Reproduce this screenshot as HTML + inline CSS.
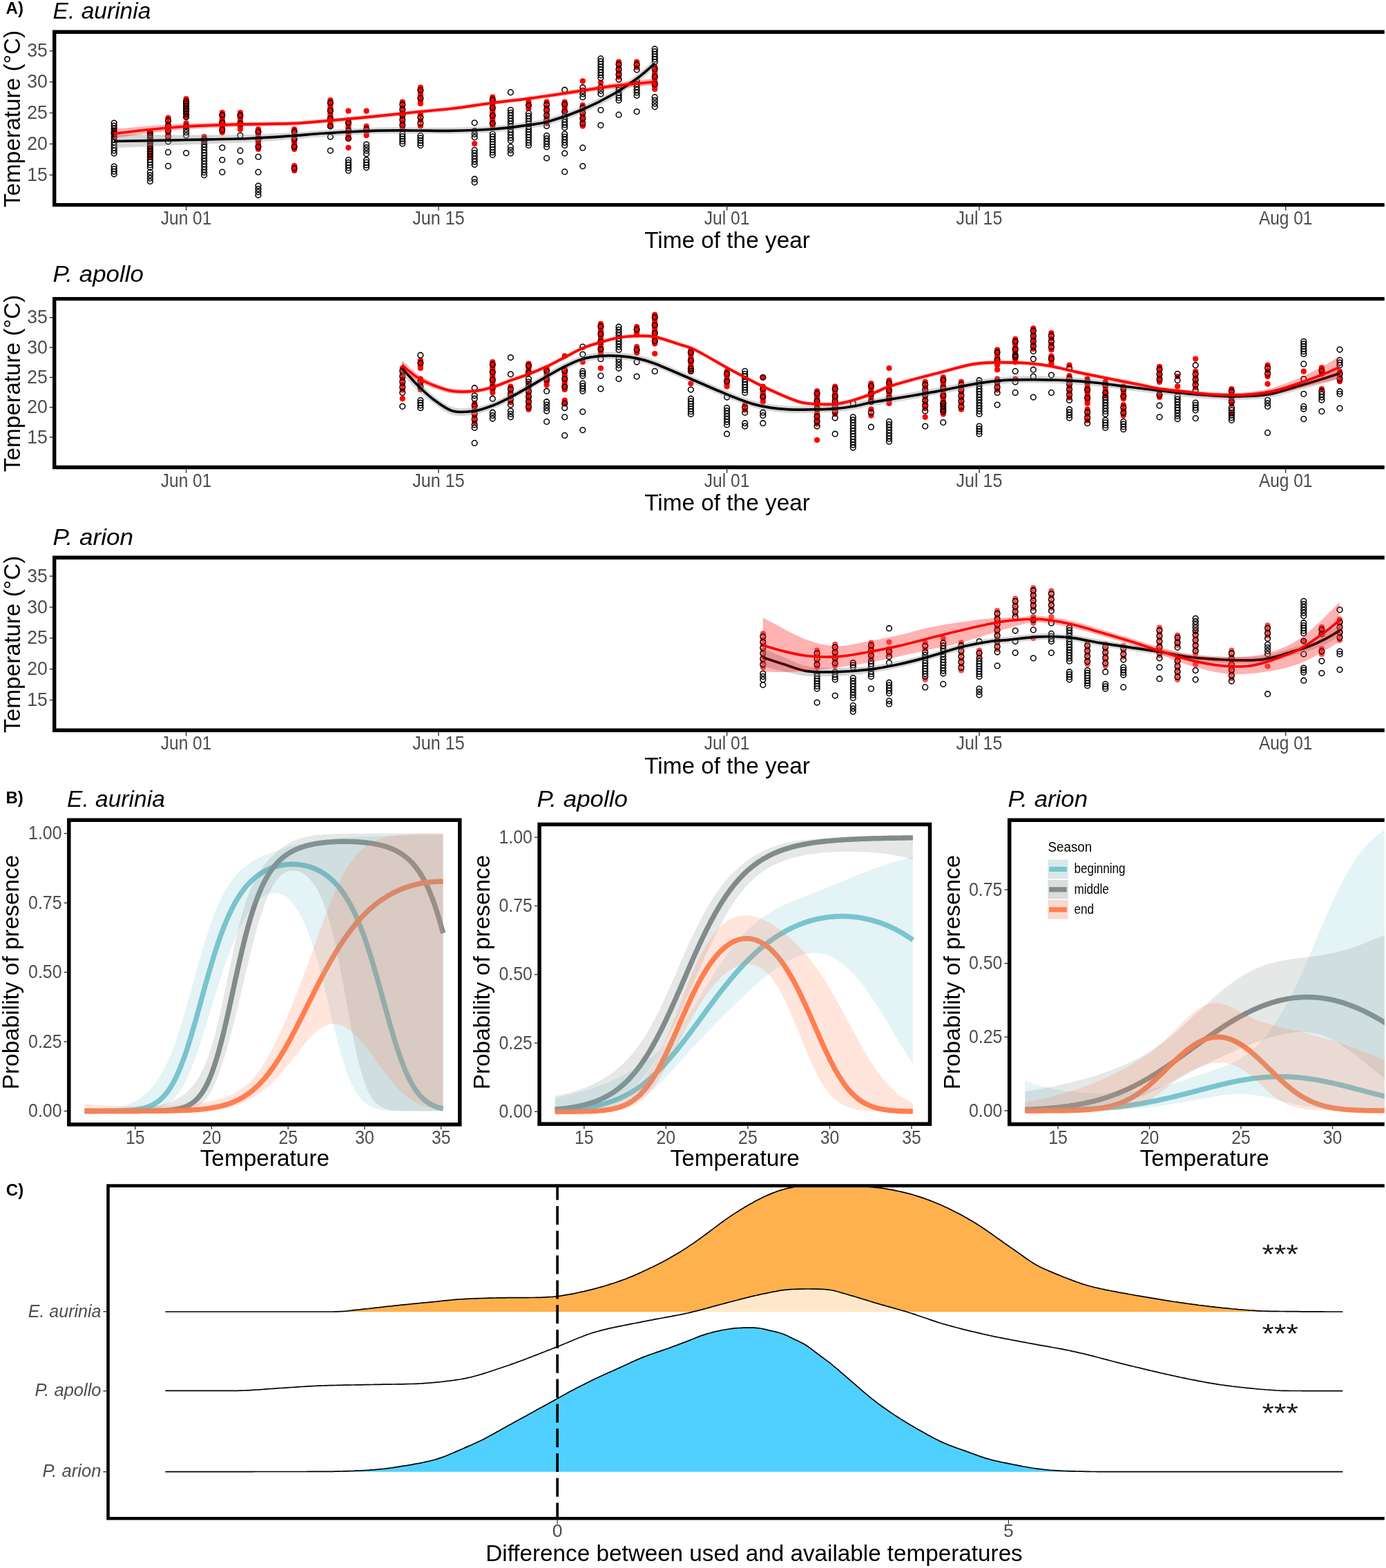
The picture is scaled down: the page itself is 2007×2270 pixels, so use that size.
<!DOCTYPE html>
<html><head><meta charset="utf-8"><title>Figure</title>
<style>html,body{margin:0;padding:0;background:#fff;width:2007px;height:2270px;overflow:hidden}svg{display:block}</style>
</head><body>
<svg width="2007" height="2270" viewBox="0 0 2007 2270" font-family='"Liberation Sans", Arial, sans-serif'><defs><clipPath id="clipA0"><rect x="81.4" y="49" width="2100" height="244.9"/></clipPath><clipPath id="clipA1"><rect x="81.4" y="435.3" width="2100" height="238.5"/></clipPath><clipPath id="clipA2"><rect x="81.4" y="810" width="2100" height="244.6"/></clipPath><clipPath id="clipB1"><rect x="102.6" y="1190" width="560.5" height="435.2"/></clipPath><clipPath id="clipB2"><rect x="783.9" y="1196.3" width="559.9" height="428.2"/></clipPath><clipPath id="clipB3"><rect x="1464.4" y="1189.9" width="630.1" height="434.8"/></clipPath><clipPath id="clipC"><rect x="159" y="1719" width="1900" height="477"/></clipPath></defs><rect width="2007" height="2270" fill="#fff"/><text x="8.6" y="20.1" font-size="24" font-weight="bold">A)</text>
<text x="8.4" y="1163.3" font-size="24" font-weight="bold">B)</text>
<text x="8.8" y="1730.8" font-size="24" font-weight="bold">C)</text>
<text x="76.6" y="27.3" font-size="33.4" font-style="italic" textLength="141.8" lengthAdjust="spacingAndGlyphs">E. aurinia</text>
<g clip-path="url(#clipA0)">
<g fill="#f00" fill-opacity="1"><circle cx="165.2" cy="188" r="4.1"/><circle cx="165.2" cy="192.5" r="4.1"/><circle cx="165.2" cy="197" r="4.1"/><circle cx="217.4" cy="192" r="4.1"/><circle cx="217.4" cy="195.9" r="4.1"/><circle cx="217.4" cy="199.8" r="4.1"/><circle cx="217.4" cy="203.7" r="4.1"/><circle cx="217.4" cy="207.6" r="4.1"/><circle cx="217.4" cy="211.4" r="4.1"/><circle cx="217.4" cy="215.3" r="4.1"/><circle cx="217.4" cy="219.2" r="4.1"/><circle cx="217.4" cy="223.1" r="4.1"/><circle cx="217.4" cy="227" r="4.1"/><circle cx="243.5" cy="170.6" r="4.1"/><circle cx="243.5" cy="178.2" r="4.1"/><circle cx="243.5" cy="185.9" r="4.1"/><circle cx="243.5" cy="193.5" r="4.1"/><circle cx="243.5" cy="201.2" r="4.1"/><circle cx="269.6" cy="143" r="4.1"/><circle cx="269.6" cy="146.8" r="4.1"/><circle cx="269.6" cy="150.6" r="4.1"/><circle cx="269.6" cy="154.4" r="4.1"/><circle cx="269.6" cy="158.1" r="4.1"/><circle cx="269.6" cy="161.9" r="4.1"/><circle cx="269.6" cy="165.7" r="4.1"/><circle cx="269.6" cy="169.5" r="4.1"/><circle cx="269.6" cy="178.4" r="4.1"/><circle cx="269.6" cy="182.8" r="4.1"/><circle cx="295.7" cy="198" r="4.1"/><circle cx="295.7" cy="201.5" r="4.1"/><circle cx="295.7" cy="205" r="4.1"/><circle cx="321.8" cy="163" r="4.1"/><circle cx="321.8" cy="166.6" r="4.1"/><circle cx="321.8" cy="170.2" r="4.1"/><circle cx="321.8" cy="173.8" r="4.1"/><circle cx="321.8" cy="177.3" r="4.1"/><circle cx="321.8" cy="180.9" r="4.1"/><circle cx="321.8" cy="184.5" r="4.1"/><circle cx="321.8" cy="188.1" r="4.1"/><circle cx="321.8" cy="191.7" r="4.1"/><circle cx="347.9" cy="163" r="4.1"/><circle cx="347.9" cy="167" r="4.1"/><circle cx="347.9" cy="171.1" r="4.1"/><circle cx="347.9" cy="175.1" r="4.1"/><circle cx="347.9" cy="179.1" r="4.1"/><circle cx="347.9" cy="183.2" r="4.1"/><circle cx="347.9" cy="187.2" r="4.1"/><circle cx="374" cy="187.2" r="4.1"/><circle cx="374" cy="190.8" r="4.1"/><circle cx="374" cy="194.4" r="4.1"/><circle cx="374" cy="198" r="4.1"/><circle cx="374" cy="201.6" r="4.1"/><circle cx="374" cy="205.2" r="4.1"/><circle cx="374" cy="208.8" r="4.1"/><circle cx="374" cy="212.4" r="4.1"/><circle cx="374" cy="216" r="4.1"/><circle cx="426.2" cy="187" r="4.1"/><circle cx="426.2" cy="190.6" r="4.1"/><circle cx="426.2" cy="194.2" r="4.1"/><circle cx="426.2" cy="197.9" r="4.1"/><circle cx="426.2" cy="201.5" r="4.1"/><circle cx="426.2" cy="205.1" r="4.1"/><circle cx="426.2" cy="208.8" r="4.1"/><circle cx="426.2" cy="212.4" r="4.1"/><circle cx="426.2" cy="216" r="4.1"/><circle cx="426.2" cy="240" r="4.1"/><circle cx="426.2" cy="247" r="4.1"/><circle cx="478.4" cy="145" r="4.1"/><circle cx="478.4" cy="148.8" r="4.1"/><circle cx="478.4" cy="152.6" r="4.1"/><circle cx="478.4" cy="156.3" r="4.1"/><circle cx="478.4" cy="160.1" r="4.1"/><circle cx="478.4" cy="163.9" r="4.1"/><circle cx="478.4" cy="167.7" r="4.1"/><circle cx="478.4" cy="171.5" r="4.1"/><circle cx="478.4" cy="175.2" r="4.1"/><circle cx="478.4" cy="179" r="4.1"/><circle cx="478.4" cy="182.8" r="4.1"/><circle cx="504.5" cy="160.7" r="4.1"/><circle cx="504.5" cy="174" r="4.1"/><circle cx="504.5" cy="177.8" r="4.1"/><circle cx="504.5" cy="181.6" r="4.1"/><circle cx="504.5" cy="185.4" r="4.1"/><circle cx="504.5" cy="189.1" r="4.1"/><circle cx="504.5" cy="192.9" r="4.1"/><circle cx="504.5" cy="196.7" r="4.1"/><circle cx="504.5" cy="200.5" r="4.1"/><circle cx="504.5" cy="213.8" r="4.1"/><circle cx="530.6" cy="160.7" r="4.1"/><circle cx="530.6" cy="182.8" r="4.1"/><circle cx="530.6" cy="187.2" r="4.1"/><circle cx="530.6" cy="191.6" r="4.1"/><circle cx="530.6" cy="196" r="4.1"/><circle cx="582.8" cy="147.6" r="4.1"/><circle cx="582.8" cy="155" r="4.1"/><circle cx="582.8" cy="162.5" r="4.1"/><circle cx="582.8" cy="169.9" r="4.1"/><circle cx="582.8" cy="177.4" r="4.1"/><circle cx="582.8" cy="184.8" r="4.1"/><circle cx="608.9" cy="126.7" r="4.1"/><circle cx="608.9" cy="130.6" r="4.1"/><circle cx="608.9" cy="134.5" r="4.1"/><circle cx="608.9" cy="138.3" r="4.1"/><circle cx="608.9" cy="142.2" r="4.1"/><circle cx="608.9" cy="146.1" r="4.1"/><circle cx="608.9" cy="150" r="4.1"/><circle cx="608.9" cy="166" r="4.1"/><circle cx="608.9" cy="174.2" r="4.1"/><circle cx="608.9" cy="182.5" r="4.1"/><circle cx="687.2" cy="208" r="4.1"/><circle cx="713.3" cy="140.7" r="4.1"/><circle cx="713.3" cy="144.5" r="4.1"/><circle cx="713.3" cy="148.3" r="4.1"/><circle cx="713.3" cy="152.1" r="4.1"/><circle cx="713.3" cy="155.9" r="4.1"/><circle cx="713.3" cy="159.7" r="4.1"/><circle cx="713.3" cy="163.5" r="4.1"/><circle cx="713.3" cy="167.3" r="4.1"/><circle cx="713.3" cy="171.1" r="4.1"/><circle cx="713.3" cy="174.9" r="4.1"/><circle cx="713.3" cy="178.7" r="4.1"/><circle cx="713.3" cy="182.5" r="4.1"/><circle cx="765.5" cy="147.6" r="4.1"/><circle cx="765.5" cy="152.3" r="4.1"/><circle cx="765.5" cy="157" r="4.1"/><circle cx="791.6" cy="147.6" r="4.1"/><circle cx="791.6" cy="155.4" r="4.1"/><circle cx="791.6" cy="163.1" r="4.1"/><circle cx="791.6" cy="170.9" r="4.1"/><circle cx="791.6" cy="178.6" r="4.1"/><circle cx="817.7" cy="147.6" r="4.1"/><circle cx="817.7" cy="151.1" r="4.1"/><circle cx="817.7" cy="154.6" r="4.1"/><circle cx="817.7" cy="158.1" r="4.1"/><circle cx="817.7" cy="161.6" r="4.1"/><circle cx="843.8" cy="117.4" r="4.1"/><circle cx="843.8" cy="152.3" r="4.1"/><circle cx="843.8" cy="159.9" r="4.1"/><circle cx="843.8" cy="167.4" r="4.1"/><circle cx="843.8" cy="174.9" r="4.1"/><circle cx="843.8" cy="182.5" r="4.1"/><circle cx="869.9" cy="119.7" r="4.1"/><circle cx="896" cy="89.5" r="4.1"/><circle cx="896" cy="96.8" r="4.1"/><circle cx="896" cy="104.1" r="4.1"/><circle cx="896" cy="111.4" r="4.1"/><circle cx="922.1" cy="89.5" r="4.1"/><circle cx="922.1" cy="97.2" r="4.1"/><circle cx="948.2" cy="96.5" r="4.1"/><circle cx="948.2" cy="100.1" r="4.1"/><circle cx="948.2" cy="103.7" r="4.1"/><circle cx="948.2" cy="107.3" r="4.1"/><circle cx="948.2" cy="110.9" r="4.1"/><circle cx="948.2" cy="114.6" r="4.1"/><circle cx="948.2" cy="118.2" r="4.1"/><circle cx="948.2" cy="121.8" r="4.1"/><circle cx="948.2" cy="125.4" r="4.1"/><circle cx="948.2" cy="129" r="4.1"/></g><g fill="none" stroke="#000" stroke-width="1.55"><circle cx="165.2" cy="178" r="3.85"/><circle cx="165.2" cy="182" r="3.85"/><circle cx="165.2" cy="186" r="3.85"/><circle cx="165.2" cy="190" r="3.85"/><circle cx="165.2" cy="194" r="3.85"/><circle cx="165.2" cy="198" r="3.85"/><circle cx="165.2" cy="202" r="3.85"/><circle cx="165.2" cy="206" r="3.85"/><circle cx="165.2" cy="210" r="3.85"/><circle cx="165.2" cy="214" r="3.85"/><circle cx="165.2" cy="218" r="3.85"/><circle cx="165.2" cy="222" r="3.85"/><circle cx="165.2" cy="241" r="3.85"/><circle cx="165.2" cy="244.7" r="3.85"/><circle cx="165.2" cy="248.3" r="3.85"/><circle cx="165.2" cy="252" r="3.85"/><circle cx="165.2" cy="192.5" r="3.85"/><circle cx="217.4" cy="195.9" r="3.85"/><circle cx="217.4" cy="207.6" r="3.85"/><circle cx="217.4" cy="219.2" r="3.85"/><circle cx="217.4" cy="192" r="3.85"/><circle cx="217.4" cy="195.9" r="3.85"/><circle cx="217.4" cy="199.8" r="3.85"/><circle cx="217.4" cy="203.7" r="3.85"/><circle cx="217.4" cy="207.6" r="3.85"/><circle cx="217.4" cy="211.5" r="3.85"/><circle cx="217.4" cy="215.4" r="3.85"/><circle cx="217.4" cy="219.2" r="3.85"/><circle cx="217.4" cy="223.1" r="3.85"/><circle cx="217.4" cy="227" r="3.85"/><circle cx="217.4" cy="230.9" r="3.85"/><circle cx="217.4" cy="234.8" r="3.85"/><circle cx="217.4" cy="238.7" r="3.85"/><circle cx="217.4" cy="242.6" r="3.85"/><circle cx="217.4" cy="249.2" r="3.85"/><circle cx="217.4" cy="253.6" r="3.85"/><circle cx="217.4" cy="258.1" r="3.85"/><circle cx="217.4" cy="262.5" r="3.85"/><circle cx="243.5" cy="174.4" r="3.85"/><circle cx="243.5" cy="182.1" r="3.85"/><circle cx="243.5" cy="189.7" r="3.85"/><circle cx="243.5" cy="197.4" r="3.85"/><circle cx="243.5" cy="205" r="3.85"/><circle cx="243.5" cy="220.4" r="3.85"/><circle cx="243.5" cy="240.4" r="3.85"/><circle cx="269.6" cy="146.8" r="3.85"/><circle cx="269.6" cy="158.1" r="3.85"/><circle cx="269.6" cy="169.5" r="3.85"/><circle cx="269.6" cy="150" r="3.85"/><circle cx="269.6" cy="153.8" r="3.85"/><circle cx="269.6" cy="157.5" r="3.85"/><circle cx="269.6" cy="161.2" r="3.85"/><circle cx="269.6" cy="165" r="3.85"/><circle cx="269.6" cy="182.8" r="3.85"/><circle cx="269.6" cy="187" r="3.85"/><circle cx="269.6" cy="191.5" r="3.85"/><circle cx="269.6" cy="196" r="3.85"/><circle cx="269.6" cy="221.6" r="3.85"/><circle cx="295.7" cy="201.5" r="3.85"/><circle cx="295.7" cy="205" r="3.85"/><circle cx="295.7" cy="209.1" r="3.85"/><circle cx="295.7" cy="213.1" r="3.85"/><circle cx="295.7" cy="217.2" r="3.85"/><circle cx="295.7" cy="221.2" r="3.85"/><circle cx="295.7" cy="225.2" r="3.85"/><circle cx="295.7" cy="229.3" r="3.85"/><circle cx="295.7" cy="233.3" r="3.85"/><circle cx="295.7" cy="237.4" r="3.85"/><circle cx="295.7" cy="241.4" r="3.85"/><circle cx="295.7" cy="245.5" r="3.85"/><circle cx="295.7" cy="249.5" r="3.85"/><circle cx="295.7" cy="253.6" r="3.85"/><circle cx="321.8" cy="166.6" r="3.85"/><circle cx="321.8" cy="177.3" r="3.85"/><circle cx="321.8" cy="188.1" r="3.85"/><circle cx="321.8" cy="213.8" r="3.85"/><circle cx="321.8" cy="231.5" r="3.85"/><circle cx="321.8" cy="249.2" r="3.85"/><circle cx="347.9" cy="167" r="3.85"/><circle cx="347.9" cy="179.1" r="3.85"/><circle cx="347.9" cy="196" r="3.85"/><circle cx="347.9" cy="218.2" r="3.85"/><circle cx="347.9" cy="233.7" r="3.85"/><circle cx="374" cy="190.8" r="3.85"/><circle cx="374" cy="201.6" r="3.85"/><circle cx="374" cy="212.4" r="3.85"/><circle cx="374" cy="227" r="3.85"/><circle cx="374" cy="249.2" r="3.85"/><circle cx="374" cy="269" r="3.85"/><circle cx="374" cy="273.5" r="3.85"/><circle cx="374" cy="277.9" r="3.85"/><circle cx="374" cy="282.4" r="3.85"/><circle cx="426.2" cy="190.6" r="3.85"/><circle cx="426.2" cy="201.5" r="3.85"/><circle cx="426.2" cy="212.4" r="3.85"/><circle cx="426.2" cy="243.5" r="3.85"/><circle cx="478.4" cy="148.8" r="3.85"/><circle cx="478.4" cy="160.1" r="3.85"/><circle cx="478.4" cy="171.5" r="3.85"/><circle cx="478.4" cy="182.8" r="3.85"/><circle cx="478.4" cy="198" r="3.85"/><circle cx="478.4" cy="218" r="3.85"/><circle cx="504.5" cy="177.8" r="3.85"/><circle cx="504.5" cy="189.1" r="3.85"/><circle cx="504.5" cy="200.5" r="3.85"/><circle cx="504.5" cy="231.5" r="3.85"/><circle cx="504.5" cy="235.4" r="3.85"/><circle cx="504.5" cy="239.2" r="3.85"/><circle cx="504.5" cy="243.1" r="3.85"/><circle cx="504.5" cy="247" r="3.85"/><circle cx="530.6" cy="187.2" r="3.85"/><circle cx="530.6" cy="209" r="3.85"/><circle cx="530.6" cy="213.6" r="3.85"/><circle cx="530.6" cy="218.1" r="3.85"/><circle cx="530.6" cy="222.7" r="3.85"/><circle cx="530.6" cy="231.5" r="3.85"/><circle cx="530.6" cy="235.2" r="3.85"/><circle cx="530.6" cy="238.9" r="3.85"/><circle cx="530.6" cy="242.6" r="3.85"/><circle cx="582.8" cy="151.3" r="3.85"/><circle cx="582.8" cy="158.8" r="3.85"/><circle cx="582.8" cy="166.2" r="3.85"/><circle cx="582.8" cy="173.6" r="3.85"/><circle cx="582.8" cy="181.1" r="3.85"/><circle cx="582.8" cy="194" r="3.85"/><circle cx="582.8" cy="197.5" r="3.85"/><circle cx="582.8" cy="201" r="3.85"/><circle cx="582.8" cy="204.5" r="3.85"/><circle cx="582.8" cy="208" r="3.85"/><circle cx="608.9" cy="130.6" r="3.85"/><circle cx="608.9" cy="142.2" r="3.85"/><circle cx="608.9" cy="170.1" r="3.85"/><circle cx="608.9" cy="178.4" r="3.85"/><circle cx="608.9" cy="196.4" r="3.85"/><circle cx="608.9" cy="199.9" r="3.85"/><circle cx="608.9" cy="203.4" r="3.85"/><circle cx="608.9" cy="206.9" r="3.85"/><circle cx="608.9" cy="210.4" r="3.85"/><circle cx="687.2" cy="177.8" r="3.85"/><circle cx="687.2" cy="189.5" r="3.85"/><circle cx="687.2" cy="194.2" r="3.85"/><circle cx="687.2" cy="198.8" r="3.85"/><circle cx="687.2" cy="217.4" r="3.85"/><circle cx="687.2" cy="221.6" r="3.85"/><circle cx="687.2" cy="225.8" r="3.85"/><circle cx="687.2" cy="229.9" r="3.85"/><circle cx="687.2" cy="234.1" r="3.85"/><circle cx="687.2" cy="238.3" r="3.85"/><circle cx="687.2" cy="259.2" r="3.85"/><circle cx="687.2" cy="263.9" r="3.85"/><circle cx="713.3" cy="144.5" r="3.85"/><circle cx="713.3" cy="155.9" r="3.85"/><circle cx="713.3" cy="167.3" r="3.85"/><circle cx="713.3" cy="178.7" r="3.85"/><circle cx="713.3" cy="194" r="3.85"/><circle cx="713.3" cy="197.8" r="3.85"/><circle cx="713.3" cy="201.6" r="3.85"/><circle cx="713.3" cy="205.4" r="3.85"/><circle cx="713.3" cy="209.2" r="3.85"/><circle cx="713.3" cy="212.9" r="3.85"/><circle cx="713.3" cy="216.7" r="3.85"/><circle cx="713.3" cy="220.5" r="3.85"/><circle cx="713.3" cy="224.3" r="3.85"/><circle cx="739.4" cy="133.7" r="3.85"/><circle cx="739.4" cy="159.3" r="3.85"/><circle cx="739.4" cy="163.3" r="3.85"/><circle cx="739.4" cy="167.3" r="3.85"/><circle cx="739.4" cy="171.3" r="3.85"/><circle cx="739.4" cy="175.3" r="3.85"/><circle cx="739.4" cy="179.3" r="3.85"/><circle cx="739.4" cy="183.4" r="3.85"/><circle cx="739.4" cy="187.4" r="3.85"/><circle cx="739.4" cy="191.4" r="3.85"/><circle cx="739.4" cy="195.4" r="3.85"/><circle cx="739.4" cy="199.4" r="3.85"/><circle cx="739.4" cy="203.4" r="3.85"/><circle cx="739.4" cy="212.7" r="3.85"/><circle cx="739.4" cy="217.3" r="3.85"/><circle cx="739.4" cy="222" r="3.85"/><circle cx="765.5" cy="152.3" r="3.85"/><circle cx="765.5" cy="163.9" r="3.85"/><circle cx="765.5" cy="167.8" r="3.85"/><circle cx="765.5" cy="171.7" r="3.85"/><circle cx="765.5" cy="175.5" r="3.85"/><circle cx="765.5" cy="179.4" r="3.85"/><circle cx="765.5" cy="183.3" r="3.85"/><circle cx="765.5" cy="187.2" r="3.85"/><circle cx="765.5" cy="191" r="3.85"/><circle cx="765.5" cy="194.9" r="3.85"/><circle cx="765.5" cy="198.8" r="3.85"/><circle cx="765.5" cy="202.7" r="3.85"/><circle cx="765.5" cy="206.5" r="3.85"/><circle cx="765.5" cy="210.4" r="3.85"/><circle cx="791.6" cy="151.5" r="3.85"/><circle cx="791.6" cy="159.2" r="3.85"/><circle cx="791.6" cy="167" r="3.85"/><circle cx="791.6" cy="174.7" r="3.85"/><circle cx="791.6" cy="182.5" r="3.85"/><circle cx="791.6" cy="196.4" r="3.85"/><circle cx="791.6" cy="200.5" r="3.85"/><circle cx="791.6" cy="204.6" r="3.85"/><circle cx="791.6" cy="208.6" r="3.85"/><circle cx="791.6" cy="212.7" r="3.85"/><circle cx="791.6" cy="229" r="3.85"/><circle cx="817.7" cy="130.2" r="3.85"/><circle cx="817.7" cy="151.1" r="3.85"/><circle cx="817.7" cy="161.6" r="3.85"/><circle cx="817.7" cy="168.5" r="3.85"/><circle cx="817.7" cy="172.6" r="3.85"/><circle cx="817.7" cy="176.7" r="3.85"/><circle cx="817.7" cy="180.7" r="3.85"/><circle cx="817.7" cy="184.8" r="3.85"/><circle cx="817.7" cy="194" r="3.85"/><circle cx="817.7" cy="198.1" r="3.85"/><circle cx="817.7" cy="202.2" r="3.85"/><circle cx="817.7" cy="206.3" r="3.85"/><circle cx="817.7" cy="210.4" r="3.85"/><circle cx="817.7" cy="222" r="3.85"/><circle cx="817.7" cy="248.7" r="3.85"/><circle cx="843.8" cy="126.7" r="3.85"/><circle cx="843.8" cy="131.4" r="3.85"/><circle cx="843.8" cy="136" r="3.85"/><circle cx="843.8" cy="140.7" r="3.85"/><circle cx="843.8" cy="156.1" r="3.85"/><circle cx="843.8" cy="163.6" r="3.85"/><circle cx="843.8" cy="171.2" r="3.85"/><circle cx="843.8" cy="178.7" r="3.85"/><circle cx="843.8" cy="213.9" r="3.85"/><circle cx="843.8" cy="240.6" r="3.85"/><circle cx="869.9" cy="84.9" r="3.85"/><circle cx="869.9" cy="88.9" r="3.85"/><circle cx="869.9" cy="92.9" r="3.85"/><circle cx="869.9" cy="96.9" r="3.85"/><circle cx="869.9" cy="100.8" r="3.85"/><circle cx="869.9" cy="104.8" r="3.85"/><circle cx="869.9" cy="108.8" r="3.85"/><circle cx="869.9" cy="112.8" r="3.85"/><circle cx="869.9" cy="126.7" r="3.85"/><circle cx="869.9" cy="131.3" r="3.85"/><circle cx="869.9" cy="136" r="3.85"/><circle cx="869.9" cy="159.3" r="3.85"/><circle cx="869.9" cy="181.3" r="3.85"/><circle cx="896" cy="93.1" r="3.85"/><circle cx="896" cy="100.4" r="3.85"/><circle cx="896" cy="107.7" r="3.85"/><circle cx="896" cy="115" r="3.85"/><circle cx="896" cy="126.7" r="3.85"/><circle cx="896" cy="130.4" r="3.85"/><circle cx="896" cy="134.1" r="3.85"/><circle cx="896" cy="137.9" r="3.85"/><circle cx="896" cy="141.6" r="3.85"/><circle cx="896" cy="145.3" r="3.85"/><circle cx="896" cy="166.2" r="3.85"/><circle cx="922.1" cy="93.4" r="3.85"/><circle cx="922.1" cy="101.1" r="3.85"/><circle cx="922.1" cy="117.4" r="3.85"/><circle cx="922.1" cy="121.6" r="3.85"/><circle cx="922.1" cy="125.8" r="3.85"/><circle cx="922.1" cy="129.9" r="3.85"/><circle cx="922.1" cy="134.1" r="3.85"/><circle cx="922.1" cy="138.3" r="3.85"/><circle cx="922.1" cy="161.6" r="3.85"/><circle cx="948.2" cy="70.9" r="3.85"/><circle cx="948.2" cy="74.6" r="3.85"/><circle cx="948.2" cy="78.3" r="3.85"/><circle cx="948.2" cy="82.1" r="3.85"/><circle cx="948.2" cy="85.8" r="3.85"/><circle cx="948.2" cy="89.5" r="3.85"/><circle cx="948.2" cy="100.1" r="3.85"/><circle cx="948.2" cy="110.9" r="3.85"/><circle cx="948.2" cy="121.8" r="3.85"/><circle cx="948.2" cy="140.7" r="3.85"/><circle cx="948.2" cy="145.3" r="3.85"/><circle cx="948.2" cy="150" r="3.85"/><circle cx="948.2" cy="154.6" r="3.85"/></g><path d="M165 194.5 C182.5 194.7 237.5 195.4 270 195.5 C302.5 195.6 334.2 195.5 360 194.9 C385.8 194.2 406.7 192.7 425 191.6 C443.3 190.5 450.8 189.3 470 188.2 C489.2 187.1 518.3 185.3 540 184.7 C561.7 184.1 581.5 184.4 600 184.4 C618.5 184.4 632.2 185 651 184.7 C669.8 184.4 694.3 183.7 713 182.4 C731.7 181 749.2 178.5 763 176.5 C776.8 174.6 782.5 174.3 795.7 170.6 C808.9 166.9 826.5 161 842 154.3 C857.5 147.6 875.1 138.4 888.7 130.6 C902.3 122.7 913.5 114.5 923.5 107 C933.5 99.6 944.2 89.3 948.4 85.8 L948.4 97.8 C944.2 101.3 933.5 111.3 923.5 118.6 C913.5 125.8 902.3 133.8 888.7 141.4 C875.1 149.1 857.5 157.8 842 164.3 C826.5 170.8 808.9 176.7 795.7 180.4 C782.5 184 776.8 184.2 763 186.1 C749.2 188 731.7 190.3 713 191.6 C694.3 192.9 669.8 193.6 651 193.9 C632.2 194.2 618.5 193.6 600 193.6 C581.5 193.6 561.7 193.2 540 193.9 C518.3 194.6 489.2 196.5 470 197.8 C450.8 199.1 443.3 200 425 201.4 C406.7 202.8 385.8 204.8 360 206.1 C334.2 207.5 302.5 208.1 270 209.5 C237.5 210.9 182.5 213.7 165 214.5 Z" fill="#999" fill-opacity="0.4"/><path d="M165 204.5 C182.5 204.2 237.5 203.2 270 202.5 C302.5 201.8 334.2 201.5 360 200.5 C385.8 199.5 406.7 197.8 425 196.5 C443.3 195.2 450.8 194.2 470 193 C489.2 191.8 518.3 190 540 189.3 C561.7 188.6 581.5 189 600 189 C618.5 189 632.2 189.6 651 189.3 C669.8 189 694.3 188.3 713 187 C731.7 185.7 749.2 183.2 763 181.3 C776.8 179.4 782.5 179.2 795.7 175.5 C808.9 171.8 826.5 165.9 842 159.3 C857.5 152.7 875.1 143.8 888.7 136 C902.3 128.2 913.5 120.2 923.5 112.8 C933.5 105.4 944.2 95.3 948.4 91.8" fill="none" stroke="#000" stroke-width="3.7" stroke-linejoin="round"/><path d="M165 186.9 C173.7 186.1 199.5 183.5 217 182.2 C234.5 180.9 252.5 179.8 270 179 C287.5 178.2 304.7 177.6 322 177.2 C339.3 176.8 356.7 176.7 374 176.4 C391.3 176.1 408.7 176.4 426 175.6 C443.3 174.8 459 173.1 478 171.5 C497 169.9 519.7 167.8 540 165.8 C560.3 163.8 580.7 161.5 600 159.5 C619.3 157.5 637.2 156.2 656 154 C674.8 151.8 693.7 148.5 713 146 C732.3 143.5 750.5 141.8 772 138.8 C793.5 135.8 822.5 130.9 842 127.8 C861.5 124.7 871.3 122.6 889 120.2 C906.7 117.8 938.5 114.7 948.4 113.6 L948.4 123.6 C938.5 124.4 906.7 126.7 889 128.6 C871.3 130.5 861.5 132.3 842 135 C822.5 137.7 793.5 142 772 144.8 C750.5 147.6 732.3 149.5 713 152 C693.7 154.5 674.8 157.8 656 160 C637.2 162.2 619.3 163.5 600 165.5 C580.7 167.5 560.3 169.8 540 171.8 C519.7 173.8 497 175.9 478 177.5 C459 179.1 443.3 180.7 426 181.6 C408.7 182.5 391.3 182.3 374 182.8 C356.7 183.3 339.3 183.7 322 184.4 C304.7 185.1 287.5 185.6 270 187 C252.5 188.4 234.5 190.6 217 192.8 C199.5 195 173.7 198.9 165 200.1 Z" fill="#f00" fill-opacity="0.3"/><path d="M165 193.5 C173.7 192.5 199.5 189.2 217 187.5 C234.5 185.8 252.5 184.1 270 183 C287.5 181.9 304.7 181.4 322 180.8 C339.3 180.2 356.7 180 374 179.6 C391.3 179.2 408.7 179.4 426 178.6 C443.3 177.8 459 176.1 478 174.5 C497 172.9 519.7 170.8 540 168.8 C560.3 166.8 580.7 164.5 600 162.5 C619.3 160.5 637.2 159.2 656 157 C674.8 154.8 693.7 151.5 713 149 C732.3 146.5 750.5 144.7 772 141.8 C793.5 138.9 822.5 134.3 842 131.4 C861.5 128.5 871.3 126.5 889 124.4 C906.7 122.3 938.5 119.6 948.4 118.6" fill="none" stroke="#f00" stroke-width="3.7" stroke-linejoin="round"/>
</g>
<path d="M2030 46.3 H78.7 V296.6 H2030" fill="none" stroke="#000" stroke-width="5.4"/>
<line x1="71.6" y1="253.3" x2="76" y2="253.3" stroke="#333" stroke-width="1.4" />
<text x="68.9" y="261.9" font-size="27" text-anchor="end" fill="#4D4D4D" textLength="29.7" lengthAdjust="spacingAndGlyphs">15</text>
<line x1="71.6" y1="208.4" x2="76" y2="208.4" stroke="#333" stroke-width="1.4" />
<text x="68.9" y="217" font-size="27" text-anchor="end" fill="#4D4D4D" textLength="29.7" lengthAdjust="spacingAndGlyphs">20</text>
<line x1="71.6" y1="163.5" x2="76" y2="163.5" stroke="#333" stroke-width="1.4" />
<text x="68.9" y="172.1" font-size="27" text-anchor="end" fill="#4D4D4D" textLength="29.7" lengthAdjust="spacingAndGlyphs">25</text>
<line x1="71.6" y1="118.6" x2="76" y2="118.6" stroke="#333" stroke-width="1.4" />
<text x="68.9" y="127.2" font-size="27" text-anchor="end" fill="#4D4D4D" textLength="29.7" lengthAdjust="spacingAndGlyphs">30</text>
<line x1="71.6" y1="73.7" x2="76" y2="73.7" stroke="#333" stroke-width="1.4" />
<text x="68.9" y="82.3" font-size="27" text-anchor="end" fill="#4D4D4D" textLength="29.7" lengthAdjust="spacingAndGlyphs">35</text>
<line x1="269.6" y1="298.2" x2="269.6" y2="304.8" stroke="#333" stroke-width="1.4" />
<text x="269.6" y="324.6" font-size="27" text-anchor="middle" fill="#4D4D4D" textLength="73.6" lengthAdjust="spacingAndGlyphs">Jun 01</text>
<line x1="635" y1="298.2" x2="635" y2="304.8" stroke="#333" stroke-width="1.4" />
<text x="635" y="324.6" font-size="27" text-anchor="middle" fill="#4D4D4D" textLength="75.7" lengthAdjust="spacingAndGlyphs">Jun 15</text>
<line x1="1052.6" y1="298.2" x2="1052.6" y2="304.8" stroke="#333" stroke-width="1.4" />
<text x="1052.6" y="324.6" font-size="27" text-anchor="middle" fill="#4D4D4D" textLength="65.7" lengthAdjust="spacingAndGlyphs">Jul 01</text>
<line x1="1418" y1="298.2" x2="1418" y2="304.8" stroke="#333" stroke-width="1.4" />
<text x="1418" y="324.6" font-size="27" text-anchor="middle" fill="#4D4D4D" textLength="66.8" lengthAdjust="spacingAndGlyphs">Jul 15</text>
<line x1="1861.7" y1="298.2" x2="1861.7" y2="304.8" stroke="#333" stroke-width="1.4" />
<text x="1861.7" y="324.6" font-size="27" text-anchor="middle" fill="#4D4D4D" textLength="77.6" lengthAdjust="spacingAndGlyphs">Aug 01</text>
<text x="1053" y="359" font-size="33.4" text-anchor="middle" textLength="239.7" lengthAdjust="spacingAndGlyphs">Time of the year</text>
<text x="29.3" y="172" font-size="33.4" text-anchor="middle" transform="rotate(-90 29.3 172)">Temperature (°C)</text>
<text x="76.6" y="407.6" font-size="33.4" font-style="italic" textLength="131.3" lengthAdjust="spacingAndGlyphs">P. apollo</text>
<g clip-path="url(#clipA1)">
<g fill="#f00" fill-opacity="1"><circle cx="582.8" cy="533" r="4.1"/><circle cx="582.8" cy="540.9" r="4.1"/><circle cx="582.8" cy="548.7" r="4.1"/><circle cx="582.8" cy="556.6" r="4.1"/><circle cx="582.8" cy="564.5" r="4.1"/><circle cx="582.8" cy="577.2" r="4.1"/><circle cx="608.9" cy="521.9" r="4.1"/><circle cx="608.9" cy="525.6" r="4.1"/><circle cx="608.9" cy="529.3" r="4.1"/><circle cx="608.9" cy="533" r="4.1"/><circle cx="608.9" cy="548.5" r="4.1"/><circle cx="608.9" cy="556.2" r="4.1"/><circle cx="608.9" cy="564" r="4.1"/><circle cx="687.2" cy="583.9" r="4.1"/><circle cx="687.2" cy="587.2" r="4.1"/><circle cx="687.2" cy="590.5" r="4.1"/><circle cx="687.2" cy="595" r="4.1"/><circle cx="687.2" cy="603" r="4.1"/><circle cx="687.2" cy="610.9" r="4.1"/><circle cx="713.3" cy="524" r="4.1"/><circle cx="713.3" cy="527.7" r="4.1"/><circle cx="713.3" cy="531.4" r="4.1"/><circle cx="713.3" cy="535.1" r="4.1"/><circle cx="713.3" cy="538.8" r="4.1"/><circle cx="713.3" cy="542.5" r="4.1"/><circle cx="713.3" cy="546.2" r="4.1"/><circle cx="713.3" cy="549.9" r="4.1"/><circle cx="713.3" cy="553.6" r="4.1"/><circle cx="713.3" cy="557.3" r="4.1"/><circle cx="713.3" cy="561" r="4.1"/><circle cx="713.3" cy="564.7" r="4.1"/><circle cx="713.3" cy="568.4" r="4.1"/><circle cx="739.4" cy="559.5" r="4.1"/><circle cx="739.4" cy="567.1" r="4.1"/><circle cx="739.4" cy="574.7" r="4.1"/><circle cx="739.4" cy="582.3" r="4.1"/><circle cx="765.5" cy="526.3" r="4.1"/><circle cx="765.5" cy="529.6" r="4.1"/><circle cx="765.5" cy="533" r="4.1"/><circle cx="765.5" cy="536.3" r="4.1"/><circle cx="765.5" cy="539.6" r="4.1"/><circle cx="765.5" cy="555.1" r="4.1"/><circle cx="765.5" cy="562.6" r="4.1"/><circle cx="765.5" cy="570.1" r="4.1"/><circle cx="765.5" cy="577.7" r="4.1"/><circle cx="765.5" cy="585.2" r="4.1"/><circle cx="765.5" cy="592.7" r="4.1"/><circle cx="791.6" cy="533" r="4.1"/><circle cx="791.6" cy="537" r="4.1"/><circle cx="791.6" cy="541.1" r="4.1"/><circle cx="791.6" cy="545.1" r="4.1"/><circle cx="791.6" cy="549.2" r="4.1"/><circle cx="791.6" cy="553.2" r="4.1"/><circle cx="791.6" cy="557.3" r="4.1"/><circle cx="817.7" cy="515.3" r="4.1"/><circle cx="817.7" cy="533" r="4.1"/><circle cx="817.7" cy="536.9" r="4.1"/><circle cx="817.7" cy="540.8" r="4.1"/><circle cx="817.7" cy="544.6" r="4.1"/><circle cx="817.7" cy="548.5" r="4.1"/><circle cx="817.7" cy="552.4" r="4.1"/><circle cx="817.7" cy="556.2" r="4.1"/><circle cx="817.7" cy="560.1" r="4.1"/><circle cx="817.7" cy="564" r="4.1"/><circle cx="817.7" cy="579.5" r="4.1"/><circle cx="817.7" cy="583.9" r="4.1"/><circle cx="843.8" cy="524" r="4.1"/><circle cx="869.9" cy="468.8" r="4.1"/><circle cx="869.9" cy="472.5" r="4.1"/><circle cx="869.9" cy="476.2" r="4.1"/><circle cx="869.9" cy="479.9" r="4.1"/><circle cx="869.9" cy="483.5" r="4.1"/><circle cx="869.9" cy="487.2" r="4.1"/><circle cx="869.9" cy="490.9" r="4.1"/><circle cx="869.9" cy="494.6" r="4.1"/><circle cx="869.9" cy="498.3" r="4.1"/><circle cx="869.9" cy="501.9" r="4.1"/><circle cx="869.9" cy="505.6" r="4.1"/><circle cx="869.9" cy="509.3" r="4.1"/><circle cx="869.9" cy="513" r="4.1"/><circle cx="869.9" cy="533" r="4.1"/><circle cx="922.1" cy="473.2" r="4.1"/><circle cx="922.1" cy="476.9" r="4.1"/><circle cx="922.1" cy="480.6" r="4.1"/><circle cx="922.1" cy="484.3" r="4.1"/><circle cx="922.1" cy="502" r="4.1"/><circle cx="922.1" cy="506.4" r="4.1"/><circle cx="922.1" cy="510.8" r="4.1"/><circle cx="948.2" cy="455.5" r="4.1"/><circle cx="948.2" cy="459.3" r="4.1"/><circle cx="948.2" cy="463.2" r="4.1"/><circle cx="948.2" cy="467" r="4.1"/><circle cx="948.2" cy="470.8" r="4.1"/><circle cx="948.2" cy="474.6" r="4.1"/><circle cx="948.2" cy="478.5" r="4.1"/><circle cx="948.2" cy="482.3" r="4.1"/><circle cx="948.2" cy="486.1" r="4.1"/><circle cx="948.2" cy="489.9" r="4.1"/><circle cx="948.2" cy="493.8" r="4.1"/><circle cx="948.2" cy="497.6" r="4.1"/><circle cx="948.2" cy="512" r="4.1"/><circle cx="1000.4" cy="506.4" r="4.1"/><circle cx="1000.4" cy="510.3" r="4.1"/><circle cx="1000.4" cy="514.1" r="4.1"/><circle cx="1000.4" cy="518" r="4.1"/><circle cx="1000.4" cy="521.9" r="4.1"/><circle cx="1000.4" cy="525.8" r="4.1"/><circle cx="1000.4" cy="529.6" r="4.1"/><circle cx="1000.4" cy="533.5" r="4.1"/><circle cx="1000.4" cy="537.4" r="4.1"/><circle cx="1000.4" cy="555.1" r="4.1"/><circle cx="1052.6" cy="537.4" r="4.1"/><circle cx="1052.6" cy="541.1" r="4.1"/><circle cx="1052.6" cy="544.8" r="4.1"/><circle cx="1052.6" cy="548.5" r="4.1"/><circle cx="1052.6" cy="552.1" r="4.1"/><circle cx="1052.6" cy="555.8" r="4.1"/><circle cx="1052.6" cy="559.5" r="4.1"/><circle cx="1078.7" cy="586.1" r="4.1"/><circle cx="1078.7" cy="593.5" r="4.1"/><circle cx="1104.8" cy="546.3" r="4.1"/><circle cx="1104.8" cy="559.5" r="4.1"/><circle cx="1104.8" cy="563.2" r="4.1"/><circle cx="1104.8" cy="566.9" r="4.1"/><circle cx="1104.8" cy="570.6" r="4.1"/><circle cx="1104.8" cy="574.3" r="4.1"/><circle cx="1104.8" cy="578" r="4.1"/><circle cx="1104.8" cy="581.7" r="4.1"/><circle cx="1183.1" cy="566.2" r="4.1"/><circle cx="1183.1" cy="569.8" r="4.1"/><circle cx="1183.1" cy="573.4" r="4.1"/><circle cx="1183.1" cy="577" r="4.1"/><circle cx="1183.1" cy="580.6" r="4.1"/><circle cx="1183.1" cy="584.2" r="4.1"/><circle cx="1183.1" cy="587.8" r="4.1"/><circle cx="1183.1" cy="591.4" r="4.1"/><circle cx="1183.1" cy="595" r="4.1"/><circle cx="1183.1" cy="599.4" r="4.1"/><circle cx="1183.1" cy="606.5" r="4.1"/><circle cx="1183.1" cy="613.6" r="4.1"/><circle cx="1183.1" cy="637" r="4.1"/><circle cx="1209.2" cy="559.5" r="4.1"/><circle cx="1209.2" cy="563" r="4.1"/><circle cx="1209.2" cy="566.6" r="4.1"/><circle cx="1209.2" cy="570.1" r="4.1"/><circle cx="1209.2" cy="573.7" r="4.1"/><circle cx="1209.2" cy="577.2" r="4.1"/><circle cx="1209.2" cy="577.2" r="4.1"/><circle cx="1209.2" cy="584.6" r="4.1"/><circle cx="1209.2" cy="592" r="4.1"/><circle cx="1209.2" cy="599.4" r="4.1"/><circle cx="1261.4" cy="555.1" r="4.1"/><circle cx="1261.4" cy="558.9" r="4.1"/><circle cx="1261.4" cy="562.7" r="4.1"/><circle cx="1261.4" cy="566.5" r="4.1"/><circle cx="1261.4" cy="570.3" r="4.1"/><circle cx="1261.4" cy="574.1" r="4.1"/><circle cx="1261.4" cy="577.9" r="4.1"/><circle cx="1261.4" cy="581.7" r="4.1"/><circle cx="1261.4" cy="592.7" r="4.1"/><circle cx="1261.4" cy="601.6" r="4.1"/><circle cx="1287.5" cy="533" r="4.1"/><circle cx="1287.5" cy="550.7" r="4.1"/><circle cx="1287.5" cy="554.4" r="4.1"/><circle cx="1287.5" cy="558.1" r="4.1"/><circle cx="1287.5" cy="561.8" r="4.1"/><circle cx="1287.5" cy="565.5" r="4.1"/><circle cx="1287.5" cy="569.1" r="4.1"/><circle cx="1287.5" cy="572.8" r="4.1"/><circle cx="1287.5" cy="576.5" r="4.1"/><circle cx="1287.5" cy="580.2" r="4.1"/><circle cx="1287.5" cy="583.9" r="4.1"/><circle cx="1339.7" cy="552.9" r="4.1"/><circle cx="1339.7" cy="560.6" r="4.1"/><circle cx="1339.7" cy="568.2" r="4.1"/><circle cx="1339.7" cy="575.9" r="4.1"/><circle cx="1339.7" cy="583.5" r="4.1"/><circle cx="1339.7" cy="591.2" r="4.1"/><circle cx="1339.7" cy="603.8" r="4.1"/><circle cx="1365.8" cy="546.3" r="4.1"/><circle cx="1365.8" cy="550.1" r="4.1"/><circle cx="1365.8" cy="553.9" r="4.1"/><circle cx="1365.8" cy="557.7" r="4.1"/><circle cx="1365.8" cy="561.5" r="4.1"/><circle cx="1365.8" cy="565.3" r="4.1"/><circle cx="1365.8" cy="569.1" r="4.1"/><circle cx="1365.8" cy="572.8" r="4.1"/><circle cx="1365.8" cy="576.6" r="4.1"/><circle cx="1365.8" cy="580.4" r="4.1"/><circle cx="1365.8" cy="584.2" r="4.1"/><circle cx="1365.8" cy="588" r="4.1"/><circle cx="1365.8" cy="591.8" r="4.1"/><circle cx="1365.8" cy="595.6" r="4.1"/><circle cx="1365.8" cy="599.4" r="4.1"/><circle cx="1391.9" cy="552.9" r="4.1"/><circle cx="1391.9" cy="560.9" r="4.1"/><circle cx="1391.9" cy="568.8" r="4.1"/><circle cx="1391.9" cy="576.8" r="4.1"/><circle cx="1391.9" cy="584.7" r="4.1"/><circle cx="1391.9" cy="592.7" r="4.1"/><circle cx="1444.1" cy="506.4" r="4.1"/><circle cx="1444.1" cy="510.1" r="4.1"/><circle cx="1444.1" cy="513.8" r="4.1"/><circle cx="1444.1" cy="517.5" r="4.1"/><circle cx="1444.1" cy="521.1" r="4.1"/><circle cx="1444.1" cy="524.8" r="4.1"/><circle cx="1444.1" cy="528.5" r="4.1"/><circle cx="1444.1" cy="535.2" r="4.1"/><circle cx="1444.1" cy="548.5" r="4.1"/><circle cx="1444.1" cy="556.5" r="4.1"/><circle cx="1444.1" cy="564.4" r="4.1"/><circle cx="1470.2" cy="490.9" r="4.1"/><circle cx="1470.2" cy="494.6" r="4.1"/><circle cx="1470.2" cy="498.3" r="4.1"/><circle cx="1470.2" cy="502" r="4.1"/><circle cx="1470.2" cy="505.7" r="4.1"/><circle cx="1470.2" cy="509.3" r="4.1"/><circle cx="1470.2" cy="513" r="4.1"/><circle cx="1470.2" cy="516.7" r="4.1"/><circle cx="1470.2" cy="520.4" r="4.1"/><circle cx="1470.2" cy="524.1" r="4.1"/><circle cx="1470.2" cy="548.5" r="4.1"/><circle cx="1496.3" cy="475.4" r="4.1"/><circle cx="1496.3" cy="482.8" r="4.1"/><circle cx="1496.3" cy="490.2" r="4.1"/><circle cx="1496.3" cy="497.5" r="4.1"/><circle cx="1496.3" cy="504.9" r="4.1"/><circle cx="1522.4" cy="482" r="4.1"/><circle cx="1522.4" cy="490.1" r="4.1"/><circle cx="1522.4" cy="498.3" r="4.1"/><circle cx="1522.4" cy="506.4" r="4.1"/><circle cx="1522.4" cy="515.3" r="4.1"/><circle cx="1522.4" cy="519" r="4.1"/><circle cx="1522.4" cy="522.6" r="4.1"/><circle cx="1522.4" cy="526.3" r="4.1"/><circle cx="1548.5" cy="528.5" r="4.1"/><circle cx="1548.5" cy="544" r="4.1"/><circle cx="1548.5" cy="551.9" r="4.1"/><circle cx="1548.5" cy="559.8" r="4.1"/><circle cx="1548.5" cy="567.7" r="4.1"/><circle cx="1548.5" cy="575.6" r="4.1"/><circle cx="1574.6" cy="548.5" r="4.1"/><circle cx="1574.6" cy="552.4" r="4.1"/><circle cx="1574.6" cy="556.4" r="4.1"/><circle cx="1574.6" cy="560.3" r="4.1"/><circle cx="1574.6" cy="564.2" r="4.1"/><circle cx="1574.6" cy="568.2" r="4.1"/><circle cx="1574.6" cy="572.1" r="4.1"/><circle cx="1574.6" cy="576" r="4.1"/><circle cx="1574.6" cy="580" r="4.1"/><circle cx="1574.6" cy="583.9" r="4.1"/><circle cx="1574.6" cy="592.7" r="4.1"/><circle cx="1574.6" cy="600.7" r="4.1"/><circle cx="1574.6" cy="608.7" r="4.1"/><circle cx="1600.7" cy="552.9" r="4.1"/><circle cx="1600.7" cy="556.9" r="4.1"/><circle cx="1600.7" cy="560.9" r="4.1"/><circle cx="1600.7" cy="564.8" r="4.1"/><circle cx="1600.7" cy="568.8" r="4.1"/><circle cx="1600.7" cy="572.8" r="4.1"/><circle cx="1626.8" cy="559.5" r="4.1"/><circle cx="1626.8" cy="563" r="4.1"/><circle cx="1626.8" cy="566.6" r="4.1"/><circle cx="1626.8" cy="570.1" r="4.1"/><circle cx="1626.8" cy="573.7" r="4.1"/><circle cx="1626.8" cy="577.2" r="4.1"/><circle cx="1626.8" cy="586.1" r="4.1"/><circle cx="1626.8" cy="593.9" r="4.1"/><circle cx="1626.8" cy="601.6" r="4.1"/><circle cx="1679" cy="530.8" r="4.1"/><circle cx="1679" cy="538.2" r="4.1"/><circle cx="1679" cy="545.5" r="4.1"/><circle cx="1679" cy="552.9" r="4.1"/><circle cx="1679" cy="568.4" r="4.1"/><circle cx="1679" cy="571.7" r="4.1"/><circle cx="1679" cy="575" r="4.1"/><circle cx="1705.1" cy="545" r="4.1"/><circle cx="1705.1" cy="559.4" r="4.1"/><circle cx="1731.2" cy="519.6" r="4.1"/><circle cx="1731.2" cy="537.7" r="4.1"/><circle cx="1731.2" cy="545.5" r="4.1"/><circle cx="1731.2" cy="553.2" r="4.1"/><circle cx="1731.2" cy="561" r="4.1"/><circle cx="1783.4" cy="563" r="4.1"/><circle cx="1783.4" cy="570.3" r="4.1"/><circle cx="1783.4" cy="577.5" r="4.1"/><circle cx="1783.4" cy="584.8" r="4.1"/><circle cx="1783.4" cy="599.2" r="4.1"/><circle cx="1835.6" cy="528.7" r="4.1"/><circle cx="1835.6" cy="536.9" r="4.1"/><circle cx="1835.6" cy="545" r="4.1"/><circle cx="1835.6" cy="555.8" r="4.1"/><circle cx="1887.8" cy="537.7" r="4.1"/><circle cx="1913.9" cy="532.3" r="4.1"/><circle cx="1913.9" cy="536.8" r="4.1"/><circle cx="1913.9" cy="541.3" r="4.1"/><circle cx="1913.9" cy="563" r="4.1"/><circle cx="1940" cy="537.7" r="4.1"/><circle cx="1940" cy="545" r="4.1"/><circle cx="1940" cy="552.2" r="4.1"/></g><g fill="none" stroke="#000" stroke-width="1.55"><circle cx="582.8" cy="536.9" r="3.85"/><circle cx="582.8" cy="544.8" r="3.85"/><circle cx="582.8" cy="552.7" r="3.85"/><circle cx="582.8" cy="560.5" r="3.85"/><circle cx="582.8" cy="568.4" r="3.85"/><circle cx="582.8" cy="588.3" r="3.85"/><circle cx="608.9" cy="514.2" r="3.85"/><circle cx="608.9" cy="525.6" r="3.85"/><circle cx="608.9" cy="552.4" r="3.85"/><circle cx="608.9" cy="560.1" r="3.85"/><circle cx="608.9" cy="579.5" r="3.85"/><circle cx="608.9" cy="583.2" r="3.85"/><circle cx="608.9" cy="586.8" r="3.85"/><circle cx="608.9" cy="590.5" r="3.85"/><circle cx="687.2" cy="561.7" r="3.85"/><circle cx="687.2" cy="572.8" r="3.85"/><circle cx="687.2" cy="577.2" r="3.85"/><circle cx="687.2" cy="587.2" r="3.85"/><circle cx="687.2" cy="599" r="3.85"/><circle cx="687.2" cy="606.9" r="3.85"/><circle cx="687.2" cy="614.9" r="3.85"/><circle cx="687.2" cy="619.3" r="3.85"/><circle cx="687.2" cy="641.4" r="3.85"/><circle cx="713.3" cy="527.7" r="3.85"/><circle cx="713.3" cy="538.8" r="3.85"/><circle cx="713.3" cy="549.9" r="3.85"/><circle cx="713.3" cy="561" r="3.85"/><circle cx="713.3" cy="577.2" r="3.85"/><circle cx="713.3" cy="597.2" r="3.85"/><circle cx="713.3" cy="601.6" r="3.85"/><circle cx="713.3" cy="606" r="3.85"/><circle cx="739.4" cy="517.5" r="3.85"/><circle cx="739.4" cy="541.8" r="3.85"/><circle cx="739.4" cy="563.3" r="3.85"/><circle cx="739.4" cy="570.9" r="3.85"/><circle cx="739.4" cy="578.5" r="3.85"/><circle cx="739.4" cy="586.1" r="3.85"/><circle cx="739.4" cy="595" r="3.85"/><circle cx="739.4" cy="599.4" r="3.85"/><circle cx="739.4" cy="603.8" r="3.85"/><circle cx="765.5" cy="529.6" r="3.85"/><circle cx="765.5" cy="539.6" r="3.85"/><circle cx="765.5" cy="548.5" r="3.85"/><circle cx="765.5" cy="552.9" r="3.85"/><circle cx="765.5" cy="558.9" r="3.85"/><circle cx="765.5" cy="566.4" r="3.85"/><circle cx="765.5" cy="573.9" r="3.85"/><circle cx="765.5" cy="581.4" r="3.85"/><circle cx="765.5" cy="588.9" r="3.85"/><circle cx="791.6" cy="537" r="3.85"/><circle cx="791.6" cy="549.2" r="3.85"/><circle cx="791.6" cy="566.2" r="3.85"/><circle cx="791.6" cy="581.7" r="3.85"/><circle cx="791.6" cy="586.1" r="3.85"/><circle cx="791.6" cy="590.6" r="3.85"/><circle cx="791.6" cy="595" r="3.85"/><circle cx="791.6" cy="610.4" r="3.85"/><circle cx="817.7" cy="536.9" r="3.85"/><circle cx="817.7" cy="548.5" r="3.85"/><circle cx="817.7" cy="560.1" r="3.85"/><circle cx="817.7" cy="583.9" r="3.85"/><circle cx="817.7" cy="590.5" r="3.85"/><circle cx="817.7" cy="603.8" r="3.85"/><circle cx="817.7" cy="630.4" r="3.85"/><circle cx="843.8" cy="502" r="3.85"/><circle cx="843.8" cy="513" r="3.85"/><circle cx="843.8" cy="537.4" r="3.85"/><circle cx="843.8" cy="540.7" r="3.85"/><circle cx="843.8" cy="544" r="3.85"/><circle cx="843.8" cy="555.1" r="3.85"/><circle cx="843.8" cy="558.8" r="3.85"/><circle cx="843.8" cy="562.5" r="3.85"/><circle cx="843.8" cy="566.2" r="3.85"/><circle cx="843.8" cy="596" r="3.85"/><circle cx="843.8" cy="622.6" r="3.85"/><circle cx="869.9" cy="472.5" r="3.85"/><circle cx="869.9" cy="483.5" r="3.85"/><circle cx="869.9" cy="494.6" r="3.85"/><circle cx="869.9" cy="505.6" r="3.85"/><circle cx="869.9" cy="519.7" r="3.85"/><circle cx="869.9" cy="544" r="3.85"/><circle cx="869.9" cy="562.9" r="3.85"/><circle cx="896" cy="473.2" r="3.85"/><circle cx="896" cy="477.3" r="3.85"/><circle cx="896" cy="481.5" r="3.85"/><circle cx="896" cy="485.6" r="3.85"/><circle cx="896" cy="489.8" r="3.85"/><circle cx="896" cy="493.9" r="3.85"/><circle cx="896" cy="498.1" r="3.85"/><circle cx="896" cy="502.2" r="3.85"/><circle cx="896" cy="506.4" r="3.85"/><circle cx="896" cy="519.7" r="3.85"/><circle cx="896" cy="524.1" r="3.85"/><circle cx="896" cy="528.6" r="3.85"/><circle cx="896" cy="533" r="3.85"/><circle cx="896" cy="548.5" r="3.85"/><circle cx="922.1" cy="476.9" r="3.85"/><circle cx="922.1" cy="506.4" r="3.85"/><circle cx="922.1" cy="524" r="3.85"/><circle cx="922.1" cy="545.1" r="3.85"/><circle cx="948.2" cy="459.3" r="3.85"/><circle cx="948.2" cy="470.8" r="3.85"/><circle cx="948.2" cy="482.3" r="3.85"/><circle cx="948.2" cy="493.8" r="3.85"/><circle cx="948.2" cy="537.4" r="3.85"/><circle cx="1000.4" cy="510.3" r="3.85"/><circle cx="1000.4" cy="521.9" r="3.85"/><circle cx="1000.4" cy="533.5" r="3.85"/><circle cx="1000.4" cy="537.4" r="3.85"/><circle cx="1000.4" cy="564" r="3.85"/><circle cx="1000.4" cy="577.2" r="3.85"/><circle cx="1000.4" cy="580.9" r="3.85"/><circle cx="1000.4" cy="584.6" r="3.85"/><circle cx="1000.4" cy="588.3" r="3.85"/><circle cx="1000.4" cy="592" r="3.85"/><circle cx="1000.4" cy="595.7" r="3.85"/><circle cx="1000.4" cy="599.4" r="3.85"/><circle cx="1052.6" cy="541.1" r="3.85"/><circle cx="1052.6" cy="552.1" r="3.85"/><circle cx="1052.6" cy="575" r="3.85"/><circle cx="1052.6" cy="590.5" r="3.85"/><circle cx="1052.6" cy="594.6" r="3.85"/><circle cx="1052.6" cy="598.6" r="3.85"/><circle cx="1052.6" cy="602.7" r="3.85"/><circle cx="1052.6" cy="606.8" r="3.85"/><circle cx="1052.6" cy="610.8" r="3.85"/><circle cx="1052.6" cy="614.9" r="3.85"/><circle cx="1052.6" cy="628.2" r="3.85"/><circle cx="1078.7" cy="537.4" r="3.85"/><circle cx="1078.7" cy="541.3" r="3.85"/><circle cx="1078.7" cy="545.1" r="3.85"/><circle cx="1078.7" cy="549" r="3.85"/><circle cx="1078.7" cy="552.9" r="3.85"/><circle cx="1078.7" cy="556.8" r="3.85"/><circle cx="1078.7" cy="560.6" r="3.85"/><circle cx="1078.7" cy="564.5" r="3.85"/><circle cx="1078.7" cy="568.4" r="3.85"/><circle cx="1078.7" cy="589.8" r="3.85"/><circle cx="1078.7" cy="597.2" r="3.85"/><circle cx="1078.7" cy="612.7" r="3.85"/><circle cx="1078.7" cy="617.1" r="3.85"/><circle cx="1104.8" cy="546.3" r="3.85"/><circle cx="1104.8" cy="563.2" r="3.85"/><circle cx="1104.8" cy="574.3" r="3.85"/><circle cx="1104.8" cy="597.2" r="3.85"/><circle cx="1104.8" cy="601.6" r="3.85"/><circle cx="1104.8" cy="612.7" r="3.85"/><circle cx="1183.1" cy="569.8" r="3.85"/><circle cx="1183.1" cy="580.6" r="3.85"/><circle cx="1183.1" cy="591.4" r="3.85"/><circle cx="1183.1" cy="602.9" r="3.85"/><circle cx="1183.1" cy="610" r="3.85"/><circle cx="1183.1" cy="617.1" r="3.85"/><circle cx="1209.2" cy="563" r="3.85"/><circle cx="1209.2" cy="573.7" r="3.85"/><circle cx="1209.2" cy="580.9" r="3.85"/><circle cx="1209.2" cy="588.3" r="3.85"/><circle cx="1209.2" cy="595.7" r="3.85"/><circle cx="1209.2" cy="605" r="3.85"/><circle cx="1209.2" cy="628.2" r="3.85"/><circle cx="1235.3" cy="583.9" r="3.85"/><circle cx="1235.3" cy="603.8" r="3.85"/><circle cx="1235.3" cy="607.8" r="3.85"/><circle cx="1235.3" cy="611.8" r="3.85"/><circle cx="1235.3" cy="615.9" r="3.85"/><circle cx="1235.3" cy="619.9" r="3.85"/><circle cx="1235.3" cy="623.9" r="3.85"/><circle cx="1235.3" cy="627.9" r="3.85"/><circle cx="1235.3" cy="631.9" r="3.85"/><circle cx="1235.3" cy="635.9" r="3.85"/><circle cx="1235.3" cy="640" r="3.85"/><circle cx="1235.3" cy="644" r="3.85"/><circle cx="1235.3" cy="648" r="3.85"/><circle cx="1261.4" cy="558.9" r="3.85"/><circle cx="1261.4" cy="570.3" r="3.85"/><circle cx="1261.4" cy="581.7" r="3.85"/><circle cx="1261.4" cy="597.2" r="3.85"/><circle cx="1261.4" cy="618.2" r="3.85"/><circle cx="1287.5" cy="554.4" r="3.85"/><circle cx="1287.5" cy="565.5" r="3.85"/><circle cx="1287.5" cy="576.5" r="3.85"/><circle cx="1287.5" cy="610.4" r="3.85"/><circle cx="1287.5" cy="614.5" r="3.85"/><circle cx="1287.5" cy="618.6" r="3.85"/><circle cx="1287.5" cy="622.7" r="3.85"/><circle cx="1287.5" cy="626.9" r="3.85"/><circle cx="1287.5" cy="631" r="3.85"/><circle cx="1287.5" cy="635.1" r="3.85"/><circle cx="1287.5" cy="639.2" r="3.85"/><circle cx="1339.7" cy="556.7" r="3.85"/><circle cx="1339.7" cy="564.4" r="3.85"/><circle cx="1339.7" cy="572" r="3.85"/><circle cx="1339.7" cy="579.7" r="3.85"/><circle cx="1339.7" cy="587.3" r="3.85"/><circle cx="1339.7" cy="595" r="3.85"/><circle cx="1339.7" cy="617.1" r="3.85"/><circle cx="1365.8" cy="550.1" r="3.85"/><circle cx="1365.8" cy="561.5" r="3.85"/><circle cx="1365.8" cy="572.8" r="3.85"/><circle cx="1365.8" cy="584.2" r="3.85"/><circle cx="1365.8" cy="595.6" r="3.85"/><circle cx="1365.8" cy="583.9" r="3.85"/><circle cx="1365.8" cy="588.3" r="3.85"/><circle cx="1365.8" cy="592.7" r="3.85"/><circle cx="1365.8" cy="611.6" r="3.85"/><circle cx="1391.9" cy="556.9" r="3.85"/><circle cx="1391.9" cy="564.8" r="3.85"/><circle cx="1391.9" cy="572.8" r="3.85"/><circle cx="1391.9" cy="580.8" r="3.85"/><circle cx="1391.9" cy="588.7" r="3.85"/><circle cx="1418" cy="550.7" r="3.85"/><circle cx="1418" cy="554.8" r="3.85"/><circle cx="1418" cy="558.8" r="3.85"/><circle cx="1418" cy="562.9" r="3.85"/><circle cx="1418" cy="566.9" r="3.85"/><circle cx="1418" cy="571" r="3.85"/><circle cx="1418" cy="575" r="3.85"/><circle cx="1418" cy="579.1" r="3.85"/><circle cx="1418" cy="583.2" r="3.85"/><circle cx="1418" cy="587.2" r="3.85"/><circle cx="1418" cy="591.3" r="3.85"/><circle cx="1418" cy="595.3" r="3.85"/><circle cx="1418" cy="599.4" r="3.85"/><circle cx="1418" cy="617.1" r="3.85"/><circle cx="1418" cy="620.8" r="3.85"/><circle cx="1418" cy="624.5" r="3.85"/><circle cx="1418" cy="628.2" r="3.85"/><circle cx="1444.1" cy="510.1" r="3.85"/><circle cx="1444.1" cy="521.1" r="3.85"/><circle cx="1444.1" cy="552.5" r="3.85"/><circle cx="1444.1" cy="560.4" r="3.85"/><circle cx="1444.1" cy="568.4" r="3.85"/><circle cx="1444.1" cy="586.1" r="3.85"/><circle cx="1470.2" cy="494.6" r="3.85"/><circle cx="1470.2" cy="505.7" r="3.85"/><circle cx="1470.2" cy="516.7" r="3.85"/><circle cx="1470.2" cy="514.2" r="3.85"/><circle cx="1470.2" cy="537.4" r="3.85"/><circle cx="1470.2" cy="552.9" r="3.85"/><circle cx="1470.2" cy="568.4" r="3.85"/><circle cx="1496.3" cy="479.1" r="3.85"/><circle cx="1496.3" cy="486.5" r="3.85"/><circle cx="1496.3" cy="493.8" r="3.85"/><circle cx="1496.3" cy="501.2" r="3.85"/><circle cx="1496.3" cy="508.6" r="3.85"/><circle cx="1496.3" cy="519.7" r="3.85"/><circle cx="1496.3" cy="535.2" r="3.85"/><circle cx="1496.3" cy="545.1" r="3.85"/><circle cx="1496.3" cy="575" r="3.85"/><circle cx="1522.4" cy="486.1" r="3.85"/><circle cx="1522.4" cy="494.2" r="3.85"/><circle cx="1522.4" cy="502.3" r="3.85"/><circle cx="1522.4" cy="519" r="3.85"/><circle cx="1522.4" cy="543" r="3.85"/><circle cx="1522.4" cy="568.4" r="3.85"/><circle cx="1548.5" cy="533" r="3.85"/><circle cx="1548.5" cy="547.9" r="3.85"/><circle cx="1548.5" cy="555.8" r="3.85"/><circle cx="1548.5" cy="563.7" r="3.85"/><circle cx="1548.5" cy="571.6" r="3.85"/><circle cx="1548.5" cy="579.5" r="3.85"/><circle cx="1548.5" cy="592.7" r="3.85"/><circle cx="1548.5" cy="596.8" r="3.85"/><circle cx="1548.5" cy="600.9" r="3.85"/><circle cx="1548.5" cy="605" r="3.85"/><circle cx="1574.6" cy="552.4" r="3.85"/><circle cx="1574.6" cy="564.2" r="3.85"/><circle cx="1574.6" cy="576" r="3.85"/><circle cx="1574.6" cy="596.7" r="3.85"/><circle cx="1574.6" cy="604.7" r="3.85"/><circle cx="1574.6" cy="612.7" r="3.85"/><circle cx="1600.7" cy="556.9" r="3.85"/><circle cx="1600.7" cy="568.8" r="3.85"/><circle cx="1600.7" cy="575" r="3.85"/><circle cx="1600.7" cy="579.1" r="3.85"/><circle cx="1600.7" cy="583.1" r="3.85"/><circle cx="1600.7" cy="587.2" r="3.85"/><circle cx="1600.7" cy="591.3" r="3.85"/><circle cx="1600.7" cy="595.3" r="3.85"/><circle cx="1600.7" cy="599.4" r="3.85"/><circle cx="1600.7" cy="608.2" r="3.85"/><circle cx="1600.7" cy="611.9" r="3.85"/><circle cx="1600.7" cy="615.6" r="3.85"/><circle cx="1600.7" cy="619.3" r="3.85"/><circle cx="1626.8" cy="563" r="3.85"/><circle cx="1626.8" cy="573.7" r="3.85"/><circle cx="1626.8" cy="590" r="3.85"/><circle cx="1626.8" cy="597.7" r="3.85"/><circle cx="1626.8" cy="610.4" r="3.85"/><circle cx="1626.8" cy="614.1" r="3.85"/><circle cx="1626.8" cy="617.8" r="3.85"/><circle cx="1626.8" cy="621.5" r="3.85"/><circle cx="1679" cy="534.5" r="3.85"/><circle cx="1679" cy="541.8" r="3.85"/><circle cx="1679" cy="549.2" r="3.85"/><circle cx="1679" cy="571.7" r="3.85"/><circle cx="1679" cy="587.2" r="3.85"/><circle cx="1679" cy="603.8" r="3.85"/><circle cx="1705.1" cy="541.3" r="3.85"/><circle cx="1705.1" cy="550.4" r="3.85"/><circle cx="1705.1" cy="573.9" r="3.85"/><circle cx="1705.1" cy="578" r="3.85"/><circle cx="1705.1" cy="582" r="3.85"/><circle cx="1705.1" cy="586.1" r="3.85"/><circle cx="1705.1" cy="590.2" r="3.85"/><circle cx="1705.1" cy="593.8" r="3.85"/><circle cx="1705.1" cy="598" r="3.85"/><circle cx="1705.1" cy="602.3" r="3.85"/><circle cx="1705.1" cy="606.5" r="3.85"/><circle cx="1731.2" cy="528.7" r="3.85"/><circle cx="1731.2" cy="541.6" r="3.85"/><circle cx="1731.2" cy="549.4" r="3.85"/><circle cx="1731.2" cy="557.1" r="3.85"/><circle cx="1731.2" cy="564.9" r="3.85"/><circle cx="1731.2" cy="583" r="3.85"/><circle cx="1731.2" cy="586.6" r="3.85"/><circle cx="1731.2" cy="590.2" r="3.85"/><circle cx="1731.2" cy="593.8" r="3.85"/><circle cx="1731.2" cy="605.6" r="3.85"/><circle cx="1783.4" cy="566.6" r="3.85"/><circle cx="1783.4" cy="573.9" r="3.85"/><circle cx="1783.4" cy="581.2" r="3.85"/><circle cx="1783.4" cy="590.2" r="3.85"/><circle cx="1783.4" cy="593.8" r="3.85"/><circle cx="1783.4" cy="597.4" r="3.85"/><circle cx="1783.4" cy="601.1" r="3.85"/><circle cx="1783.4" cy="604.7" r="3.85"/><circle cx="1783.4" cy="608.3" r="3.85"/><circle cx="1835.6" cy="532.8" r="3.85"/><circle cx="1835.6" cy="540.9" r="3.85"/><circle cx="1835.6" cy="579.3" r="3.85"/><circle cx="1835.6" cy="583.8" r="3.85"/><circle cx="1835.6" cy="588.4" r="3.85"/><circle cx="1835.6" cy="626.4" r="3.85"/><circle cx="1887.8" cy="494.3" r="3.85"/><circle cx="1887.8" cy="497.9" r="3.85"/><circle cx="1887.8" cy="501.5" r="3.85"/><circle cx="1887.8" cy="505.2" r="3.85"/><circle cx="1887.8" cy="508.8" r="3.85"/><circle cx="1887.8" cy="512.4" r="3.85"/><circle cx="1887.8" cy="526.9" r="3.85"/><circle cx="1887.8" cy="548.6" r="3.85"/><circle cx="1887.8" cy="570.3" r="3.85"/><circle cx="1887.8" cy="588.4" r="3.85"/><circle cx="1887.8" cy="592" r="3.85"/><circle cx="1887.8" cy="606.5" r="3.85"/><circle cx="1913.9" cy="536.8" r="3.85"/><circle cx="1913.9" cy="566.7" r="3.85"/><circle cx="1913.9" cy="570.9" r="3.85"/><circle cx="1913.9" cy="575.1" r="3.85"/><circle cx="1913.9" cy="579.3" r="3.85"/><circle cx="1913.9" cy="595.6" r="3.85"/><circle cx="1940" cy="506" r="3.85"/><circle cx="1940" cy="521.4" r="3.85"/><circle cx="1940" cy="525" r="3.85"/><circle cx="1940" cy="528.7" r="3.85"/><circle cx="1940" cy="541.3" r="3.85"/><circle cx="1940" cy="548.6" r="3.85"/><circle cx="1940" cy="566.7" r="3.85"/><circle cx="1940" cy="570.3" r="3.85"/><circle cx="1940" cy="591.1" r="3.85"/></g><path d="M582.1 524 C585.8 528.4 596.9 542.2 604.3 550.1 C611.7 557.9 617.9 564.7 626.4 571.3 C634.9 577.8 645.1 586.3 655.2 589.4 C665.3 592.5 677.1 591 686.8 589.8 C696.5 588.6 704.5 585.5 713.2 582.2 C722 578.9 730.6 574.4 739.3 570 C748 565.6 756.5 560.6 765.2 555.6 C773.9 550.6 782.6 545.1 791.3 540.1 C800 535.1 808.7 530 817.4 525.8 C826.1 521.6 834.5 517.3 843.3 514.7 C852.1 512.1 861.5 511 870.3 510.3 C879 509.6 887.2 509.7 895.8 510.3 C904.4 510.8 913.2 511.8 921.9 513.6 C930.6 515.4 934.8 516.3 947.8 521.3 C960.8 526.3 982.9 536.1 1000.2 543.5 C1017.5 550.9 1036 559.3 1051.8 565.6 C1067.6 571.9 1080.4 577.4 1095 581.1 C1109.6 584.8 1124.6 586.6 1139.2 587.7 C1153.8 588.8 1171.1 587.9 1182.8 587.7 C1194.5 587.5 1200.8 587.3 1209.6 586.6 C1218.4 585.9 1226.9 584.8 1235.5 583.3 C1244.1 581.8 1252.7 579.4 1261.4 577.8 C1270.1 576.1 1277.7 575 1287.5 573.4 C1297.3 571.8 1307.2 570.2 1320 568 C1332.8 565.8 1348.4 563.1 1364.3 560.1 C1380.2 557.1 1400.5 552.5 1415.2 550.1 C1430 547.7 1439.2 546.6 1452.8 545.7 C1466.4 544.8 1482.3 544.6 1497.1 544.6 C1511.9 544.6 1526.7 545 1541.4 545.7 C1556.2 546.4 1570.8 547.5 1585.6 549 C1600.3 550.5 1615.1 552.7 1629.9 554.5 C1644.7 556.3 1659.2 558.2 1674.2 560 C1689.2 561.8 1705.7 563.7 1720 565 C1734.3 566.3 1748.6 567.4 1760 568 C1771.4 568.6 1776 569.2 1788.6 568.9 C1801.2 568.6 1820.5 568.7 1835.6 566.2 C1850.7 563.7 1865.7 557.9 1879 553.8 C1892.3 549.8 1905.2 545.4 1915.3 541.8 C1925.4 538.3 1935.6 534 1939.7 532.4 L1939.7 548.4 C1935.6 549.6 1925.4 552.6 1915.3 555.4 C1905.2 558.1 1892.3 561.5 1879 565 C1865.7 568.5 1850.7 573.9 1835.6 576.2 C1820.5 578.5 1801.2 578.6 1788.6 578.9 C1776 579.2 1771.4 578.6 1760 578 C1748.6 577.4 1734.3 576.3 1720 575 C1705.7 573.7 1689.2 571.8 1674.2 570 C1659.2 568.2 1644.7 566.3 1629.9 564.5 C1615.1 562.7 1600.3 560.5 1585.6 559 C1570.8 557.5 1556.2 556.4 1541.4 555.7 C1526.7 555 1511.9 554.6 1497.1 554.6 C1482.3 554.6 1466.4 554.8 1452.8 555.7 C1439.2 556.6 1430 557.7 1415.2 560.1 C1400.5 562.5 1380.2 567.1 1364.3 570.1 C1348.4 573.1 1332.8 575.8 1320 578 C1307.2 580.2 1297.3 581.8 1287.5 583.4 C1277.7 585 1270.1 586.1 1261.4 587.8 C1252.7 589.4 1244.1 591.8 1235.5 593.3 C1226.9 594.8 1218.4 595.9 1209.6 596.6 C1200.8 597.3 1194.5 597.5 1182.8 597.7 C1171.1 597.9 1153.8 598.8 1139.2 597.7 C1124.6 596.6 1109.6 594.8 1095 591.1 C1080.4 587.4 1067.6 581.9 1051.8 575.6 C1036 569.3 1017.5 560.9 1000.2 553.5 C982.9 546.1 960.8 536.3 947.8 531.3 C934.8 526.3 930.6 525.4 921.9 523.6 C913.2 521.8 904.4 520.8 895.8 520.3 C887.2 519.8 879 519.6 870.3 520.3 C861.5 521 852.1 522.1 843.3 524.7 C834.5 527.3 826.1 531.6 817.4 535.8 C808.7 540 800 545.1 791.3 550.1 C782.6 555.1 773.9 560.6 765.2 565.6 C756.5 570.6 748 575.6 739.3 580 C730.6 584.4 722 588.8 713.2 592.2 C704.5 595.6 696.5 598.8 686.8 600.2 C677.1 601.6 665.3 603.4 655.2 600.6 C645.1 597.7 634.9 589.1 626.4 583.1 C617.9 577.1 611.7 571.4 604.3 564.5 C596.9 557.7 585.8 545.8 582.1 542 Z" fill="#999" fill-opacity="0.4"/><path d="M582.1 533 C585.8 537 596.9 549.9 604.3 557.3 C611.7 564.7 617.9 570.9 626.4 577.2 C634.9 583.5 645.1 592 655.2 595 C665.3 598 677.1 596.3 686.8 595 C696.5 593.7 704.5 590.5 713.2 587.2 C722 583.9 730.6 579.4 739.3 575 C748 570.6 756.5 565.6 765.2 560.6 C773.9 555.6 782.6 550.1 791.3 545.1 C800 540.1 808.7 535 817.4 530.8 C826.1 526.6 834.5 522.3 843.3 519.7 C852.1 517.1 861.5 516 870.3 515.3 C879 514.6 887.2 514.8 895.8 515.3 C904.4 515.8 913.2 516.8 921.9 518.6 C930.6 520.4 934.8 521.3 947.8 526.3 C960.8 531.3 982.9 541.1 1000.2 548.5 C1017.5 555.9 1036 564.3 1051.8 570.6 C1067.6 576.9 1080.4 582.4 1095 586.1 C1109.6 589.8 1124.6 591.6 1139.2 592.7 C1153.8 593.8 1171.1 592.9 1182.8 592.7 C1194.5 592.5 1200.8 592.3 1209.6 591.6 C1218.4 590.9 1226.9 589.8 1235.5 588.3 C1244.1 586.8 1252.7 584.4 1261.4 582.8 C1270.1 581.1 1277.7 580 1287.5 578.4 C1297.3 576.8 1307.2 575.2 1320 573 C1332.8 570.8 1348.4 568.1 1364.3 565.1 C1380.2 562.1 1400.5 557.5 1415.2 555.1 C1430 552.7 1439.2 551.6 1452.8 550.7 C1466.4 549.8 1482.3 549.6 1497.1 549.6 C1511.9 549.6 1526.7 550 1541.4 550.7 C1556.2 551.4 1570.8 552.5 1585.6 554 C1600.3 555.5 1615.1 557.7 1629.9 559.5 C1644.7 561.3 1659.2 563.2 1674.2 565 C1689.2 566.8 1705.7 568.7 1720 570 C1734.3 571.3 1748.6 572.4 1760 573 C1771.4 573.6 1776 574.2 1788.6 573.9 C1801.2 573.6 1820.5 573.6 1835.6 571.2 C1850.7 568.8 1865.7 563.2 1879 559.4 C1892.3 555.6 1905.2 551.8 1915.3 548.6 C1925.4 545.4 1935.6 541.8 1939.7 540.4" fill="none" stroke="#000" stroke-width="3.7" stroke-linejoin="round"/><path d="M582.1 521.5 C585.8 524.8 596.9 535.7 604.3 541.1 C611.7 546.4 617.9 549.8 626.4 553.4 C634.9 557 645.1 561 655.2 562.6 C665.3 564.2 677.1 563.9 686.8 563 C696.5 562.2 704.5 560.2 713.2 557.6 C722 555 730.6 550.8 739.3 547.7 C748 544.6 756.5 542.1 765.2 538.8 C773.9 535.5 782.6 531.8 791.3 527.8 C800 523.8 808.7 518.9 817.4 514.5 C826.1 510.1 834.5 504.9 843.3 501.2 C852.1 497.5 861.5 494.9 870.3 492.3 C879 489.7 887.2 487.2 895.8 485.7 C904.4 484.2 913.2 483.7 921.9 483.5 C930.6 483.3 937.4 482.6 947.8 484.6 C958.2 486.6 974.5 492.6 984.3 495.7 C994.1 498.8 995.1 497.9 1006.4 503.4 C1017.6 508.9 1039.7 522.2 1051.8 528.9 C1063.9 535.5 1070.2 538.7 1079 543.3 C1087.8 547.9 1094.9 551.7 1104.9 556.5 C1114.9 561.3 1129.8 568.1 1139.2 572 C1148.6 575.9 1154 578.1 1161.4 579.8 C1168.8 581.5 1175.5 581.6 1183.5 582 C1191.5 582.4 1200.9 582.9 1209.6 582 C1218.3 581.1 1226.9 578.9 1235.5 576.5 C1244.1 574.1 1252.7 570.9 1261.4 567.6 C1270.1 564.3 1277.7 559.9 1287.5 556.5 C1297.3 553.1 1307.2 550.5 1320 547 C1332.8 543.5 1348.4 539.5 1364.3 535.5 C1380.2 531.5 1396.8 525.5 1415.2 523.3 C1433.7 521.1 1457.7 521.6 1475 522.2 C1492.3 522.8 1504.5 524.3 1519.2 526.7 C1534 529.1 1548.7 533.5 1563.5 536.6 C1578.3 539.7 1593 542.5 1607.8 545.5 C1622.5 548.5 1640 551.9 1652 554.3 C1664 556.7 1669.3 558.4 1680 560 C1690.7 561.6 1704 562.7 1716 564 C1728 565.3 1739.7 567.2 1752 568 C1764.3 568.8 1780.3 569.1 1790 569 C1799.7 568.9 1802.3 568.6 1810 567.6 C1817.7 566.6 1827.5 565.2 1836 563.2 C1844.5 561.1 1852.3 558.5 1861 555.3 C1869.7 552.2 1879 548.3 1888 544.2 C1897 540 1906.4 535.3 1915 530.6 C1923.6 525.8 1935.6 517.9 1939.7 515.4 L1939.7 547.4 C1935.6 548.5 1923.6 551.7 1915 553.8 C1906.4 556 1897 558 1888 560.2 C1879 562.4 1869.7 565.1 1861 567.1 C1852.3 569 1844.5 570.8 1836 572 C1827.5 573.3 1817.7 573.9 1810 574.4 C1802.3 574.9 1799.7 575.1 1790 575 C1780.3 574.9 1764.3 574.8 1752 574 C1739.7 573.2 1728 571.3 1716 570 C1704 568.7 1690.7 567.6 1680 566 C1669.3 564.4 1664 562.7 1652 560.3 C1640 557.9 1622.5 554.5 1607.8 551.5 C1593 548.5 1578.3 545.7 1563.5 542.6 C1548.7 539.5 1534 535.1 1519.2 532.7 C1504.5 530.3 1492.3 528.8 1475 528.2 C1457.7 527.6 1433.7 527.1 1415.2 529.3 C1396.8 531.5 1380.2 537.5 1364.3 541.5 C1348.4 545.5 1332.8 549.5 1320 553 C1307.2 556.5 1297.3 559.1 1287.5 562.5 C1277.7 565.9 1270.1 570.3 1261.4 573.6 C1252.7 576.9 1244.1 580.1 1235.5 582.5 C1226.9 584.9 1218.3 587.1 1209.6 588 C1200.9 588.9 1191.5 588.4 1183.5 588 C1175.5 587.6 1168.8 587.5 1161.4 585.8 C1154 584.1 1148.6 581.9 1139.2 578 C1129.8 574.1 1114.9 567.3 1104.9 562.5 C1094.9 557.7 1087.8 553.9 1079 549.3 C1070.2 544.7 1063.9 541.5 1051.8 534.9 C1039.7 528.2 1017.6 514.9 1006.4 509.4 C995.1 503.9 994.1 504.8 984.3 501.7 C974.5 498.6 958.2 492.6 947.8 490.6 C937.4 488.6 930.6 489.3 921.9 489.5 C913.2 489.7 904.4 490.2 895.8 491.7 C887.2 493.2 879 495.7 870.3 498.3 C861.5 500.9 852.1 503.5 843.3 507.2 C834.5 510.9 826.1 516.1 817.4 520.5 C808.7 524.9 800 529.8 791.3 533.8 C782.6 537.8 773.9 541.5 765.2 544.8 C756.5 548.1 748 550.6 739.3 553.7 C730.6 556.8 722 561 713.2 563.6 C704.5 566.2 696.5 568.3 686.8 569.4 C677.1 570.4 665.3 571.1 655.2 569.8 C645.1 568.4 634.9 564.3 626.4 561.2 C617.9 558.2 611.7 555.8 604.3 551.5 C596.9 547.3 585.8 538.2 582.1 535.5 Z" fill="#f00" fill-opacity="0.3"/><path d="M582.1 528.5 C585.8 531.5 596.9 541.5 604.3 546.3 C611.7 551.1 617.9 554 626.4 557.3 C634.9 560.6 645.1 564.7 655.2 566.2 C665.3 567.7 677.1 567.1 686.8 566.2 C696.5 565.3 704.5 563.2 713.2 560.6 C722 558 730.6 553.8 739.3 550.7 C748 547.6 756.5 545.1 765.2 541.8 C773.9 538.5 782.6 534.8 791.3 530.8 C800 526.8 808.7 521.9 817.4 517.5 C826.1 513.1 834.5 507.9 843.3 504.2 C852.1 500.5 861.5 497.9 870.3 495.3 C879 492.7 887.2 490.2 895.8 488.7 C904.4 487.2 913.2 486.7 921.9 486.5 C930.6 486.3 937.4 485.6 947.8 487.6 C958.2 489.6 974.5 495.6 984.3 498.7 C994.1 501.8 995.1 500.9 1006.4 506.4 C1017.6 511.9 1039.7 525.2 1051.8 531.9 C1063.9 538.5 1070.2 541.7 1079 546.3 C1087.8 550.9 1094.9 554.7 1104.9 559.5 C1114.9 564.3 1129.8 571.1 1139.2 575 C1148.6 578.9 1154 581.1 1161.4 582.8 C1168.8 584.5 1175.5 584.6 1183.5 585 C1191.5 585.4 1200.9 585.9 1209.6 585 C1218.3 584.1 1226.9 581.9 1235.5 579.5 C1244.1 577.1 1252.7 573.9 1261.4 570.6 C1270.1 567.3 1277.7 562.9 1287.5 559.5 C1297.3 556.1 1307.2 553.5 1320 550 C1332.8 546.5 1348.4 542.5 1364.3 538.5 C1380.2 534.5 1396.8 528.5 1415.2 526.3 C1433.7 524.1 1457.7 524.6 1475 525.2 C1492.3 525.8 1504.5 527.3 1519.2 529.7 C1534 532.1 1548.7 536.5 1563.5 539.6 C1578.3 542.7 1593 545.5 1607.8 548.5 C1622.5 551.5 1640 554.9 1652 557.3 C1664 559.7 1669.3 561.4 1680 563 C1690.7 564.6 1704 565.7 1716 567 C1728 568.3 1739.7 570.2 1752 571 C1764.3 571.8 1780.3 572 1790 572 C1799.7 572 1802.3 571.7 1810 571 C1817.7 570.3 1827.5 569.2 1836 567.6 C1844.5 566 1852.3 563.8 1861 561.2 C1869.7 558.6 1879 555.4 1888 552.2 C1897 549 1906.4 545.7 1915 542.2 C1923.6 538.7 1935.6 533.2 1939.7 531.4" fill="none" stroke="#f00" stroke-width="3.7" stroke-linejoin="round"/>
</g>
<path d="M2030 432.6 H78.7 V676.5 H2030" fill="none" stroke="#000" stroke-width="5.4"/>
<line x1="71.6" y1="633" x2="76" y2="633" stroke="#333" stroke-width="1.4" />
<text x="68.9" y="641.6" font-size="27" text-anchor="end" fill="#4D4D4D" textLength="29.7" lengthAdjust="spacingAndGlyphs">15</text>
<line x1="71.6" y1="589.7" x2="76" y2="589.7" stroke="#333" stroke-width="1.4" />
<text x="68.9" y="598.3" font-size="27" text-anchor="end" fill="#4D4D4D" textLength="29.7" lengthAdjust="spacingAndGlyphs">20</text>
<line x1="71.6" y1="546.4" x2="76" y2="546.4" stroke="#333" stroke-width="1.4" />
<text x="68.9" y="555" font-size="27" text-anchor="end" fill="#4D4D4D" textLength="29.7" lengthAdjust="spacingAndGlyphs">25</text>
<line x1="71.6" y1="503" x2="76" y2="503" stroke="#333" stroke-width="1.4" />
<text x="68.9" y="511.6" font-size="27" text-anchor="end" fill="#4D4D4D" textLength="29.7" lengthAdjust="spacingAndGlyphs">30</text>
<line x1="71.6" y1="459.7" x2="76" y2="459.7" stroke="#333" stroke-width="1.4" />
<text x="68.9" y="468.3" font-size="27" text-anchor="end" fill="#4D4D4D" textLength="29.7" lengthAdjust="spacingAndGlyphs">35</text>
<line x1="269.6" y1="678.1" x2="269.6" y2="684.7" stroke="#333" stroke-width="1.4" />
<text x="269.6" y="704.5" font-size="27" text-anchor="middle" fill="#4D4D4D" textLength="73.6" lengthAdjust="spacingAndGlyphs">Jun 01</text>
<line x1="635" y1="678.1" x2="635" y2="684.7" stroke="#333" stroke-width="1.4" />
<text x="635" y="704.5" font-size="27" text-anchor="middle" fill="#4D4D4D" textLength="75.7" lengthAdjust="spacingAndGlyphs">Jun 15</text>
<line x1="1052.6" y1="678.1" x2="1052.6" y2="684.7" stroke="#333" stroke-width="1.4" />
<text x="1052.6" y="704.5" font-size="27" text-anchor="middle" fill="#4D4D4D" textLength="65.7" lengthAdjust="spacingAndGlyphs">Jul 01</text>
<line x1="1418" y1="678.1" x2="1418" y2="684.7" stroke="#333" stroke-width="1.4" />
<text x="1418" y="704.5" font-size="27" text-anchor="middle" fill="#4D4D4D" textLength="66.8" lengthAdjust="spacingAndGlyphs">Jul 15</text>
<line x1="1861.7" y1="678.1" x2="1861.7" y2="684.7" stroke="#333" stroke-width="1.4" />
<text x="1861.7" y="704.5" font-size="27" text-anchor="middle" fill="#4D4D4D" textLength="77.6" lengthAdjust="spacingAndGlyphs">Aug 01</text>
<text x="1053" y="738.9" font-size="33.4" text-anchor="middle" textLength="239.7" lengthAdjust="spacingAndGlyphs">Time of the year</text>
<text x="29.3" y="555" font-size="33.4" text-anchor="middle" transform="rotate(-90 29.3 555)">Temperature (°C)</text>
<text x="76.6" y="789" font-size="33.4" font-style="italic" textLength="116.5" lengthAdjust="spacingAndGlyphs">P. arion</text>
<g clip-path="url(#clipA2)">
<g fill="#f00" fill-opacity="0.7"><circle cx="1104.8" cy="917.4" r="4.1"/><circle cx="1104.8" cy="925.5" r="4.1"/><circle cx="1104.8" cy="933.6" r="4.1"/><circle cx="1104.8" cy="941.8" r="4.1"/><circle cx="1104.8" cy="949.9" r="4.1"/><circle cx="1104.8" cy="958" r="4.1"/><circle cx="1104.8" cy="966.1" r="4.1"/><circle cx="1183.1" cy="941.7" r="4.1"/><circle cx="1183.1" cy="949.8" r="4.1"/><circle cx="1183.1" cy="958" r="4.1"/><circle cx="1183.1" cy="966.1" r="4.1"/><circle cx="1209.2" cy="932.9" r="4.1"/><circle cx="1209.2" cy="940.6" r="4.1"/><circle cx="1209.2" cy="948.4" r="4.1"/><circle cx="1209.2" cy="956.1" r="4.1"/><circle cx="1209.2" cy="963.9" r="4.1"/><circle cx="1261.4" cy="930.7" r="4.1"/><circle cx="1261.4" cy="938.1" r="4.1"/><circle cx="1261.4" cy="945.4" r="4.1"/><circle cx="1261.4" cy="952.8" r="4.1"/><circle cx="1287.5" cy="929.6" r="4.1"/><circle cx="1287.5" cy="939.5" r="4.1"/><circle cx="1287.5" cy="946.9" r="4.1"/><circle cx="1339.7" cy="930.7" r="4.1"/><circle cx="1339.7" cy="939.6" r="4.1"/><circle cx="1339.7" cy="983.8" r="4.1"/><circle cx="1365.8" cy="924" r="4.1"/><circle cx="1391.9" cy="930.7" r="4.1"/><circle cx="1391.9" cy="938.7" r="4.1"/><circle cx="1391.9" cy="946.6" r="4.1"/><circle cx="1391.9" cy="954.6" r="4.1"/><circle cx="1391.9" cy="962.5" r="4.1"/><circle cx="1391.9" cy="970.5" r="4.1"/><circle cx="1418" cy="941.7" r="4.1"/><circle cx="1418" cy="949.1" r="4.1"/><circle cx="1444.1" cy="884.2" r="4.1"/><circle cx="1444.1" cy="892.2" r="4.1"/><circle cx="1444.1" cy="900.1" r="4.1"/><circle cx="1444.1" cy="908.1" r="4.1"/><circle cx="1444.1" cy="916.1" r="4.1"/><circle cx="1444.1" cy="924.1" r="4.1"/><circle cx="1444.1" cy="932" r="4.1"/><circle cx="1444.1" cy="940" r="4.1"/><circle cx="1470.2" cy="866.5" r="4.1"/><circle cx="1470.2" cy="874.1" r="4.1"/><circle cx="1470.2" cy="881.6" r="4.1"/><circle cx="1470.2" cy="889.2" r="4.1"/><circle cx="1496.3" cy="851" r="4.1"/><circle cx="1496.3" cy="858.4" r="4.1"/><circle cx="1496.3" cy="865.8" r="4.1"/><circle cx="1496.3" cy="873.1" r="4.1"/><circle cx="1496.3" cy="880.5" r="4.1"/><circle cx="1496.3" cy="893" r="4.1"/><circle cx="1496.3" cy="897.5" r="4.1"/><circle cx="1496.3" cy="901.9" r="4.1"/><circle cx="1496.3" cy="924" r="4.1"/><circle cx="1522.4" cy="855.4" r="4.1"/><circle cx="1522.4" cy="863.6" r="4.1"/><circle cx="1522.4" cy="871.9" r="4.1"/><circle cx="1522.4" cy="880.1" r="4.1"/><circle cx="1522.4" cy="893" r="4.1"/><circle cx="1574.6" cy="930.7" r="4.1"/><circle cx="1574.6" cy="938.5" r="4.1"/><circle cx="1574.6" cy="946.2" r="4.1"/><circle cx="1574.6" cy="954" r="4.1"/><circle cx="1574.6" cy="961.7" r="4.1"/><circle cx="1600.7" cy="932.9" r="4.1"/><circle cx="1600.7" cy="940.6" r="4.1"/><circle cx="1600.7" cy="948.4" r="4.1"/><circle cx="1600.7" cy="956.1" r="4.1"/><circle cx="1600.7" cy="963.9" r="4.1"/><circle cx="1626.8" cy="935.1" r="4.1"/><circle cx="1626.8" cy="943.1" r="4.1"/><circle cx="1626.8" cy="951" r="4.1"/><circle cx="1679" cy="908.5" r="4.1"/><circle cx="1679" cy="916.6" r="4.1"/><circle cx="1679" cy="924.6" r="4.1"/><circle cx="1679" cy="932.7" r="4.1"/><circle cx="1679" cy="940.7" r="4.1"/><circle cx="1679" cy="948.8" r="4.1"/><circle cx="1705.1" cy="919.6" r="4.1"/><circle cx="1705.1" cy="926.7" r="4.1"/><circle cx="1705.1" cy="933.8" r="4.1"/><circle cx="1705.1" cy="952.8" r="4.1"/><circle cx="1705.1" cy="960.5" r="4.1"/><circle cx="1705.1" cy="968.3" r="4.1"/><circle cx="1705.1" cy="976" r="4.1"/><circle cx="1705.1" cy="983.8" r="4.1"/><circle cx="1731.2" cy="915.2" r="4.1"/><circle cx="1731.2" cy="923" r="4.1"/><circle cx="1731.2" cy="930.7" r="4.1"/><circle cx="1731.2" cy="938.5" r="4.1"/><circle cx="1731.2" cy="946.2" r="4.1"/><circle cx="1731.2" cy="961.7" r="4.1"/><circle cx="1783.4" cy="941.7" r="4.1"/><circle cx="1783.4" cy="949.8" r="4.1"/><circle cx="1783.4" cy="957.8" r="4.1"/><circle cx="1783.4" cy="965.9" r="4.1"/><circle cx="1783.4" cy="973.9" r="4.1"/><circle cx="1783.4" cy="982" r="4.1"/><circle cx="1835.6" cy="905.4" r="4.1"/><circle cx="1835.6" cy="913" r="4.1"/><circle cx="1835.6" cy="920.5" r="4.1"/><circle cx="1835.6" cy="964.5" r="4.1"/><circle cx="1887.8" cy="928" r="4.1"/><circle cx="1913.9" cy="907.9" r="4.1"/><circle cx="1913.9" cy="914.6" r="4.1"/><circle cx="1913.9" cy="939.3" r="4.1"/><circle cx="1913.9" cy="946.9" r="4.1"/><circle cx="1940" cy="896.6" r="4.1"/><circle cx="1940" cy="904.1" r="4.1"/><circle cx="1940" cy="911.7" r="4.1"/><circle cx="1940" cy="919.2" r="4.1"/><circle cx="1940" cy="926.8" r="4.1"/></g><g fill="none" stroke="#000" stroke-width="1.55"><circle cx="1104.8" cy="921.5" r="3.85"/><circle cx="1104.8" cy="929.6" r="3.85"/><circle cx="1104.8" cy="937.7" r="3.85"/><circle cx="1104.8" cy="945.8" r="3.85"/><circle cx="1104.8" cy="953.9" r="3.85"/><circle cx="1104.8" cy="962" r="3.85"/><circle cx="1104.8" cy="975" r="3.85"/><circle cx="1104.8" cy="979.4" r="3.85"/><circle cx="1104.8" cy="983.8" r="3.85"/><circle cx="1104.8" cy="991.6" r="3.85"/><circle cx="1183.1" cy="945.8" r="3.85"/><circle cx="1183.1" cy="953.9" r="3.85"/><circle cx="1183.1" cy="962" r="3.85"/><circle cx="1183.1" cy="975" r="3.85"/><circle cx="1183.1" cy="978.7" r="3.85"/><circle cx="1183.1" cy="982.4" r="3.85"/><circle cx="1183.1" cy="986" r="3.85"/><circle cx="1183.1" cy="989.7" r="3.85"/><circle cx="1183.1" cy="993.4" r="3.85"/><circle cx="1183.1" cy="997.1" r="3.85"/><circle cx="1183.1" cy="1017" r="3.85"/><circle cx="1209.2" cy="936.8" r="3.85"/><circle cx="1209.2" cy="944.5" r="3.85"/><circle cx="1209.2" cy="952.3" r="3.85"/><circle cx="1209.2" cy="960" r="3.85"/><circle cx="1209.2" cy="972.7" r="3.85"/><circle cx="1209.2" cy="976.4" r="3.85"/><circle cx="1209.2" cy="980.1" r="3.85"/><circle cx="1209.2" cy="983.8" r="3.85"/><circle cx="1209.2" cy="1007" r="3.85"/><circle cx="1235.3" cy="959.5" r="3.85"/><circle cx="1235.3" cy="962.8" r="3.85"/><circle cx="1235.3" cy="966.1" r="3.85"/><circle cx="1235.3" cy="981.6" r="3.85"/><circle cx="1235.3" cy="985.7" r="3.85"/><circle cx="1235.3" cy="989.8" r="3.85"/><circle cx="1235.3" cy="993.9" r="3.85"/><circle cx="1235.3" cy="998.1" r="3.85"/><circle cx="1235.3" cy="1002.2" r="3.85"/><circle cx="1235.3" cy="1006.3" r="3.85"/><circle cx="1235.3" cy="1010.4" r="3.85"/><circle cx="1235.3" cy="1021.4" r="3.85"/><circle cx="1235.3" cy="1025.8" r="3.85"/><circle cx="1235.3" cy="1030.3" r="3.85"/><circle cx="1261.4" cy="934.4" r="3.85"/><circle cx="1261.4" cy="941.8" r="3.85"/><circle cx="1261.4" cy="949.1" r="3.85"/><circle cx="1261.4" cy="957.2" r="3.85"/><circle cx="1261.4" cy="960.9" r="3.85"/><circle cx="1261.4" cy="964.6" r="3.85"/><circle cx="1261.4" cy="968.3" r="3.85"/><circle cx="1261.4" cy="972" r="3.85"/><circle cx="1261.4" cy="975.7" r="3.85"/><circle cx="1261.4" cy="979.4" r="3.85"/><circle cx="1261.4" cy="997.1" r="3.85"/><circle cx="1287.5" cy="909.7" r="3.85"/><circle cx="1287.5" cy="943.2" r="3.85"/><circle cx="1287.5" cy="950.6" r="3.85"/><circle cx="1287.5" cy="959.5" r="3.85"/><circle cx="1287.5" cy="988.2" r="3.85"/><circle cx="1287.5" cy="992.1" r="3.85"/><circle cx="1287.5" cy="996" r="3.85"/><circle cx="1287.5" cy="999.8" r="3.85"/><circle cx="1287.5" cy="1003.7" r="3.85"/><circle cx="1287.5" cy="1014.8" r="3.85"/><circle cx="1287.5" cy="1019.2" r="3.85"/><circle cx="1339.7" cy="935.1" r="3.85"/><circle cx="1339.7" cy="944" r="3.85"/><circle cx="1339.7" cy="948.4" r="3.85"/><circle cx="1339.7" cy="952.3" r="3.85"/><circle cx="1339.7" cy="956.1" r="3.85"/><circle cx="1339.7" cy="960" r="3.85"/><circle cx="1339.7" cy="963.9" r="3.85"/><circle cx="1339.7" cy="967.8" r="3.85"/><circle cx="1339.7" cy="971.6" r="3.85"/><circle cx="1339.7" cy="975.5" r="3.85"/><circle cx="1339.7" cy="979.4" r="3.85"/><circle cx="1339.7" cy="994.9" r="3.85"/><circle cx="1365.8" cy="930.7" r="3.85"/><circle cx="1365.8" cy="934.7" r="3.85"/><circle cx="1365.8" cy="938.8" r="3.85"/><circle cx="1365.8" cy="942.8" r="3.85"/><circle cx="1365.8" cy="946.8" r="3.85"/><circle cx="1365.8" cy="950.8" r="3.85"/><circle cx="1365.8" cy="954.9" r="3.85"/><circle cx="1365.8" cy="958.9" r="3.85"/><circle cx="1365.8" cy="962.9" r="3.85"/><circle cx="1365.8" cy="966.9" r="3.85"/><circle cx="1365.8" cy="971" r="3.85"/><circle cx="1365.8" cy="975" r="3.85"/><circle cx="1365.8" cy="990.4" r="3.85"/><circle cx="1391.9" cy="934.7" r="3.85"/><circle cx="1391.9" cy="942.6" r="3.85"/><circle cx="1391.9" cy="950.6" r="3.85"/><circle cx="1391.9" cy="958.6" r="3.85"/><circle cx="1391.9" cy="966.5" r="3.85"/><circle cx="1418" cy="928.5" r="3.85"/><circle cx="1418" cy="945.4" r="3.85"/><circle cx="1418" cy="952.8" r="3.85"/><circle cx="1418" cy="957.2" r="3.85"/><circle cx="1418" cy="960.9" r="3.85"/><circle cx="1418" cy="964.6" r="3.85"/><circle cx="1418" cy="968.3" r="3.85"/><circle cx="1418" cy="972" r="3.85"/><circle cx="1418" cy="975.7" r="3.85"/><circle cx="1418" cy="979.4" r="3.85"/><circle cx="1418" cy="997.1" r="3.85"/><circle cx="1418" cy="1001.5" r="3.85"/><circle cx="1418" cy="1006" r="3.85"/><circle cx="1444.1" cy="888.2" r="3.85"/><circle cx="1444.1" cy="896.2" r="3.85"/><circle cx="1444.1" cy="904.1" r="3.85"/><circle cx="1444.1" cy="912.1" r="3.85"/><circle cx="1444.1" cy="920.1" r="3.85"/><circle cx="1444.1" cy="928.1" r="3.85"/><circle cx="1444.1" cy="936" r="3.85"/><circle cx="1444.1" cy="944" r="3.85"/><circle cx="1444.1" cy="963.9" r="3.85"/><circle cx="1470.2" cy="870.3" r="3.85"/><circle cx="1470.2" cy="877.9" r="3.85"/><circle cx="1470.2" cy="885.4" r="3.85"/><circle cx="1470.2" cy="893" r="3.85"/><circle cx="1470.2" cy="913" r="3.85"/><circle cx="1470.2" cy="928.5" r="3.85"/><circle cx="1470.2" cy="945" r="3.85"/><circle cx="1496.3" cy="854.7" r="3.85"/><circle cx="1496.3" cy="862.1" r="3.85"/><circle cx="1496.3" cy="869.4" r="3.85"/><circle cx="1496.3" cy="876.8" r="3.85"/><circle cx="1496.3" cy="884.2" r="3.85"/><circle cx="1496.3" cy="897.5" r="3.85"/><circle cx="1496.3" cy="911.9" r="3.85"/><circle cx="1496.3" cy="952.8" r="3.85"/><circle cx="1522.4" cy="859.5" r="3.85"/><circle cx="1522.4" cy="867.7" r="3.85"/><circle cx="1522.4" cy="876" r="3.85"/><circle cx="1522.4" cy="884.2" r="3.85"/><circle cx="1522.4" cy="901.9" r="3.85"/><circle cx="1522.4" cy="917.4" r="3.85"/><circle cx="1522.4" cy="921.1" r="3.85"/><circle cx="1522.4" cy="924.8" r="3.85"/><circle cx="1522.4" cy="928.5" r="3.85"/><circle cx="1522.4" cy="945" r="3.85"/><circle cx="1548.5" cy="908.5" r="3.85"/><circle cx="1548.5" cy="912.6" r="3.85"/><circle cx="1548.5" cy="916.6" r="3.85"/><circle cx="1548.5" cy="920.7" r="3.85"/><circle cx="1548.5" cy="924.7" r="3.85"/><circle cx="1548.5" cy="928.8" r="3.85"/><circle cx="1548.5" cy="932.9" r="3.85"/><circle cx="1548.5" cy="936.9" r="3.85"/><circle cx="1548.5" cy="941" r="3.85"/><circle cx="1548.5" cy="945" r="3.85"/><circle cx="1548.5" cy="949.1" r="3.85"/><circle cx="1548.5" cy="953.1" r="3.85"/><circle cx="1548.5" cy="957.2" r="3.85"/><circle cx="1548.5" cy="972.7" r="3.85"/><circle cx="1548.5" cy="976.4" r="3.85"/><circle cx="1548.5" cy="980.1" r="3.85"/><circle cx="1548.5" cy="983.8" r="3.85"/><circle cx="1574.6" cy="934.6" r="3.85"/><circle cx="1574.6" cy="942.3" r="3.85"/><circle cx="1574.6" cy="950.1" r="3.85"/><circle cx="1574.6" cy="957.8" r="3.85"/><circle cx="1574.6" cy="970.5" r="3.85"/><circle cx="1574.6" cy="974.2" r="3.85"/><circle cx="1574.6" cy="977.9" r="3.85"/><circle cx="1574.6" cy="981.6" r="3.85"/><circle cx="1574.6" cy="985.3" r="3.85"/><circle cx="1574.6" cy="989" r="3.85"/><circle cx="1574.6" cy="992.7" r="3.85"/><circle cx="1600.7" cy="936.8" r="3.85"/><circle cx="1600.7" cy="944.5" r="3.85"/><circle cx="1600.7" cy="952.3" r="3.85"/><circle cx="1600.7" cy="960" r="3.85"/><circle cx="1600.7" cy="972.7" r="3.85"/><circle cx="1600.7" cy="990.4" r="3.85"/><circle cx="1600.7" cy="993.8" r="3.85"/><circle cx="1600.7" cy="997.1" r="3.85"/><circle cx="1626.8" cy="939.1" r="3.85"/><circle cx="1626.8" cy="947" r="3.85"/><circle cx="1626.8" cy="955" r="3.85"/><circle cx="1626.8" cy="966.1" r="3.85"/><circle cx="1626.8" cy="969.8" r="3.85"/><circle cx="1626.8" cy="973.5" r="3.85"/><circle cx="1626.8" cy="977.2" r="3.85"/><circle cx="1626.8" cy="994.9" r="3.85"/><circle cx="1679" cy="912.5" r="3.85"/><circle cx="1679" cy="920.6" r="3.85"/><circle cx="1679" cy="928.6" r="3.85"/><circle cx="1679" cy="936.7" r="3.85"/><circle cx="1679" cy="944.7" r="3.85"/><circle cx="1679" cy="952.8" r="3.85"/><circle cx="1679" cy="966.1" r="3.85"/><circle cx="1679" cy="982.7" r="3.85"/><circle cx="1705.1" cy="923.1" r="3.85"/><circle cx="1705.1" cy="930.2" r="3.85"/><circle cx="1705.1" cy="937.3" r="3.85"/><circle cx="1705.1" cy="956.7" r="3.85"/><circle cx="1705.1" cy="964.4" r="3.85"/><circle cx="1705.1" cy="972.2" r="3.85"/><circle cx="1705.1" cy="979.9" r="3.85"/><circle cx="1731.2" cy="895.3" r="3.85"/><circle cx="1731.2" cy="899.7" r="3.85"/><circle cx="1731.2" cy="904.1" r="3.85"/><circle cx="1731.2" cy="908.6" r="3.85"/><circle cx="1731.2" cy="913" r="3.85"/><circle cx="1731.2" cy="919.1" r="3.85"/><circle cx="1731.2" cy="926.8" r="3.85"/><circle cx="1731.2" cy="934.6" r="3.85"/><circle cx="1731.2" cy="942.3" r="3.85"/><circle cx="1731.2" cy="970.5" r="3.85"/><circle cx="1731.2" cy="983.8" r="3.85"/><circle cx="1783.4" cy="945.7" r="3.85"/><circle cx="1783.4" cy="953.8" r="3.85"/><circle cx="1783.4" cy="961.8" r="3.85"/><circle cx="1783.4" cy="969.9" r="3.85"/><circle cx="1783.4" cy="977.9" r="3.85"/><circle cx="1783.4" cy="986" r="3.85"/><circle cx="1835.6" cy="909.2" r="3.85"/><circle cx="1835.6" cy="916.7" r="3.85"/><circle cx="1835.6" cy="924.3" r="3.85"/><circle cx="1835.6" cy="933" r="3.85"/><circle cx="1835.6" cy="937.6" r="3.85"/><circle cx="1835.6" cy="942.3" r="3.85"/><circle cx="1835.6" cy="946.9" r="3.85"/><circle cx="1835.6" cy="1004.7" r="3.85"/><circle cx="1887.8" cy="870.3" r="3.85"/><circle cx="1887.8" cy="874.6" r="3.85"/><circle cx="1887.8" cy="878.8" r="3.85"/><circle cx="1887.8" cy="883.1" r="3.85"/><circle cx="1887.8" cy="887.3" r="3.85"/><circle cx="1887.8" cy="891.6" r="3.85"/><circle cx="1887.8" cy="901.7" r="3.85"/><circle cx="1887.8" cy="905.5" r="3.85"/><circle cx="1887.8" cy="909.2" r="3.85"/><circle cx="1887.8" cy="913" r="3.85"/><circle cx="1887.8" cy="916.7" r="3.85"/><circle cx="1887.8" cy="928" r="3.85"/><circle cx="1887.8" cy="946.9" r="3.85"/><circle cx="1887.8" cy="967" r="3.85"/><circle cx="1887.8" cy="970.1" r="3.85"/><circle cx="1887.8" cy="973.3" r="3.85"/><circle cx="1887.8" cy="985.2" r="3.85"/><circle cx="1913.9" cy="911.3" r="3.85"/><circle cx="1913.9" cy="918" r="3.85"/><circle cx="1913.9" cy="943.1" r="3.85"/><circle cx="1913.9" cy="957" r="3.85"/><circle cx="1913.9" cy="974.5" r="3.85"/><circle cx="1940" cy="882.8" r="3.85"/><circle cx="1940" cy="900.4" r="3.85"/><circle cx="1940" cy="907.9" r="3.85"/><circle cx="1940" cy="915.5" r="3.85"/><circle cx="1940" cy="923" r="3.85"/><circle cx="1940" cy="943.1" r="3.85"/><circle cx="1940" cy="946.9" r="3.85"/><circle cx="1940" cy="969.5" r="3.85"/></g><path d="M1104.8 938.7 C1109.9 940.8 1124.7 947.2 1135.3 951.5 C1145.9 955.8 1155.6 961.9 1168.5 964.5 C1181.4 967 1198 966.8 1212.8 966.8 C1227.6 966.8 1242.3 966.1 1257.1 964.4 C1271.9 962.8 1286.7 959.9 1301.4 956.8 C1316.2 953.7 1330.8 949.9 1345.6 945.9 C1360.3 941.8 1375.1 936.3 1389.9 932.7 C1404.7 929 1422.5 925.7 1434.2 923.9 C1445.9 922.1 1448.3 922.8 1460 921.7 C1471.7 920.6 1489.5 917.8 1504.3 917.2 C1519 916.6 1533.8 916.8 1548.5 918.3 C1563.2 919.8 1578 923.7 1592.8 926.1 C1607.6 928.5 1622.3 930.5 1637.1 932.7 C1651.9 934.9 1666.7 937 1681.4 939.4 C1696.2 941.8 1710.8 945.3 1725.6 947.1 C1740.3 948.9 1754.6 949.8 1769.9 950.4 C1785.2 951 1805.6 951.4 1817.7 950.8 C1829.8 950.2 1834.4 948.6 1842.8 946.6 C1851.2 944.6 1859.5 941.4 1867.9 938.7 C1876.3 936 1884.7 934 1893.1 930.5 C1901.5 927 1910.5 922.2 1918.2 917.7 C1925.9 913.3 1936 906.3 1939.5 904 L1939.5 922 C1936 923.9 1925.9 929.7 1918.2 933.3 C1910.5 936.8 1901.5 940.3 1893.1 943.1 C1884.7 945.9 1876.3 947.7 1867.9 950.1 C1859.5 952.4 1851.2 955.4 1842.8 957.2 C1834.4 958.9 1829.8 960.2 1817.7 960.6 C1805.6 961 1785.2 960.3 1769.9 959.6 C1754.6 958.9 1740.3 958.1 1725.6 956.3 C1710.8 954.5 1696.2 951 1681.4 948.6 C1666.7 946.2 1651.9 944.1 1637.1 941.9 C1622.3 939.7 1607.6 937.7 1592.8 935.3 C1578 932.9 1563.2 929 1548.5 927.5 C1533.8 926 1519 925.8 1504.3 926.4 C1489.5 927 1471.7 929.8 1460 930.9 C1448.3 932 1445.9 931.3 1434.2 933.1 C1422.5 934.9 1404.7 938.2 1389.9 941.9 C1375.1 945.6 1360.3 951.2 1345.6 955.3 C1330.8 959.5 1316.2 963.4 1301.4 966.6 C1286.7 969.7 1271.9 972.4 1257.1 974.4 C1242.3 976.4 1227.6 977.9 1212.8 978.6 C1198 979.4 1181.4 979.9 1168.5 978.7 C1155.6 977.6 1145.9 974.2 1135.3 971.9 C1124.7 969.6 1109.9 965.9 1104.8 964.7 Z" fill="#999" fill-opacity="0.4"/><path d="M1104.8 951.7 C1109.9 953.4 1124.7 958.4 1135.3 961.7 C1145.9 965 1155.6 969.8 1168.5 971.6 C1181.4 973.4 1198 973.1 1212.8 972.7 C1227.6 972.3 1242.3 971.2 1257.1 969.4 C1271.9 967.6 1286.7 964.8 1301.4 961.7 C1316.2 958.6 1330.8 954.7 1345.6 950.6 C1360.3 946.5 1375.1 941 1389.9 937.3 C1404.7 933.6 1422.5 930.3 1434.2 928.5 C1445.9 926.7 1448.3 927.4 1460 926.3 C1471.7 925.2 1489.5 922.4 1504.3 921.8 C1519 921.2 1533.8 921.4 1548.5 922.9 C1563.2 924.4 1578 928.3 1592.8 930.7 C1607.6 933.1 1622.3 935.1 1637.1 937.3 C1651.9 939.5 1666.7 941.6 1681.4 944 C1696.2 946.4 1710.8 949.9 1725.6 951.7 C1740.3 953.5 1754.6 954.3 1769.9 955 C1785.2 955.7 1805.6 956.2 1817.7 955.7 C1829.8 955.2 1834.4 953.8 1842.8 951.9 C1851.2 950 1859.5 946.9 1867.9 944.4 C1876.3 941.9 1884.7 939.9 1893.1 936.8 C1901.5 933.6 1910.5 929.5 1918.2 925.5 C1925.9 921.5 1936 915.1 1939.5 913" fill="none" stroke="#000" stroke-width="3.7" stroke-linejoin="round"/><path d="M1104.8 894.2 C1115.4 899.6 1150.5 919.5 1168.5 926.3 C1186.5 933.1 1198 934.7 1212.8 935.1 C1227.6 935.5 1242.3 931.1 1257.1 928.5 C1271.9 925.9 1286.7 922.9 1301.4 919.6 C1316.2 916.3 1330.8 911.6 1345.6 908.5 C1360.3 905.4 1375.1 903 1389.9 900.8 C1404.7 898.6 1419.2 896.6 1434.2 895.3 C1449.2 894 1468.4 893.6 1480 893 C1491.6 892.4 1492.7 890.7 1504 891.5 C1515.3 892.3 1533.2 894.8 1548 898 C1562.8 901.2 1578.2 906.2 1593 910.5 C1607.8 914.8 1622.3 919.5 1637 924 C1651.7 928.5 1666.3 933.5 1681 937.5 C1695.7 941.5 1708.5 945.7 1725 948 C1741.5 950.3 1761.5 951.9 1780 951.5 C1798.5 951.1 1818 950.8 1836 945.6 C1854 940.4 1870.8 932.8 1888 920.5 C1905.2 908.2 1930.9 880.2 1939.5 872.1 L1939.5 929.3 C1930.9 934.1 1905.2 951.1 1888 958.2 C1870.8 965.3 1854 969.1 1836 972 C1818 974.9 1798.5 977.1 1780 975.8 C1761.5 974.5 1741.5 968.6 1725 964 C1708.5 959.4 1695.7 953.2 1681 948 C1666.3 942.8 1651.7 937.7 1637 933 C1622.3 928.3 1607.8 924.2 1593 920 C1578.2 915.8 1562.8 911.2 1548 908 C1533.2 904.8 1515.3 901.6 1504 901 C1492.7 900.4 1491.6 901.4 1480 904.1 C1468.4 906.8 1449.2 913 1434.2 917.4 C1419.2 921.8 1404.7 926.8 1389.9 930.7 C1375.1 934.6 1360.3 937.3 1345.6 940.6 C1330.8 943.9 1316.2 947.5 1301.4 950.6 C1286.7 953.8 1271.9 956.9 1257.1 959.5 C1242.3 962.1 1225.7 964.3 1212.8 966.1 C1199.9 967.9 1190.7 969.4 1179.6 970.5 C1168.5 971.6 1158.9 972.3 1146.4 972.7 C1133.9 973.1 1111.7 972.7 1104.8 972.7 Z" fill="#f00" fill-opacity="0.3"/><path d="M1104.8 934 C1109.9 935.5 1124.7 940.3 1135.3 942.9 C1145.9 945.5 1155.6 948.2 1168.5 949.5 C1181.4 950.8 1198 951.5 1212.8 950.6 C1227.6 949.7 1242.3 946.6 1257.1 944 C1271.9 941.4 1286.7 938.4 1301.4 935.1 C1316.2 931.8 1330.8 927.7 1345.6 924 C1360.3 920.3 1375.1 916.5 1389.9 913 C1404.7 909.5 1422.5 905.4 1434.2 903 C1445.9 900.6 1448.3 899.7 1460 898.6 C1471.7 897.5 1489.5 895.7 1504.3 896.4 C1519 897.1 1533.8 899.9 1548.5 903 C1563.2 906.1 1578 911 1592.8 915.2 C1607.6 919.5 1622.3 923.9 1637.1 928.5 C1651.9 933.1 1666.7 938.3 1681.4 942.9 C1696.2 947.5 1710.8 952.6 1725.6 956.1 C1740.3 959.6 1756.7 962.5 1769.9 963.9 C1783.2 965.3 1795 965.2 1805.1 964.5 C1815.2 963.8 1821.9 961.7 1830.3 959.4 C1838.7 957.1 1847 953.8 1855.4 950.7 C1863.8 947.6 1872.1 945 1880.5 940.6 C1888.9 936.2 1898.3 929.3 1905.6 924.3 C1912.9 919.3 1918.6 915.1 1924.5 910.5 C1930.4 905.9 1938.1 898.9 1940.8 896.6" fill="none" stroke="#f00" stroke-width="3.7" stroke-linejoin="round"/>
</g>
<path d="M2030 807.3 H78.7 V1057.3 H2030" fill="none" stroke="#000" stroke-width="5.4"/>
<line x1="71.6" y1="1013.5" x2="76" y2="1013.5" stroke="#333" stroke-width="1.4" />
<text x="68.9" y="1022.1" font-size="27" text-anchor="end" fill="#4D4D4D" textLength="29.7" lengthAdjust="spacingAndGlyphs">15</text>
<line x1="71.6" y1="968.7" x2="76" y2="968.7" stroke="#333" stroke-width="1.4" />
<text x="68.9" y="977.3" font-size="27" text-anchor="end" fill="#4D4D4D" textLength="29.7" lengthAdjust="spacingAndGlyphs">20</text>
<line x1="71.6" y1="923.8" x2="76" y2="923.8" stroke="#333" stroke-width="1.4" />
<text x="68.9" y="932.4" font-size="27" text-anchor="end" fill="#4D4D4D" textLength="29.7" lengthAdjust="spacingAndGlyphs">25</text>
<line x1="71.6" y1="879" x2="76" y2="879" stroke="#333" stroke-width="1.4" />
<text x="68.9" y="887.6" font-size="27" text-anchor="end" fill="#4D4D4D" textLength="29.7" lengthAdjust="spacingAndGlyphs">30</text>
<line x1="71.6" y1="834.1" x2="76" y2="834.1" stroke="#333" stroke-width="1.4" />
<text x="68.9" y="842.7" font-size="27" text-anchor="end" fill="#4D4D4D" textLength="29.7" lengthAdjust="spacingAndGlyphs">35</text>
<line x1="269.6" y1="1058.9" x2="269.6" y2="1065.5" stroke="#333" stroke-width="1.4" />
<text x="269.6" y="1085.3" font-size="27" text-anchor="middle" fill="#4D4D4D" textLength="73.6" lengthAdjust="spacingAndGlyphs">Jun 01</text>
<line x1="635" y1="1058.9" x2="635" y2="1065.5" stroke="#333" stroke-width="1.4" />
<text x="635" y="1085.3" font-size="27" text-anchor="middle" fill="#4D4D4D" textLength="75.7" lengthAdjust="spacingAndGlyphs">Jun 15</text>
<line x1="1052.6" y1="1058.9" x2="1052.6" y2="1065.5" stroke="#333" stroke-width="1.4" />
<text x="1052.6" y="1085.3" font-size="27" text-anchor="middle" fill="#4D4D4D" textLength="65.7" lengthAdjust="spacingAndGlyphs">Jul 01</text>
<line x1="1418" y1="1058.9" x2="1418" y2="1065.5" stroke="#333" stroke-width="1.4" />
<text x="1418" y="1085.3" font-size="27" text-anchor="middle" fill="#4D4D4D" textLength="66.8" lengthAdjust="spacingAndGlyphs">Jul 15</text>
<line x1="1861.7" y1="1058.9" x2="1861.7" y2="1065.5" stroke="#333" stroke-width="1.4" />
<text x="1861.7" y="1085.3" font-size="27" text-anchor="middle" fill="#4D4D4D" textLength="77.6" lengthAdjust="spacingAndGlyphs">Aug 01</text>
<text x="1053" y="1119.7" font-size="33.4" text-anchor="middle" textLength="239.7" lengthAdjust="spacingAndGlyphs">Time of the year</text>
<text x="29.3" y="932.8" font-size="33.4" text-anchor="middle" transform="rotate(-90 29.3 932.8)">Temperature (°C)</text>
<g clip-path="url(#clipB1)"><path d="M122.6 1608.5 L124.8 1608.5 L126.9 1608.5 L129.1 1608.5 L131.3 1608.5 L133.5 1608.5 L135.6 1608.5 L137.8 1608.5 L140 1608.5 L142.1 1608.5 L144.3 1608.5 L146.5 1608.4 L148.7 1608.4 L150.8 1608.4 L153 1608.4 L155.2 1608.4 L157.3 1608.4 L159.5 1608.3 L161.7 1608.3 L163.9 1608.3 L166 1608.3 L168.2 1608.2 L170.4 1608.2 L172.5 1608.1 L174.7 1608 L176.9 1608 L179.1 1607.9 L181.2 1607.8 L183.4 1607.6 L185.6 1607.5 L187.7 1607.4 L189.9 1607.2 L192.1 1607 L194.3 1606.7 L196.4 1606.5 L198.6 1606.2 L200.8 1605.8 L202.9 1605.4 L205.1 1605 L207.3 1604.5 L209.5 1603.9 L211.6 1603.3 L213.8 1602.6 L216 1601.8 L218.1 1600.9 L220.3 1599.8 L222.5 1598.7 L224.7 1597.4 L226.8 1596 L229 1594.5 L231.2 1592.8 L233.3 1590.9 L235.5 1588.8 L237.7 1586.5 L239.9 1584 L242 1581.2 L244.2 1578.3 L246.4 1575 L248.5 1571.5 L250.7 1567.7 L252.9 1563.6 L255.1 1559.3 L257.2 1554.6 L259.4 1549.6 L261.6 1544.4 L263.7 1538.8 L265.9 1532.9 L268.1 1526.8 L270.3 1520.4 L272.4 1513.7 L274.6 1506.8 L276.8 1499.7 L278.9 1492.3 L281.1 1484.8 L283.3 1477.2 L285.5 1469.5 L287.6 1461.6 L289.8 1453.7 L292 1445.8 L294.1 1437.9 L296.3 1430.1 L298.5 1422.3 L300.7 1414.6 L302.8 1407 L305 1399.5 L307.2 1392.3 L309.3 1385.1 L311.5 1378.2 L313.7 1371.5 L315.9 1365 L318 1358.7 L320.2 1352.6 L322.4 1346.8 L324.5 1341.1 L326.7 1335.8 L328.9 1330.6 L331.1 1325.7 L333.2 1321 L335.4 1316.5 L337.6 1312.3 L339.7 1308.2 L341.9 1304.4 L344.1 1300.8 L346.3 1297.3 L348.4 1294 L350.6 1290.9 L352.8 1288 L354.9 1285.2 L357.1 1282.6 L359.3 1280.2 L361.5 1277.9 L363.6 1275.7 L365.8 1273.6 L368 1271.7 L370.1 1269.9 L372.3 1268.2 L374.5 1266.6 L376.7 1265.1 L378.8 1263.7 L381 1262.4 L383.2 1261.2 L385.3 1260 L387.5 1259 L389.7 1258 L391.9 1257.1 L394 1256.3 L396.2 1255.5 L398.4 1254.8 L400.5 1254.2 L402.7 1253.7 L404.9 1253.2 L407.1 1252.7 L409.2 1252.3 L411.4 1252 L413.6 1251.7 L415.7 1251.5 L417.9 1251.4 L420.1 1251.3 L422.3 1251.2 L424.4 1251.2 L426.6 1251.3 L428.8 1251.4 L430.9 1251.6 L433.1 1251.8 L435.3 1252.1 L437.5 1252.4 L439.6 1252.8 L441.8 1253.2 L444 1253.7 L446.1 1254.3 L448.3 1254.9 L450.5 1255.6 L452.7 1256.4 L454.8 1257.2 L457 1258.2 L459.2 1259.1 L461.3 1260.2 L463.5 1261.3 L465.7 1262.6 L467.9 1263.9 L470 1265.3 L472.2 1266.8 L474.4 1268.4 L476.5 1270.2 L478.7 1272 L480.9 1273.9 L483.1 1276 L485.2 1278.2 L487.4 1280.6 L489.6 1283.1 L491.8 1285.7 L493.9 1288.5 L496.1 1291.4 L498.3 1294.6 L500.4 1297.9 L502.6 1301.3 L504.8 1305 L507 1308.9 L509.1 1313 L511.3 1317.3 L513.5 1321.8 L515.6 1326.5 L517.8 1331.5 L520 1336.6 L522.2 1342 L524.3 1347.7 L526.5 1353.6 L528.7 1359.7 L530.8 1366 L533 1372.6 L535.2 1379.3 L537.4 1386.3 L539.5 1393.4 L541.7 1400.8 L543.9 1408.2 L546 1415.8 L548.2 1423.6 L550.4 1431.4 L552.6 1439.2 L554.7 1447.1 L556.9 1455 L559.1 1462.9 L561.2 1470.7 L563.4 1478.5 L565.6 1486.1 L567.8 1493.5 L569.9 1500.8 L572.1 1507.9 L574.3 1514.8 L576.4 1521.4 L578.6 1527.8 L580.8 1533.9 L583 1539.7 L585.1 1545.2 L587.3 1550.5 L589.5 1555.4 L591.6 1560 L593.8 1564.3 L596 1568.4 L598.2 1572.1 L600.3 1575.6 L602.5 1578.8 L604.7 1581.7 L606.8 1584.4 L609 1586.9 L611.2 1589.2 L613.4 1591.2 L615.5 1593.1 L617.7 1594.8 L619.9 1596.3 L622 1597.7 L624.2 1598.9 L626.4 1600 L628.6 1601 L630.7 1601.9 L632.9 1602.7 L635.1 1603.4 L637.2 1604 L639.4 1604.6 L641.6 1605.1" fill="none" stroke="#7AC5CD" stroke-width="7.4" stroke-linejoin="round"/><path d="M122.6 1608.5 L124.8 1608.5 L126.9 1608.5 L129.1 1608.5 L131.3 1608.5 L133.5 1608.5 L135.6 1608.5 L137.8 1608.5 L140 1608.5 L142.1 1608.5 L144.3 1608.5 L146.5 1608.5 L148.7 1608.5 L150.8 1608.5 L153 1608.5 L155.2 1608.5 L157.3 1608.5 L159.5 1608.5 L161.7 1608.5 L163.9 1608.5 L166 1608.5 L168.2 1608.5 L170.4 1608.5 L172.5 1608.5 L174.7 1608.5 L176.9 1608.5 L179.1 1608.5 L181.2 1608.5 L183.4 1608.5 L185.6 1608.5 L187.7 1608.5 L189.9 1608.5 L192.1 1608.5 L194.3 1608.5 L196.4 1608.5 L198.6 1608.5 L200.8 1608.5 L202.9 1608.5 L205.1 1608.4 L207.3 1608.4 L209.5 1608.4 L211.6 1608.4 L213.8 1608.4 L216 1608.4 L218.1 1608.3 L220.3 1608.3 L222.5 1608.3 L224.7 1608.2 L226.8 1608.2 L229 1608.1 L231.2 1608.1 L233.3 1608 L235.5 1607.9 L237.7 1607.8 L239.9 1607.7 L242 1607.5 L244.2 1607.4 L246.4 1607.2 L248.5 1607 L250.7 1606.7 L252.9 1606.4 L255.1 1606 L257.2 1605.6 L259.4 1605.2 L261.6 1604.7 L263.7 1604 L265.9 1603.3 L268.1 1602.6 L270.3 1601.6 L272.4 1600.6 L274.6 1599.4 L276.8 1598.1 L278.9 1596.6 L281.1 1594.9 L283.3 1593 L285.5 1590.9 L287.6 1588.5 L289.8 1585.8 L292 1582.9 L294.1 1579.6 L296.3 1576 L298.5 1572 L300.7 1567.6 L302.8 1562.8 L305 1557.6 L307.2 1552 L309.3 1545.9 L311.5 1539.4 L313.7 1532.4 L315.9 1525.1 L318 1517.3 L320.2 1509 L322.4 1500.5 L324.5 1491.5 L326.7 1482.3 L328.9 1472.8 L331.1 1463.1 L333.2 1453.3 L335.4 1443.3 L337.6 1433.3 L339.7 1423.3 L341.9 1413.4 L344.1 1403.5 L346.3 1393.8 L348.4 1384.4 L350.6 1375.1 L352.8 1366.1 L354.9 1357.5 L357.1 1349.1 L359.3 1341.1 L361.5 1333.4 L363.6 1326.1 L365.8 1319.1 L368 1312.5 L370.1 1306.3 L372.3 1300.4 L374.5 1294.9 L376.7 1289.6 L378.8 1284.7 L381 1280.1 L383.2 1275.8 L385.3 1271.8 L387.5 1268 L389.7 1264.5 L391.9 1261.2 L394 1258.1 L396.2 1255.3 L398.4 1252.6 L400.5 1250.1 L402.7 1247.8 L404.9 1245.7 L407.1 1243.6 L409.2 1241.8 L411.4 1240 L413.6 1238.4 L415.7 1236.9 L417.9 1235.5 L420.1 1234.1 L422.3 1232.9 L424.4 1231.8 L426.6 1230.7 L428.8 1229.7 L430.9 1228.8 L433.1 1227.9 L435.3 1227.1 L437.5 1226.4 L439.6 1225.7 L441.8 1225 L444 1224.4 L446.1 1223.8 L448.3 1223.3 L450.5 1222.8 L452.7 1222.3 L454.8 1221.9 L457 1221.5 L459.2 1221.2 L461.3 1220.8 L463.5 1220.5 L465.7 1220.2 L467.9 1220 L470 1219.7 L472.2 1219.5 L474.4 1219.3 L476.5 1219.1 L478.7 1219 L480.9 1218.8 L483.1 1218.7 L485.2 1218.6 L487.4 1218.5 L489.6 1218.4 L491.8 1218.3 L493.9 1218.3 L496.1 1218.3 L498.3 1218.3 L500.4 1218.3 L502.6 1218.3 L504.8 1218.3 L507 1218.4 L509.1 1218.4 L511.3 1218.5 L513.5 1218.6 L515.6 1218.7 L517.8 1218.8 L520 1219 L522.2 1219.2 L524.3 1219.3 L526.5 1219.5 L528.7 1219.8 L530.8 1220 L533 1220.3 L535.2 1220.6 L537.4 1220.9 L539.5 1221.2 L541.7 1221.6 L543.9 1222 L546 1222.4 L548.2 1222.9 L550.4 1223.4 L552.6 1223.9 L554.7 1224.5 L556.9 1225.1 L559.1 1225.8 L561.2 1226.5 L563.4 1227.3 L565.6 1228.1 L567.8 1229 L569.9 1229.9 L572.1 1230.9 L574.3 1232 L576.4 1233.2 L578.6 1234.4 L580.8 1235.8 L583 1237.2 L585.1 1238.8 L587.3 1240.4 L589.5 1242.2 L591.6 1244.1 L593.8 1246.1 L596 1248.3 L598.2 1250.7 L600.3 1253.2 L602.5 1255.9 L604.7 1258.8 L606.8 1261.9 L609 1265.3 L611.2 1268.9 L613.4 1272.7 L615.5 1276.8 L617.7 1281.2 L619.9 1285.8 L622 1290.8 L624.2 1296.1 L626.4 1301.7 L628.6 1307.7 L630.7 1314 L632.9 1320.7 L635.1 1327.7 L637.2 1335.1 L639.4 1342.9 L641.6 1351" fill="none" stroke="#838B8B" stroke-width="7.4" stroke-linejoin="round"/><path d="M122.6 1608.5 L124.8 1608.5 L126.9 1608.5 L129.1 1608.5 L131.3 1608.5 L133.5 1608.5 L135.6 1608.5 L137.8 1608.5 L140 1608.5 L142.1 1608.5 L144.3 1608.5 L146.5 1608.5 L148.7 1608.5 L150.8 1608.5 L153 1608.5 L155.2 1608.5 L157.3 1608.5 L159.5 1608.5 L161.7 1608.5 L163.9 1608.5 L166 1608.5 L168.2 1608.5 L170.4 1608.5 L172.5 1608.5 L174.7 1608.5 L176.9 1608.5 L179.1 1608.5 L181.2 1608.5 L183.4 1608.5 L185.6 1608.5 L187.7 1608.5 L189.9 1608.5 L192.1 1608.5 L194.3 1608.5 L196.4 1608.5 L198.6 1608.5 L200.8 1608.4 L202.9 1608.4 L205.1 1608.4 L207.3 1608.4 L209.5 1608.4 L211.6 1608.4 L213.8 1608.4 L216 1608.4 L218.1 1608.4 L220.3 1608.4 L222.5 1608.4 L224.7 1608.3 L226.8 1608.3 L229 1608.3 L231.2 1608.3 L233.3 1608.3 L235.5 1608.2 L237.7 1608.2 L239.9 1608.2 L242 1608.2 L244.2 1608.1 L246.4 1608.1 L248.5 1608 L250.7 1608 L252.9 1607.9 L255.1 1607.9 L257.2 1607.8 L259.4 1607.8 L261.6 1607.7 L263.7 1607.6 L265.9 1607.6 L268.1 1607.5 L270.3 1607.4 L272.4 1607.3 L274.6 1607.2 L276.8 1607 L278.9 1606.9 L281.1 1606.8 L283.3 1606.6 L285.5 1606.4 L287.6 1606.3 L289.8 1606.1 L292 1605.9 L294.1 1605.6 L296.3 1605.4 L298.5 1605.1 L300.7 1604.9 L302.8 1604.6 L305 1604.2 L307.2 1603.9 L309.3 1603.5 L311.5 1603.1 L313.7 1602.7 L315.9 1602.2 L318 1601.7 L320.2 1601.2 L322.4 1600.7 L324.5 1600.1 L326.7 1599.4 L328.9 1598.7 L331.1 1598 L333.2 1597.3 L335.4 1596.4 L337.6 1595.6 L339.7 1594.6 L341.9 1593.7 L344.1 1592.6 L346.3 1591.5 L348.4 1590.4 L350.6 1589.1 L352.8 1587.8 L354.9 1586.5 L357.1 1585 L359.3 1583.5 L361.5 1581.9 L363.6 1580.2 L365.8 1578.5 L368 1576.6 L370.1 1574.7 L372.3 1572.7 L374.5 1570.5 L376.7 1568.3 L378.8 1566 L381 1563.6 L383.2 1561.1 L385.3 1558.6 L387.5 1555.9 L389.7 1553.1 L391.9 1550.2 L394 1547.2 L396.2 1544.2 L398.4 1541 L400.5 1537.8 L402.7 1534.4 L404.9 1531 L407.1 1527.4 L409.2 1523.8 L411.4 1520.2 L413.6 1516.4 L415.7 1512.6 L417.9 1508.6 L420.1 1504.7 L422.3 1500.6 L424.4 1496.5 L426.6 1492.4 L428.8 1488.2 L430.9 1484 L433.1 1479.7 L435.3 1475.4 L437.5 1471.1 L439.6 1466.8 L441.8 1462.4 L444 1458.1 L446.1 1453.7 L448.3 1449.4 L450.5 1445 L452.7 1440.7 L454.8 1436.4 L457 1432.1 L459.2 1427.8 L461.3 1423.6 L463.5 1419.4 L465.7 1415.2 L467.9 1411.1 L470 1407.1 L472.2 1403.1 L474.4 1399.1 L476.5 1395.2 L478.7 1391.4 L480.9 1387.6 L483.1 1383.9 L485.2 1380.3 L487.4 1376.7 L489.6 1373.2 L491.8 1369.8 L493.9 1366.5 L496.1 1363.2 L498.3 1360 L500.4 1356.8 L502.6 1353.8 L504.8 1350.8 L507 1347.9 L509.1 1345.1 L511.3 1342.3 L513.5 1339.6 L515.6 1337 L517.8 1334.4 L520 1332 L522.2 1329.6 L524.3 1327.2 L526.5 1325 L528.7 1322.8 L530.8 1320.6 L533 1318.6 L535.2 1316.6 L537.4 1314.6 L539.5 1312.8 L541.7 1311 L543.9 1309.2 L546 1307.5 L548.2 1305.9 L550.4 1304.3 L552.6 1302.8 L554.7 1301.3 L556.9 1299.9 L559.1 1298.5 L561.2 1297.2 L563.4 1295.9 L565.6 1294.7 L567.8 1293.5 L569.9 1292.4 L572.1 1291.3 L574.3 1290.3 L576.4 1289.3 L578.6 1288.3 L580.8 1287.4 L583 1286.5 L585.1 1285.7 L587.3 1284.9 L589.5 1284.2 L591.6 1283.5 L593.8 1282.8 L596 1282.1 L598.2 1281.5 L600.3 1281 L602.5 1280.4 L604.7 1279.9 L606.8 1279.4 L609 1279 L611.2 1278.6 L613.4 1278.2 L615.5 1277.9 L617.7 1277.6 L619.9 1277.3 L622 1277.1 L624.2 1276.8 L626.4 1276.7 L628.6 1276.5 L630.7 1276.4 L632.9 1276.3 L635.1 1276.2 L637.2 1276.2 L639.4 1276.2 L641.6 1276.2" fill="none" stroke="#FF7F50" stroke-width="7.4" stroke-linejoin="round"/><path d="M122.6 1607.8 L124.8 1607.7 L126.9 1607.6 L129.1 1607.5 L131.3 1607.4 L133.5 1607.3 L135.6 1607.2 L137.8 1607.1 L140 1607 L142.1 1606.8 L144.3 1606.7 L146.5 1606.5 L148.7 1606.3 L150.8 1606.1 L153 1605.9 L155.2 1605.6 L157.3 1605.3 L159.5 1605.1 L161.7 1604.7 L163.9 1604.4 L166 1604 L168.2 1603.6 L170.4 1603.2 L172.5 1602.7 L174.7 1602.2 L176.9 1601.6 L179.1 1601 L181.2 1600.3 L183.4 1599.6 L185.6 1598.8 L187.7 1598 L189.9 1597.1 L192.1 1596.1 L194.3 1595.1 L196.4 1593.9 L198.6 1592.7 L200.8 1591.4 L202.9 1590 L205.1 1588.4 L207.3 1586.8 L209.5 1585 L211.6 1583.1 L213.8 1581.1 L216 1578.9 L218.1 1576.6 L220.3 1574.1 L222.5 1571.4 L224.7 1568.6 L226.8 1565.5 L229 1562.3 L231.2 1558.9 L233.3 1555.2 L235.5 1551.3 L237.7 1547.2 L239.9 1542.9 L242 1538.3 L244.2 1533.5 L246.4 1528.4 L248.5 1523.1 L250.7 1517.5 L252.9 1511.7 L255.1 1505.7 L257.2 1499.4 L259.4 1492.8 L261.6 1486 L263.7 1479.1 L265.9 1471.9 L268.1 1464.6 L270.3 1457.1 L272.4 1449.4 L274.6 1441.7 L276.8 1433.9 L278.9 1426 L281.1 1418.2 L283.3 1410.3 L285.5 1402.5 L287.6 1394.7 L289.8 1387 L292 1379.5 L294.1 1372.1 L296.3 1364.9 L298.5 1357.9 L300.7 1351.1 L302.8 1344.5 L305 1338.1 L307.2 1332 L309.3 1326.2 L311.5 1320.6 L313.7 1315.2 L315.9 1310.2 L318 1305.3 L320.2 1300.7 L322.4 1296.4 L324.5 1292.3 L326.7 1288.4 L328.9 1284.8 L331.1 1281.3 L333.2 1278.1 L335.4 1275 L337.6 1272.1 L339.7 1269.4 L341.9 1266.9 L344.1 1264.5 L346.3 1262.3 L348.4 1260.1 L350.6 1258.2 L352.8 1256.3 L354.9 1254.5 L357.1 1252.8 L359.3 1251.3 L361.5 1249.8 L363.6 1248.4 L365.8 1247 L368 1245.8 L370.1 1244.6 L372.3 1243.4 L374.5 1242.3 L376.7 1241.2 L378.8 1240.2 L381 1239.2 L383.2 1238.3 L385.3 1237.4 L387.5 1236.5 L389.7 1235.6 L391.9 1234.7 L394 1233.9 L396.2 1233.1 L398.4 1232.3 L400.5 1231.6 L402.7 1230.8 L404.9 1230.1 L407.1 1229.4 L409.2 1228.7 L411.4 1228 L413.6 1227.3 L415.7 1226.7 L417.9 1226.1 L420.1 1225.4 L422.3 1224.8 L424.4 1224.3 L426.6 1223.7 L428.8 1223.2 L430.9 1222.6 L433.1 1222.1 L435.3 1221.6 L437.5 1221.2 L439.6 1220.7 L441.8 1220.2 L444 1219.8 L446.1 1219.4 L448.3 1219 L450.5 1218.6 L452.7 1218.2 L454.8 1217.9 L457 1217.5 L459.2 1217.2 L461.3 1216.9 L463.5 1216.6 L465.7 1216.3 L467.9 1216 L470 1215.7 L472.2 1215.4 L474.4 1215.2 L476.5 1214.9 L478.7 1214.7 L480.9 1214.5 L483.1 1214.2 L485.2 1214 L487.4 1213.8 L489.6 1213.6 L491.8 1213.4 L493.9 1213.3 L496.1 1213.1 L498.3 1212.9 L500.4 1212.8 L502.6 1212.6 L504.8 1212.4 L507 1212.3 L509.1 1212.2 L511.3 1212 L513.5 1211.9 L515.6 1211.8 L517.8 1211.7 L520 1211.5 L522.2 1211.4 L524.3 1211.3 L526.5 1211.2 L528.7 1211.1 L530.8 1211 L533 1210.9 L535.2 1210.8 L537.4 1210.8 L539.5 1210.7 L541.7 1210.6 L543.9 1210.5 L546 1210.4 L548.2 1210.4 L550.4 1210.3 L552.6 1210.2 L554.7 1210.2 L556.9 1210.1 L559.1 1210.1 L561.2 1210 L563.4 1209.9 L565.6 1209.9 L567.8 1209.8 L569.9 1209.8 L572.1 1209.7 L574.3 1209.7 L576.4 1209.7 L578.6 1209.6 L580.8 1209.6 L583 1209.5 L585.1 1209.5 L587.3 1209.5 L589.5 1209.4 L591.6 1209.4 L593.8 1209.4 L596 1209.3 L598.2 1209.3 L600.3 1209.3 L602.5 1209.3 L604.7 1209.2 L606.8 1209.2 L609 1209.2 L611.2 1209.2 L613.4 1209.1 L615.5 1209.1 L617.7 1209.1 L619.9 1209.1 L622 1209.1 L624.2 1209.1 L626.4 1209.1 L628.6 1209 L630.7 1209 L632.9 1209 L635.1 1209 L637.2 1209 L639.4 1209 L641.6 1209 L641.6 1608.5 L639.4 1608.5 L637.2 1608.5 L635.1 1608.5 L632.9 1608.5 L630.7 1608.5 L628.6 1608.5 L626.4 1608.5 L624.2 1608.5 L622 1608.5 L619.9 1608.5 L617.7 1608.5 L615.5 1608.5 L613.4 1608.5 L611.2 1608.5 L609 1608.5 L606.8 1608.5 L604.7 1608.5 L602.5 1608.5 L600.3 1608.5 L598.2 1608.5 L596 1608.5 L593.8 1608.5 L591.6 1608.4 L589.5 1608.4 L587.3 1608.4 L585.1 1608.4 L583 1608.4 L580.8 1608.3 L578.6 1608.3 L576.4 1608.3 L574.3 1608.2 L572.1 1608.1 L569.9 1608.1 L567.8 1608 L565.6 1607.9 L563.4 1607.7 L561.2 1607.6 L559.1 1607.4 L556.9 1607.2 L554.7 1606.9 L552.6 1606.6 L550.4 1606.2 L548.2 1605.8 L546 1605.2 L543.9 1604.6 L541.7 1603.9 L539.5 1603.1 L537.4 1602.2 L535.2 1601.1 L533 1599.9 L530.8 1598.4 L528.7 1596.8 L526.5 1594.9 L524.3 1592.8 L522.2 1590.5 L520 1587.8 L517.8 1584.8 L515.6 1581.5 L513.5 1577.8 L511.3 1573.7 L509.1 1569.2 L507 1564.4 L504.8 1559 L502.6 1553.3 L500.4 1547.2 L498.3 1540.6 L496.1 1533.6 L493.9 1526.3 L491.8 1518.5 L489.6 1510.5 L487.4 1502.2 L485.2 1493.6 L483.1 1484.8 L480.9 1475.9 L478.7 1466.9 L476.5 1457.8 L474.4 1448.8 L472.2 1439.8 L470 1430.9 L467.9 1422.2 L465.7 1413.7 L463.5 1405.3 L461.3 1397.3 L459.2 1389.5 L457 1382 L454.8 1374.9 L452.7 1368 L450.5 1361.5 L448.3 1355.3 L446.1 1349.5 L444 1344 L441.8 1338.8 L439.6 1334 L437.5 1329.4 L435.3 1325.2 L433.1 1321.3 L430.9 1317.7 L428.8 1314.3 L426.6 1311.3 L424.4 1308.4 L422.3 1305.9 L420.1 1303.6 L417.9 1301.5 L415.7 1299.7 L413.6 1298 L411.4 1296.6 L409.2 1295.4 L407.1 1294.5 L404.9 1293.7 L402.7 1293.1 L400.5 1292.7 L398.4 1292.5 L396.2 1292.5 L394 1292.7 L391.9 1293.1 L389.7 1293.7 L387.5 1294.4 L385.3 1295.4 L383.2 1296.5 L381 1297.9 L378.8 1299.4 L376.7 1301.1 L374.5 1303 L372.3 1305.1 L370.1 1307.4 L368 1309.9 L365.8 1312.5 L363.6 1315.4 L361.5 1318.5 L359.3 1321.8 L357.1 1325.2 L354.9 1328.9 L352.8 1332.8 L350.6 1336.8 L348.4 1341.1 L346.3 1345.6 L344.1 1350.2 L341.9 1355.1 L339.7 1360.2 L337.6 1365.4 L335.4 1370.9 L333.2 1376.5 L331.1 1382.3 L328.9 1388.3 L326.7 1394.4 L324.5 1400.7 L322.4 1407.2 L320.2 1413.8 L318 1420.5 L315.9 1427.3 L313.7 1434.2 L311.5 1441.2 L309.3 1448.3 L307.2 1455.4 L305 1462.5 L302.8 1469.6 L300.7 1476.7 L298.5 1483.8 L296.3 1490.8 L294.1 1497.7 L292 1504.5 L289.8 1511.2 L287.6 1517.7 L285.5 1524.1 L283.3 1530.2 L281.1 1536.1 L278.9 1541.8 L276.8 1547.3 L274.6 1552.5 L272.4 1557.4 L270.3 1562.1 L268.1 1566.5 L265.9 1570.6 L263.7 1574.4 L261.6 1577.9 L259.4 1581.2 L257.2 1584.2 L255.1 1586.9 L252.9 1589.4 L250.7 1591.7 L248.5 1593.7 L246.4 1595.6 L244.2 1597.2 L242 1598.7 L239.9 1600 L237.7 1601.1 L235.5 1602.2 L233.3 1603 L231.2 1603.8 L229 1604.5 L226.8 1605.1 L224.7 1605.6 L222.5 1606 L220.3 1606.4 L218.1 1606.8 L216 1607 L213.8 1607.3 L211.6 1607.5 L209.5 1607.6 L207.3 1607.8 L205.1 1607.9 L202.9 1608 L200.8 1608.1 L198.6 1608.2 L196.4 1608.2 L194.3 1608.3 L192.1 1608.3 L189.9 1608.4 L187.7 1608.4 L185.6 1608.4 L183.4 1608.4 L181.2 1608.4 L179.1 1608.4 L176.9 1608.5 L174.7 1608.5 L172.5 1608.5 L170.4 1608.5 L168.2 1608.5 L166 1608.5 L163.9 1608.5 L161.7 1608.5 L159.5 1608.5 L157.3 1608.5 L155.2 1608.5 L153 1608.5 L150.8 1608.5 L148.7 1608.5 L146.5 1608.5 L144.3 1608.5 L142.1 1608.5 L140 1608.5 L137.8 1608.5 L135.6 1608.5 L133.5 1608.5 L131.3 1608.5 L129.1 1608.5 L126.9 1608.5 L124.8 1608.5 L122.6 1608.5 Z" fill="#7AC5CD" fill-opacity="0.2"/><path d="M122.6 1607.8 L124.8 1607.7 L126.9 1607.7 L129.1 1607.7 L131.3 1607.6 L133.5 1607.6 L135.6 1607.6 L137.8 1607.5 L140 1607.5 L142.1 1607.5 L144.3 1607.4 L146.5 1607.4 L148.7 1607.3 L150.8 1607.3 L153 1607.2 L155.2 1607.2 L157.3 1607.1 L159.5 1607 L161.7 1607 L163.9 1606.9 L166 1606.8 L168.2 1606.8 L170.4 1606.7 L172.5 1606.6 L174.7 1606.5 L176.9 1606.4 L179.1 1606.3 L181.2 1606.2 L183.4 1606 L185.6 1605.9 L187.7 1605.8 L189.9 1605.6 L192.1 1605.5 L194.3 1605.3 L196.4 1605.2 L198.6 1605 L200.8 1604.8 L202.9 1604.6 L205.1 1604.4 L207.3 1604.1 L209.5 1603.9 L211.6 1603.6 L213.8 1603.3 L216 1603 L218.1 1602.7 L220.3 1602.3 L222.5 1601.9 L224.7 1601.5 L226.8 1601.1 L229 1600.7 L231.2 1600.2 L233.3 1599.6 L235.5 1599.1 L237.7 1598.5 L239.9 1597.8 L242 1597.1 L244.2 1596.3 L246.4 1595.5 L248.5 1594.7 L250.7 1593.7 L252.9 1592.7 L255.1 1591.6 L257.2 1590.5 L259.4 1589.2 L261.6 1587.8 L263.7 1586.4 L265.9 1584.8 L268.1 1583.1 L270.3 1581.2 L272.4 1579.2 L274.6 1577 L276.8 1574.7 L278.9 1572.2 L281.1 1569.4 L283.3 1566.5 L285.5 1563.3 L287.6 1559.8 L289.8 1556 L292 1551.9 L294.1 1547.5 L296.3 1542.7 L298.5 1537.5 L300.7 1531.9 L302.8 1525.9 L305 1519.4 L307.2 1512.4 L309.3 1504.9 L311.5 1497 L313.7 1488.5 L315.9 1479.6 L318 1470.3 L320.2 1460.6 L322.4 1450.6 L324.5 1440.3 L326.7 1429.8 L328.9 1419.2 L331.1 1408.6 L333.2 1398.1 L335.4 1387.7 L337.6 1377.5 L339.7 1367.6 L341.9 1358 L344.1 1348.8 L346.3 1340 L348.4 1331.6 L350.6 1323.7 L352.8 1316.2 L354.9 1309.2 L357.1 1302.6 L359.3 1296.5 L361.5 1290.8 L363.6 1285.4 L365.8 1280.5 L368 1275.9 L370.1 1271.6 L372.3 1267.7 L374.5 1264 L376.7 1260.6 L378.8 1257.4 L381 1254.4 L383.2 1251.6 L385.3 1248.9 L387.5 1246.5 L389.7 1244.1 L391.9 1241.9 L394 1239.7 L396.2 1237.7 L398.4 1235.7 L400.5 1233.8 L402.7 1232 L404.9 1230.3 L407.1 1228.6 L409.2 1227 L411.4 1225.5 L413.6 1224 L415.7 1222.7 L417.9 1221.3 L420.1 1220.1 L422.3 1219 L424.4 1217.9 L426.6 1216.9 L428.8 1216 L430.9 1215.1 L433.1 1214.4 L435.3 1213.6 L437.5 1213 L439.6 1212.4 L441.8 1211.8 L444 1211.3 L446.1 1210.8 L448.3 1210.4 L450.5 1210 L452.7 1209.7 L454.8 1209.4 L457 1209.1 L459.2 1208.8 L461.3 1208.6 L463.5 1208.4 L465.7 1208.2 L467.9 1208 L470 1207.9 L472.2 1207.7 L474.4 1207.6 L476.5 1207.5 L478.7 1207.4 L480.9 1207.3 L483.1 1207.2 L485.2 1207.2 L487.4 1207.1 L489.6 1207.1 L491.8 1207 L493.9 1207 L496.1 1206.9 L498.3 1206.9 L500.4 1206.8 L502.6 1206.8 L504.8 1206.8 L507 1206.8 L509.1 1206.8 L511.3 1206.7 L513.5 1206.7 L515.6 1206.7 L517.8 1206.7 L520 1206.7 L522.2 1206.7 L524.3 1206.7 L526.5 1206.7 L528.7 1206.6 L530.8 1206.6 L533 1206.6 L535.2 1206.6 L537.4 1206.6 L539.5 1206.6 L541.7 1206.6 L543.9 1206.6 L546 1206.6 L548.2 1206.6 L550.4 1206.6 L552.6 1206.6 L554.7 1206.6 L556.9 1206.6 L559.1 1206.6 L561.2 1206.6 L563.4 1206.6 L565.6 1206.6 L567.8 1206.6 L569.9 1206.6 L572.1 1206.6 L574.3 1206.6 L576.4 1206.6 L578.6 1206.6 L580.8 1206.6 L583 1206.6 L585.1 1206.6 L587.3 1206.6 L589.5 1206.6 L591.6 1206.6 L593.8 1206.6 L596 1206.6 L598.2 1206.6 L600.3 1206.6 L602.5 1206.6 L604.7 1206.6 L606.8 1206.6 L609 1206.6 L611.2 1206.6 L613.4 1206.6 L615.5 1206.6 L617.7 1206.6 L619.9 1206.6 L622 1206.6 L624.2 1206.6 L626.4 1206.6 L628.6 1206.6 L630.7 1206.6 L632.9 1206.6 L635.1 1206.6 L637.2 1206.6 L639.4 1206.6 L641.6 1206.6 L641.6 1608.5 L639.4 1608.5 L637.2 1608.5 L635.1 1608.5 L632.9 1608.5 L630.7 1608.5 L628.6 1608.5 L626.4 1608.5 L624.2 1608.5 L622 1608.5 L619.9 1608.5 L617.7 1608.5 L615.5 1608.5 L613.4 1608.5 L611.2 1608.5 L609 1608.5 L606.8 1608.5 L604.7 1608.5 L602.5 1608.5 L600.3 1608.5 L598.2 1608.5 L596 1608.4 L593.8 1608.4 L591.6 1608.4 L589.5 1608.4 L587.3 1608.3 L585.1 1608.3 L583 1608.2 L580.8 1608.2 L578.6 1608.1 L576.4 1608 L574.3 1607.8 L572.1 1607.7 L569.9 1607.4 L567.8 1607.2 L565.6 1606.9 L563.4 1606.5 L561.2 1606 L559.1 1605.4 L556.9 1604.7 L554.7 1603.8 L552.6 1602.8 L550.4 1601.5 L548.2 1600.1 L546 1598.3 L543.9 1596.3 L541.7 1593.9 L539.5 1591.1 L537.4 1587.8 L535.2 1584.1 L533 1579.8 L530.8 1574.9 L528.7 1569.5 L526.5 1563.3 L524.3 1556.5 L522.2 1549 L520 1540.8 L517.8 1531.9 L515.6 1522.3 L513.5 1512.2 L511.3 1501.6 L509.1 1490.5 L507 1479 L504.8 1467.2 L502.6 1455.4 L500.4 1443.4 L498.3 1431.5 L496.1 1419.8 L493.9 1408.3 L491.8 1397.2 L489.6 1386.4 L487.4 1376.1 L485.2 1366.2 L483.1 1356.9 L480.9 1348.1 L478.7 1339.8 L476.5 1332.1 L474.4 1324.9 L472.2 1318.2 L470 1312 L467.9 1306.3 L465.7 1301.1 L463.5 1296.2 L461.3 1291.8 L459.2 1287.8 L457 1284.1 L454.8 1280.7 L452.7 1277.7 L450.5 1275 L448.3 1272.5 L446.1 1270.3 L444 1268.3 L441.8 1266.6 L439.6 1265.1 L437.5 1263.8 L435.3 1262.8 L433.1 1261.9 L430.9 1261.2 L428.8 1260.7 L426.6 1260.4 L424.4 1260.3 L422.3 1260.4 L420.1 1260.7 L417.9 1261.2 L415.7 1261.9 L413.6 1262.9 L411.4 1264.1 L409.2 1265.5 L407.1 1267.3 L404.9 1269.3 L402.7 1271.7 L400.5 1274.4 L398.4 1277.4 L396.2 1280.8 L394 1284.6 L391.9 1288.8 L389.7 1293.3 L387.5 1298.3 L385.3 1303.6 L383.2 1309.4 L381 1315.5 L378.8 1322 L376.7 1328.9 L374.5 1336.1 L372.3 1343.6 L370.1 1351.5 L368 1359.6 L365.8 1368 L363.6 1376.7 L361.5 1385.5 L359.3 1394.5 L357.1 1403.6 L354.9 1412.8 L352.8 1422.1 L350.6 1431.3 L348.4 1440.6 L346.3 1449.8 L344.1 1458.9 L341.9 1467.9 L339.7 1476.7 L337.6 1485.4 L335.4 1493.8 L333.2 1502 L331.1 1510 L328.9 1517.7 L326.7 1525.1 L324.5 1532.3 L322.4 1539.1 L320.2 1545.5 L318 1551.7 L315.9 1557.5 L313.7 1562.9 L311.5 1567.9 L309.3 1572.6 L307.2 1577 L305 1580.9 L302.8 1584.5 L300.7 1587.7 L298.5 1590.6 L296.3 1593.2 L294.1 1595.4 L292 1597.4 L289.8 1599.2 L287.6 1600.7 L285.5 1601.9 L283.3 1603.1 L281.1 1604 L278.9 1604.8 L276.8 1605.4 L274.6 1606 L272.4 1606.5 L270.3 1606.8 L268.1 1607.2 L265.9 1607.4 L263.7 1607.6 L261.6 1607.8 L259.4 1607.9 L257.2 1608.1 L255.1 1608.2 L252.9 1608.2 L250.7 1608.3 L248.5 1608.3 L246.4 1608.4 L244.2 1608.4 L242 1608.4 L239.9 1608.4 L237.7 1608.5 L235.5 1608.5 L233.3 1608.5 L231.2 1608.5 L229 1608.5 L226.8 1608.5 L224.7 1608.5 L222.5 1608.5 L220.3 1608.5 L218.1 1608.5 L216 1608.5 L213.8 1608.5 L211.6 1608.5 L209.5 1608.5 L207.3 1608.5 L205.1 1608.5 L202.9 1608.5 L200.8 1608.5 L198.6 1608.5 L196.4 1608.5 L194.3 1608.5 L192.1 1608.5 L189.9 1608.5 L187.7 1608.5 L185.6 1608.5 L183.4 1608.5 L181.2 1608.5 L179.1 1608.5 L176.9 1608.5 L174.7 1608.5 L172.5 1608.5 L170.4 1608.5 L168.2 1608.5 L166 1608.5 L163.9 1608.5 L161.7 1608.5 L159.5 1608.5 L157.3 1608.5 L155.2 1608.5 L153 1608.5 L150.8 1608.5 L148.7 1608.5 L146.5 1608.5 L144.3 1608.5 L142.1 1608.5 L140 1608.5 L137.8 1608.5 L135.6 1608.5 L133.5 1608.5 L131.3 1608.5 L129.1 1608.5 L126.9 1608.5 L124.8 1608.5 L122.6 1608.5 Z" fill="#838B8B" fill-opacity="0.2"/><path d="M122.6 1598.2 L124.8 1598.4 L126.9 1598.6 L129.1 1598.8 L131.3 1599 L133.5 1599.2 L135.6 1599.4 L137.8 1599.5 L140 1599.7 L142.1 1599.8 L144.3 1600 L146.5 1600.1 L148.7 1600.2 L150.8 1600.3 L153 1600.5 L155.2 1600.6 L157.3 1600.7 L159.5 1600.8 L161.7 1600.8 L163.9 1600.9 L166 1601 L168.2 1601.1 L170.4 1601.1 L172.5 1601.2 L174.7 1601.3 L176.9 1601.3 L179.1 1601.4 L181.2 1601.4 L183.4 1601.4 L185.6 1601.5 L187.7 1601.5 L189.9 1601.5 L192.1 1601.5 L194.3 1601.6 L196.4 1601.6 L198.6 1601.6 L200.8 1601.6 L202.9 1601.6 L205.1 1601.6 L207.3 1601.6 L209.5 1601.5 L211.6 1601.5 L213.8 1601.5 L216 1601.5 L218.1 1601.4 L220.3 1601.4 L222.5 1601.4 L224.7 1601.3 L226.8 1601.3 L229 1601.2 L231.2 1601.2 L233.3 1601.1 L235.5 1601 L237.7 1600.9 L239.9 1600.9 L242 1600.8 L244.2 1600.7 L246.4 1600.6 L248.5 1600.5 L250.7 1600.4 L252.9 1600.2 L255.1 1600.1 L257.2 1600 L259.4 1599.8 L261.6 1599.7 L263.7 1599.5 L265.9 1599.4 L268.1 1599.2 L270.3 1599 L272.4 1598.8 L274.6 1598.6 L276.8 1598.4 L278.9 1598.2 L281.1 1597.9 L283.3 1597.7 L285.5 1597.4 L287.6 1597.1 L289.8 1596.8 L292 1596.5 L294.1 1596.2 L296.3 1595.8 L298.5 1595.5 L300.7 1595.1 L302.8 1594.7 L305 1594.3 L307.2 1593.8 L309.3 1593.3 L311.5 1592.8 L313.7 1592.3 L315.9 1591.7 L318 1591.1 L320.2 1590.5 L322.4 1589.8 L324.5 1589.1 L326.7 1588.3 L328.9 1587.5 L331.1 1586.6 L333.2 1585.7 L335.4 1584.7 L337.6 1583.7 L339.7 1582.6 L341.9 1581.4 L344.1 1580.2 L346.3 1578.8 L348.4 1577.4 L350.6 1575.9 L352.8 1574.2 L354.9 1572.5 L357.1 1570.6 L359.3 1568.7 L361.5 1566.6 L363.6 1564.4 L365.8 1562 L368 1559.5 L370.1 1556.9 L372.3 1554.2 L374.5 1551.2 L376.7 1548.2 L378.8 1545 L381 1541.7 L383.2 1538.2 L385.3 1534.6 L387.5 1530.9 L389.7 1527 L391.9 1523.1 L394 1518.9 L396.2 1514.7 L398.4 1510.4 L400.5 1505.9 L402.7 1501.4 L404.9 1496.8 L407.1 1492 L409.2 1487.2 L411.4 1482.3 L413.6 1477.4 L415.7 1472.3 L417.9 1467.2 L420.1 1462 L422.3 1456.8 L424.4 1451.4 L426.6 1446 L428.8 1440.6 L430.9 1435.1 L433.1 1429.5 L435.3 1423.9 L437.5 1418.2 L439.6 1412.4 L441.8 1406.6 L444 1400.7 L446.1 1394.8 L448.3 1388.9 L450.5 1382.9 L452.7 1376.9 L454.8 1370.8 L457 1364.8 L459.2 1358.7 L461.3 1352.7 L463.5 1346.7 L465.7 1340.7 L467.9 1334.7 L470 1328.9 L472.2 1323.1 L474.4 1317.4 L476.5 1311.8 L478.7 1306.4 L480.9 1301 L483.1 1295.8 L485.2 1290.8 L487.4 1285.9 L489.6 1281.2 L491.8 1276.6 L493.9 1272.2 L496.1 1268 L498.3 1264 L500.4 1260.2 L502.6 1256.5 L504.8 1253.1 L507 1249.8 L509.1 1246.7 L511.3 1243.8 L513.5 1241 L515.6 1238.4 L517.8 1236 L520 1233.7 L522.2 1231.5 L524.3 1229.6 L526.5 1227.7 L528.7 1226 L530.8 1224.4 L533 1222.9 L535.2 1221.5 L537.4 1220.2 L539.5 1219.1 L541.7 1218 L543.9 1217 L546 1216.1 L548.2 1215.2 L550.4 1214.4 L552.6 1213.7 L554.7 1213.1 L556.9 1212.5 L559.1 1211.9 L561.2 1211.4 L563.4 1211 L565.6 1210.5 L567.8 1210.2 L569.9 1209.8 L572.1 1209.5 L574.3 1209.2 L576.4 1209 L578.6 1208.7 L580.8 1208.5 L583 1208.3 L585.1 1208.1 L587.3 1208 L589.5 1207.8 L591.6 1207.7 L593.8 1207.6 L596 1207.5 L598.2 1207.4 L600.3 1207.3 L602.5 1207.2 L604.7 1207.2 L606.8 1207.1 L609 1207.1 L611.2 1207 L613.4 1207 L615.5 1206.9 L617.7 1206.9 L619.9 1206.9 L622 1206.8 L624.2 1206.8 L626.4 1206.8 L628.6 1206.8 L630.7 1206.7 L632.9 1206.7 L635.1 1206.7 L637.2 1206.7 L639.4 1206.7 L641.6 1206.7 L641.6 1606.8 L639.4 1606.5 L637.2 1606.3 L635.1 1606 L632.9 1605.7 L630.7 1605.3 L628.6 1604.9 L626.4 1604.5 L624.2 1604 L622 1603.5 L619.9 1602.9 L617.7 1602.3 L615.5 1601.6 L613.4 1600.9 L611.2 1600.1 L609 1599.2 L606.8 1598.3 L604.7 1597.3 L602.5 1596.2 L600.3 1595 L598.2 1593.7 L596 1592.4 L593.8 1590.9 L591.6 1589.4 L589.5 1587.7 L587.3 1586 L585.1 1584.2 L583 1582.3 L580.8 1580.3 L578.6 1578.1 L576.4 1575.9 L574.3 1573.6 L572.1 1571.3 L569.9 1568.8 L567.8 1566.2 L565.6 1563.6 L563.4 1560.9 L561.2 1558.1 L559.1 1555.3 L556.9 1552.4 L554.7 1549.5 L552.6 1546.6 L550.4 1543.6 L548.2 1540.6 L546 1537.6 L543.9 1534.6 L541.7 1531.6 L539.5 1528.6 L537.4 1525.6 L535.2 1522.7 L533 1519.8 L530.8 1517 L528.7 1514.2 L526.5 1511.5 L524.3 1508.9 L522.2 1506.4 L520 1504 L517.8 1501.6 L515.6 1499.4 L513.5 1497.3 L511.3 1495.3 L509.1 1493.4 L507 1491.7 L504.8 1490.1 L502.6 1488.6 L500.4 1487.3 L498.3 1486.2 L496.1 1485.1 L493.9 1484.3 L491.8 1483.6 L489.6 1483 L487.4 1482.6 L485.2 1482.4 L483.1 1482.3 L480.9 1482.4 L478.7 1482.7 L476.5 1483.1 L474.4 1483.7 L472.2 1484.5 L470 1485.4 L467.9 1486.5 L465.7 1487.7 L463.5 1489.1 L461.3 1490.7 L459.2 1492.4 L457 1494.2 L454.8 1496.2 L452.7 1498.3 L450.5 1500.5 L448.3 1502.8 L446.1 1505.3 L444 1507.8 L441.8 1510.4 L439.6 1513.1 L437.5 1515.8 L435.3 1518.6 L433.1 1521.4 L430.9 1524.2 L428.8 1527 L426.6 1529.9 L424.4 1532.7 L422.3 1535.5 L420.1 1538.3 L417.9 1541.1 L415.7 1543.8 L413.6 1546.5 L411.4 1549.1 L409.2 1551.6 L407.1 1554.1 L404.9 1556.6 L402.7 1558.9 L400.5 1561.3 L398.4 1563.5 L396.2 1565.7 L394 1567.8 L391.9 1569.8 L389.7 1571.8 L387.5 1573.7 L385.3 1575.5 L383.2 1577.3 L381 1579 L378.8 1580.7 L376.7 1582.3 L374.5 1583.8 L372.3 1585.3 L370.1 1586.7 L368 1588.1 L365.8 1589.4 L363.6 1590.7 L361.5 1591.9 L359.3 1593 L357.1 1594.2 L354.9 1595.2 L352.8 1596.2 L350.6 1597.2 L348.4 1598.1 L346.3 1598.9 L344.1 1599.7 L341.9 1600.5 L339.7 1601.2 L337.6 1601.8 L335.4 1602.5 L333.2 1603 L331.1 1603.6 L328.9 1604 L326.7 1604.5 L324.5 1604.9 L322.4 1605.3 L320.2 1605.6 L318 1605.9 L315.9 1606.2 L313.7 1606.5 L311.5 1606.7 L309.3 1606.9 L307.2 1607.1 L305 1607.2 L302.8 1607.4 L300.7 1607.5 L298.5 1607.6 L296.3 1607.8 L294.1 1607.8 L292 1607.9 L289.8 1608 L287.6 1608.1 L285.5 1608.1 L283.3 1608.2 L281.1 1608.2 L278.9 1608.3 L276.8 1608.3 L274.6 1608.3 L272.4 1608.3 L270.3 1608.4 L268.1 1608.4 L265.9 1608.4 L263.7 1608.4 L261.6 1608.4 L259.4 1608.4 L257.2 1608.4 L255.1 1608.5 L252.9 1608.5 L250.7 1608.5 L248.5 1608.5 L246.4 1608.5 L244.2 1608.5 L242 1608.5 L239.9 1608.5 L237.7 1608.5 L235.5 1608.5 L233.3 1608.5 L231.2 1608.5 L229 1608.5 L226.8 1608.5 L224.7 1608.5 L222.5 1608.5 L220.3 1608.5 L218.1 1608.5 L216 1608.5 L213.8 1608.5 L211.6 1608.5 L209.5 1608.5 L207.3 1608.5 L205.1 1608.5 L202.9 1608.5 L200.8 1608.5 L198.6 1608.5 L196.4 1608.5 L194.3 1608.5 L192.1 1608.5 L189.9 1608.5 L187.7 1608.5 L185.6 1608.5 L183.4 1608.5 L181.2 1608.5 L179.1 1608.5 L176.9 1608.5 L174.7 1608.5 L172.5 1608.5 L170.4 1608.5 L168.2 1608.5 L166 1608.5 L163.9 1608.5 L161.7 1608.5 L159.5 1608.5 L157.3 1608.5 L155.2 1608.5 L153 1608.5 L150.8 1608.5 L148.7 1608.5 L146.5 1608.5 L144.3 1608.5 L142.1 1608.5 L140 1608.5 L137.8 1608.5 L135.6 1608.5 L133.5 1608.5 L131.3 1608.5 L129.1 1608.5 L126.9 1608.5 L124.8 1608.5 L122.6 1608.5 Z" fill="#FF7F50" fill-opacity="0.2"/></g><rect x="99.8" y="1187.2" width="566" height="440.7" fill="none" stroke="#000" stroke-width="5.5"/><text x="97" y="1168.2" font-size="33.4" font-style="italic" textLength="141.8" lengthAdjust="spacingAndGlyphs">E. aurinia</text><line x1="92.7" y1="1608.5" x2="97.1" y2="1608.5" stroke="#333" stroke-width="1.4" /><text x="89.6" y="1617.1" font-size="27" text-anchor="end" fill="#4D4D4D" textLength="48.5" lengthAdjust="spacingAndGlyphs">0.00</text><line x1="92.7" y1="1508" x2="97.1" y2="1508" stroke="#333" stroke-width="1.4" /><text x="89.6" y="1516.6" font-size="27" text-anchor="end" fill="#4D4D4D" textLength="48.5" lengthAdjust="spacingAndGlyphs">0.25</text><line x1="92.7" y1="1407.5" x2="97.1" y2="1407.5" stroke="#333" stroke-width="1.4" /><text x="89.6" y="1416.1" font-size="27" text-anchor="end" fill="#4D4D4D" textLength="48.5" lengthAdjust="spacingAndGlyphs">0.50</text><line x1="92.7" y1="1307.1" x2="97.1" y2="1307.1" stroke="#333" stroke-width="1.4" /><text x="89.6" y="1315.7" font-size="27" text-anchor="end" fill="#4D4D4D" textLength="48.5" lengthAdjust="spacingAndGlyphs">0.75</text><line x1="92.7" y1="1206.6" x2="97.1" y2="1206.6" stroke="#333" stroke-width="1.4" /><text x="89.6" y="1215.2" font-size="27" text-anchor="end" fill="#4D4D4D" textLength="48.5" lengthAdjust="spacingAndGlyphs">1.00</text><line x1="195.7" y1="1629.7" x2="195.7" y2="1635.1" stroke="#333" stroke-width="1.4" /><text x="195.7" y="1656.3" font-size="27" text-anchor="middle" fill="#4D4D4D" textLength="27.6" lengthAdjust="spacingAndGlyphs">15</text><line x1="306.4" y1="1629.7" x2="306.4" y2="1635.1" stroke="#333" stroke-width="1.4" /><text x="306.4" y="1656.3" font-size="27" text-anchor="middle" fill="#4D4D4D" textLength="27.6" lengthAdjust="spacingAndGlyphs">20</text><line x1="417.2" y1="1629.7" x2="417.2" y2="1635.1" stroke="#333" stroke-width="1.4" /><text x="417.2" y="1656.3" font-size="27" text-anchor="middle" fill="#4D4D4D" textLength="27.6" lengthAdjust="spacingAndGlyphs">25</text><line x1="528" y1="1629.7" x2="528" y2="1635.1" stroke="#333" stroke-width="1.4" /><text x="528" y="1656.3" font-size="27" text-anchor="middle" fill="#4D4D4D" textLength="27.6" lengthAdjust="spacingAndGlyphs">30</text><line x1="638.7" y1="1629.7" x2="638.7" y2="1635.1" stroke="#333" stroke-width="1.4" /><text x="638.7" y="1656.3" font-size="27" text-anchor="middle" fill="#4D4D4D" textLength="27.6" lengthAdjust="spacingAndGlyphs">35</text><text x="383.4" y="1688.3" font-size="33.4" text-anchor="middle">Temperature</text><text x="27.1" y="1407.5" font-size="33.4" text-anchor="middle" transform="rotate(-90 27.1 1407.5)">Probability of presence</text><g clip-path="url(#clipB2)"><path d="M803.6 1607.8 L805.8 1607.7 L807.9 1607.6 L810.1 1607.4 L812.3 1607.3 L814.4 1607.2 L816.6 1607 L818.8 1606.9 L820.9 1606.7 L823.1 1606.6 L825.3 1606.4 L827.5 1606.2 L829.6 1606 L831.8 1605.8 L834 1605.6 L836.1 1605.3 L838.3 1605.1 L840.5 1604.8 L842.6 1604.5 L844.8 1604.2 L847 1603.9 L849.1 1603.6 L851.3 1603.2 L853.5 1602.9 L855.6 1602.5 L857.8 1602.1 L860 1601.6 L862.1 1601.2 L864.3 1600.7 L866.5 1600.2 L868.7 1599.7 L870.8 1599.2 L873 1598.6 L875.2 1598 L877.3 1597.4 L879.5 1596.7 L881.7 1596 L883.8 1595.3 L886 1594.5 L888.2 1593.8 L890.3 1592.9 L892.5 1592.1 L894.7 1591.2 L896.8 1590.3 L899 1589.3 L901.2 1588.3 L903.4 1587.2 L905.5 1586.1 L907.7 1585 L909.9 1583.8 L912 1582.6 L914.2 1581.4 L916.4 1580 L918.5 1578.7 L920.7 1577.3 L922.9 1575.8 L925 1574.3 L927.2 1572.8 L929.4 1571.2 L931.5 1569.5 L933.7 1567.8 L935.9 1566.1 L938.1 1564.3 L940.2 1562.5 L942.4 1560.6 L944.6 1558.6 L946.7 1556.6 L948.9 1554.6 L951.1 1552.5 L953.2 1550.3 L955.4 1548.1 L957.6 1545.9 L959.7 1543.6 L961.9 1541.3 L964.1 1538.9 L966.2 1536.5 L968.4 1534 L970.6 1531.5 L972.7 1529 L974.9 1526.4 L977.1 1523.8 L979.3 1521.1 L981.4 1518.4 L983.6 1515.7 L985.8 1512.9 L987.9 1510.1 L990.1 1507.3 L992.3 1504.5 L994.4 1501.7 L996.6 1498.8 L998.8 1495.9 L1000.9 1493 L1003.1 1490.1 L1005.3 1487.1 L1007.4 1484.2 L1009.6 1481.2 L1011.8 1478.3 L1014 1475.3 L1016.1 1472.3 L1018.3 1469.4 L1020.5 1466.4 L1022.6 1463.5 L1024.8 1460.5 L1027 1457.6 L1029.1 1454.7 L1031.3 1451.8 L1033.5 1448.9 L1035.6 1446 L1037.8 1443.1 L1040 1440.3 L1042.1 1437.5 L1044.3 1434.7 L1046.5 1431.9 L1048.7 1429.2 L1050.8 1426.5 L1053 1423.8 L1055.2 1421.1 L1057.3 1418.5 L1059.5 1415.9 L1061.7 1413.4 L1063.8 1410.8 L1066 1408.3 L1068.2 1405.9 L1070.3 1403.5 L1072.5 1401.1 L1074.7 1398.7 L1076.8 1396.4 L1079 1394.2 L1081.2 1391.9 L1083.3 1389.8 L1085.5 1387.6 L1087.7 1385.5 L1089.9 1383.4 L1092 1381.4 L1094.2 1379.4 L1096.4 1377.5 L1098.5 1375.6 L1100.7 1373.7 L1102.9 1371.9 L1105 1370.1 L1107.2 1368.3 L1109.4 1366.6 L1111.5 1365 L1113.7 1363.3 L1115.9 1361.7 L1118 1360.2 L1120.2 1358.7 L1122.4 1357.2 L1124.6 1355.8 L1126.7 1354.4 L1128.9 1353 L1131.1 1351.7 L1133.2 1350.4 L1135.4 1349.2 L1137.6 1348 L1139.7 1346.8 L1141.9 1345.7 L1144.1 1344.6 L1146.2 1343.5 L1148.4 1342.5 L1150.6 1341.5 L1152.7 1340.6 L1154.9 1339.6 L1157.1 1338.7 L1159.3 1337.9 L1161.4 1337.1 L1163.6 1336.3 L1165.8 1335.5 L1167.9 1334.8 L1170.1 1334.1 L1172.3 1333.4 L1174.4 1332.8 L1176.6 1332.2 L1178.8 1331.6 L1180.9 1331.1 L1183.1 1330.6 L1185.3 1330.1 L1187.4 1329.7 L1189.6 1329.3 L1191.8 1328.9 L1193.9 1328.5 L1196.1 1328.2 L1198.3 1327.9 L1200.5 1327.6 L1202.6 1327.4 L1204.8 1327.2 L1207 1327 L1209.1 1326.8 L1211.3 1326.7 L1213.5 1326.6 L1215.6 1326.6 L1217.8 1326.5 L1220 1326.5 L1222.1 1326.5 L1224.3 1326.6 L1226.5 1326.7 L1228.6 1326.8 L1230.8 1326.9 L1233 1327.1 L1235.2 1327.3 L1237.3 1327.5 L1239.5 1327.7 L1241.7 1328 L1243.8 1328.3 L1246 1328.7 L1248.2 1329 L1250.3 1329.4 L1252.5 1329.9 L1254.7 1330.3 L1256.8 1330.8 L1259 1331.3 L1261.2 1331.9 L1263.3 1332.4 L1265.5 1333.1 L1267.7 1333.7 L1269.8 1334.4 L1272 1335.1 L1274.2 1335.8 L1276.4 1336.6 L1278.5 1337.4 L1280.7 1338.2 L1282.9 1339.1 L1285 1340 L1287.2 1340.9 L1289.4 1341.9 L1291.5 1342.9 L1293.7 1344 L1295.9 1345 L1298 1346.2 L1300.2 1347.3 L1302.4 1348.5 L1304.5 1349.7 L1306.7 1351 L1308.9 1352.3 L1311.1 1353.6 L1313.2 1355 L1315.4 1356.4 L1317.6 1357.8 L1319.7 1359.3 L1321.9 1360.8" fill="none" stroke="#7AC5CD" stroke-width="7.4" stroke-linejoin="round"/><path d="M803.6 1606.2 L805.8 1606 L807.9 1605.8 L810.1 1605.6 L812.3 1605.3 L814.4 1605.1 L816.6 1604.8 L818.8 1604.6 L820.9 1604.3 L823.1 1604 L825.3 1603.7 L827.5 1603.3 L829.6 1603 L831.8 1602.6 L834 1602.2 L836.1 1601.8 L838.3 1601.3 L840.5 1600.9 L842.6 1600.4 L844.8 1599.9 L847 1599.3 L849.1 1598.7 L851.3 1598.1 L853.5 1597.5 L855.6 1596.8 L857.8 1596.1 L860 1595.4 L862.1 1594.6 L864.3 1593.7 L866.5 1592.9 L868.7 1592 L870.8 1591 L873 1590 L875.2 1588.9 L877.3 1587.8 L879.5 1586.6 L881.7 1585.4 L883.8 1584.1 L886 1582.8 L888.2 1581.4 L890.3 1579.9 L892.5 1578.3 L894.7 1576.7 L896.8 1575 L899 1573.2 L901.2 1571.4 L903.4 1569.5 L905.5 1567.5 L907.7 1565.4 L909.9 1563.2 L912 1560.9 L914.2 1558.5 L916.4 1556.1 L918.5 1553.5 L920.7 1550.9 L922.9 1548.2 L925 1545.3 L927.2 1542.4 L929.4 1539.3 L931.5 1536.2 L933.7 1532.9 L935.9 1529.6 L938.1 1526.1 L940.2 1522.6 L942.4 1518.9 L944.6 1515.2 L946.7 1511.3 L948.9 1507.4 L951.1 1503.4 L953.2 1499.2 L955.4 1495 L957.6 1490.7 L959.7 1486.3 L961.9 1481.9 L964.1 1477.3 L966.2 1472.7 L968.4 1468 L970.6 1463.3 L972.7 1458.5 L974.9 1453.7 L977.1 1448.8 L979.3 1443.9 L981.4 1438.9 L983.6 1433.9 L985.8 1428.9 L987.9 1423.9 L990.1 1418.9 L992.3 1413.9 L994.4 1408.9 L996.6 1403.9 L998.8 1398.9 L1000.9 1393.9 L1003.1 1389 L1005.3 1384.1 L1007.4 1379.3 L1009.6 1374.5 L1011.8 1369.7 L1014 1365 L1016.1 1360.4 L1018.3 1355.9 L1020.5 1351.4 L1022.6 1347 L1024.8 1342.7 L1027 1338.4 L1029.1 1334.3 L1031.3 1330.2 L1033.5 1326.2 L1035.6 1322.3 L1037.8 1318.5 L1040 1314.8 L1042.1 1311.2 L1044.3 1307.6 L1046.5 1304.2 L1048.7 1300.9 L1050.8 1297.6 L1053 1294.5 L1055.2 1291.4 L1057.3 1288.4 L1059.5 1285.6 L1061.7 1282.8 L1063.8 1280.1 L1066 1277.5 L1068.2 1275 L1070.3 1272.6 L1072.5 1270.2 L1074.7 1267.9 L1076.8 1265.8 L1079 1263.6 L1081.2 1261.6 L1083.3 1259.6 L1085.5 1257.8 L1087.7 1255.9 L1089.9 1254.2 L1092 1252.5 L1094.2 1250.9 L1096.4 1249.3 L1098.5 1247.8 L1100.7 1246.4 L1102.9 1245 L1105 1243.7 L1107.2 1242.4 L1109.4 1241.2 L1111.5 1240 L1113.7 1238.9 L1115.9 1237.8 L1118 1236.7 L1120.2 1235.7 L1122.4 1234.8 L1124.6 1233.9 L1126.7 1233 L1128.9 1232.1 L1131.1 1231.3 L1133.2 1230.5 L1135.4 1229.8 L1137.6 1229.1 L1139.7 1228.4 L1141.9 1227.7 L1144.1 1227.1 L1146.2 1226.5 L1148.4 1225.9 L1150.6 1225.4 L1152.7 1224.8 L1154.9 1224.3 L1157.1 1223.8 L1159.3 1223.4 L1161.4 1222.9 L1163.6 1222.5 L1165.8 1222.1 L1167.9 1221.7 L1170.1 1221.3 L1172.3 1220.9 L1174.4 1220.6 L1176.6 1220.2 L1178.8 1219.9 L1180.9 1219.6 L1183.1 1219.3 L1185.3 1219 L1187.4 1218.8 L1189.6 1218.5 L1191.8 1218.3 L1193.9 1218 L1196.1 1217.8 L1198.3 1217.6 L1200.5 1217.4 L1202.6 1217.2 L1204.8 1217 L1207 1216.8 L1209.1 1216.6 L1211.3 1216.4 L1213.5 1216.3 L1215.6 1216.1 L1217.8 1216 L1220 1215.8 L1222.1 1215.7 L1224.3 1215.6 L1226.5 1215.4 L1228.6 1215.3 L1230.8 1215.2 L1233 1215.1 L1235.2 1215 L1237.3 1214.9 L1239.5 1214.8 L1241.7 1214.7 L1243.8 1214.6 L1246 1214.5 L1248.2 1214.4 L1250.3 1214.3 L1252.5 1214.2 L1254.7 1214.2 L1256.8 1214.1 L1259 1214 L1261.2 1214 L1263.3 1213.9 L1265.5 1213.8 L1267.7 1213.8 L1269.8 1213.7 L1272 1213.7 L1274.2 1213.6 L1276.4 1213.6 L1278.5 1213.5 L1280.7 1213.5 L1282.9 1213.4 L1285 1213.4 L1287.2 1213.3 L1289.4 1213.3 L1291.5 1213.3 L1293.7 1213.2 L1295.9 1213.2 L1298 1213.2 L1300.2 1213.1 L1302.4 1213.1 L1304.5 1213.1 L1306.7 1213 L1308.9 1213 L1311.1 1213 L1313.2 1212.9 L1315.4 1212.9 L1317.6 1212.9 L1319.7 1212.9 L1321.9 1212.8" fill="none" stroke="#838B8B" stroke-width="7.4" stroke-linejoin="round"/><path d="M803.6 1609.3 L805.8 1609.3 L807.9 1609.3 L810.1 1609.3 L812.3 1609.3 L814.4 1609.3 L816.6 1609.3 L818.8 1609.2 L820.9 1609.2 L823.1 1609.2 L825.3 1609.2 L827.5 1609.2 L829.6 1609.2 L831.8 1609.2 L834 1609.1 L836.1 1609.1 L838.3 1609.1 L840.5 1609.1 L842.6 1609 L844.8 1609 L847 1608.9 L849.1 1608.9 L851.3 1608.8 L853.5 1608.7 L855.6 1608.7 L857.8 1608.6 L860 1608.5 L862.1 1608.3 L864.3 1608.2 L866.5 1608.1 L868.7 1607.9 L870.8 1607.7 L873 1607.5 L875.2 1607.3 L877.3 1607 L879.5 1606.7 L881.7 1606.4 L883.8 1606 L886 1605.6 L888.2 1605.2 L890.3 1604.7 L892.5 1604.1 L894.7 1603.5 L896.8 1602.9 L899 1602.1 L901.2 1601.3 L903.4 1600.5 L905.5 1599.5 L907.7 1598.5 L909.9 1597.4 L912 1596.1 L914.2 1594.8 L916.4 1593.4 L918.5 1591.8 L920.7 1590.1 L922.9 1588.3 L925 1586.4 L927.2 1584.4 L929.4 1582.1 L931.5 1579.8 L933.7 1577.3 L935.9 1574.7 L938.1 1571.9 L940.2 1568.9 L942.4 1565.8 L944.6 1562.5 L946.7 1559.1 L948.9 1555.5 L951.1 1551.8 L953.2 1548 L955.4 1544 L957.6 1539.8 L959.7 1535.6 L961.9 1531.2 L964.1 1526.7 L966.2 1522.1 L968.4 1517.4 L970.6 1512.7 L972.7 1507.8 L974.9 1503 L977.1 1498 L979.3 1493.1 L981.4 1488.1 L983.6 1483.1 L985.8 1478.2 L987.9 1473.2 L990.1 1468.3 L992.3 1463.4 L994.4 1458.6 L996.6 1453.8 L998.8 1449.1 L1000.9 1444.4 L1003.1 1439.9 L1005.3 1435.5 L1007.4 1431.1 L1009.6 1426.9 L1011.8 1422.7 L1014 1418.7 L1016.1 1414.9 L1018.3 1411.1 L1020.5 1407.5 L1022.6 1403.9 L1024.8 1400.6 L1027 1397.3 L1029.1 1394.2 L1031.3 1391.2 L1033.5 1388.4 L1035.6 1385.7 L1037.8 1383.1 L1040 1380.7 L1042.1 1378.4 L1044.3 1376.2 L1046.5 1374.2 L1048.7 1372.3 L1050.8 1370.5 L1053 1368.9 L1055.2 1367.3 L1057.3 1365.9 L1059.5 1364.7 L1061.7 1363.5 L1063.8 1362.5 L1066 1361.6 L1068.2 1360.8 L1070.3 1360.2 L1072.5 1359.6 L1074.7 1359.2 L1076.8 1358.9 L1079 1358.7 L1081.2 1358.7 L1083.3 1358.7 L1085.5 1358.9 L1087.7 1359.2 L1089.9 1359.6 L1092 1360.2 L1094.2 1360.8 L1096.4 1361.6 L1098.5 1362.5 L1100.7 1363.5 L1102.9 1364.7 L1105 1365.9 L1107.2 1367.3 L1109.4 1368.9 L1111.5 1370.5 L1113.7 1372.3 L1115.9 1374.2 L1118 1376.2 L1120.2 1378.4 L1122.4 1380.7 L1124.6 1383.1 L1126.7 1385.7 L1128.9 1388.4 L1131.1 1391.2 L1133.2 1394.2 L1135.4 1397.3 L1137.6 1400.6 L1139.7 1403.9 L1141.9 1407.5 L1144.1 1411.1 L1146.2 1414.9 L1148.4 1418.7 L1150.6 1422.7 L1152.7 1426.9 L1154.9 1431.1 L1157.1 1435.5 L1159.3 1439.9 L1161.4 1444.4 L1163.6 1449.1 L1165.8 1453.8 L1167.9 1458.6 L1170.1 1463.4 L1172.3 1468.3 L1174.4 1473.2 L1176.6 1478.2 L1178.8 1483.1 L1180.9 1488.1 L1183.1 1493.1 L1185.3 1498 L1187.4 1503 L1189.6 1507.8 L1191.8 1512.7 L1193.9 1517.4 L1196.1 1522.1 L1198.3 1526.7 L1200.5 1531.2 L1202.6 1535.6 L1204.8 1539.8 L1207 1544 L1209.1 1548 L1211.3 1551.8 L1213.5 1555.5 L1215.6 1559.1 L1217.8 1562.5 L1220 1565.8 L1222.1 1568.9 L1224.3 1571.9 L1226.5 1574.7 L1228.6 1577.3 L1230.8 1579.8 L1233 1582.1 L1235.2 1584.4 L1237.3 1586.4 L1239.5 1588.3 L1241.7 1590.1 L1243.8 1591.8 L1246 1593.4 L1248.2 1594.8 L1250.3 1596.1 L1252.5 1597.4 L1254.7 1598.5 L1256.8 1599.5 L1259 1600.5 L1261.2 1601.3 L1263.3 1602.1 L1265.5 1602.9 L1267.7 1603.5 L1269.8 1604.1 L1272 1604.7 L1274.2 1605.2 L1276.4 1605.6 L1278.5 1606 L1280.7 1606.4 L1282.9 1606.7 L1285 1607 L1287.2 1607.3 L1289.4 1607.5 L1291.5 1607.7 L1293.7 1607.9 L1295.9 1608.1 L1298 1608.2 L1300.2 1608.3 L1302.4 1608.5 L1304.5 1608.6 L1306.7 1608.7 L1308.9 1608.7 L1311.1 1608.8 L1313.2 1608.9 L1315.4 1608.9 L1317.6 1609 L1319.7 1609 L1321.9 1609.1" fill="none" stroke="#FF7F50" stroke-width="7.4" stroke-linejoin="round"/><path d="M803.6 1589.6 L805.8 1589.2 L807.9 1588.7 L810.1 1588.3 L812.3 1587.8 L814.4 1587.3 L816.6 1586.8 L818.8 1586.3 L820.9 1585.8 L823.1 1585.3 L825.3 1584.7 L827.5 1584.2 L829.6 1583.6 L831.8 1583.1 L834 1582.5 L836.1 1581.9 L838.3 1581.3 L840.5 1580.7 L842.6 1580 L844.8 1579.4 L847 1578.7 L849.1 1578.1 L851.3 1577.4 L853.5 1576.7 L855.6 1576 L857.8 1575.2 L860 1574.5 L862.1 1573.7 L864.3 1573 L866.5 1572.2 L868.7 1571.4 L870.8 1570.6 L873 1569.7 L875.2 1568.9 L877.3 1568 L879.5 1567.1 L881.7 1566.2 L883.8 1565.2 L886 1564.3 L888.2 1563.3 L890.3 1562.3 L892.5 1561.3 L894.7 1560.3 L896.8 1559.3 L899 1558.2 L901.2 1557.1 L903.4 1556 L905.5 1554.8 L907.7 1553.7 L909.9 1552.5 L912 1551.3 L914.2 1550 L916.4 1548.7 L918.5 1547.5 L920.7 1546.1 L922.9 1544.8 L925 1543.4 L927.2 1542 L929.4 1540.5 L931.5 1539 L933.7 1537.5 L935.9 1536 L938.1 1534.4 L940.2 1532.7 L942.4 1531.1 L944.6 1529.4 L946.7 1527.6 L948.9 1525.8 L951.1 1523.9 L953.2 1522 L955.4 1520.1 L957.6 1518 L959.7 1516 L961.9 1513.8 L964.1 1511.6 L966.2 1509.4 L968.4 1507 L970.6 1504.6 L972.7 1502.1 L974.9 1499.6 L977.1 1497 L979.3 1494.3 L981.4 1491.5 L983.6 1488.6 L985.8 1485.7 L987.9 1482.7 L990.1 1479.6 L992.3 1476.5 L994.4 1473.3 L996.6 1470 L998.8 1466.7 L1000.9 1463.3 L1003.1 1459.9 L1005.3 1456.4 L1007.4 1452.9 L1009.6 1449.4 L1011.8 1445.8 L1014 1442.3 L1016.1 1438.7 L1018.3 1435.1 L1020.5 1431.5 L1022.6 1428 L1024.8 1424.4 L1027 1420.9 L1029.1 1417.3 L1031.3 1413.9 L1033.5 1410.4 L1035.6 1407 L1037.8 1403.6 L1040 1400.3 L1042.1 1397 L1044.3 1393.8 L1046.5 1390.6 L1048.7 1387.5 L1050.8 1384.4 L1053 1381.4 L1055.2 1378.4 L1057.3 1375.5 L1059.5 1372.7 L1061.7 1369.9 L1063.8 1367.3 L1066 1364.6 L1068.2 1362 L1070.3 1359.5 L1072.5 1357.1 L1074.7 1354.7 L1076.8 1352.4 L1079 1350.2 L1081.2 1348 L1083.3 1345.9 L1085.5 1343.8 L1087.7 1341.8 L1089.9 1339.8 L1092 1337.9 L1094.2 1336.1 L1096.4 1334.3 L1098.5 1332.6 L1100.7 1331 L1102.9 1329.3 L1105 1327.8 L1107.2 1326.3 L1109.4 1324.8 L1111.5 1323.4 L1113.7 1322 L1115.9 1320.6 L1118 1319.3 L1120.2 1318.1 L1122.4 1316.9 L1124.6 1315.7 L1126.7 1314.5 L1128.9 1313.4 L1131.1 1312.3 L1133.2 1311.3 L1135.4 1310.2 L1137.6 1309.2 L1139.7 1308.3 L1141.9 1307.3 L1144.1 1306.4 L1146.2 1305.4 L1148.4 1304.5 L1150.6 1303.6 L1152.7 1302.8 L1154.9 1301.9 L1157.1 1301 L1159.3 1300.2 L1161.4 1299.3 L1163.6 1298.5 L1165.8 1297.7 L1167.9 1296.8 L1170.1 1296 L1172.3 1295.2 L1174.4 1294.3 L1176.6 1293.5 L1178.8 1292.6 L1180.9 1291.8 L1183.1 1291 L1185.3 1290.1 L1187.4 1289.3 L1189.6 1288.4 L1191.8 1287.5 L1193.9 1286.7 L1196.1 1285.8 L1198.3 1284.9 L1200.5 1284 L1202.6 1283.1 L1204.8 1282.2 L1207 1281.3 L1209.1 1280.4 L1211.3 1279.5 L1213.5 1278.6 L1215.6 1277.7 L1217.8 1276.8 L1220 1275.9 L1222.1 1275 L1224.3 1274.1 L1226.5 1273.2 L1228.6 1272.3 L1230.8 1271.4 L1233 1270.5 L1235.2 1269.6 L1237.3 1268.8 L1239.5 1267.9 L1241.7 1267 L1243.8 1266.1 L1246 1265.3 L1248.2 1264.4 L1250.3 1263.6 L1252.5 1262.7 L1254.7 1261.9 L1256.8 1261 L1259 1260.2 L1261.2 1259.4 L1263.3 1258.6 L1265.5 1257.8 L1267.7 1257 L1269.8 1256.2 L1272 1255.5 L1274.2 1254.7 L1276.4 1254 L1278.5 1253.2 L1280.7 1252.5 L1282.9 1251.8 L1285 1251 L1287.2 1250.3 L1289.4 1249.6 L1291.5 1248.9 L1293.7 1248.3 L1295.9 1247.6 L1298 1246.9 L1300.2 1246.3 L1302.4 1245.7 L1304.5 1245 L1306.7 1244.4 L1308.9 1243.8 L1311.1 1243.2 L1313.2 1242.6 L1315.4 1242 L1317.6 1241.5 L1319.7 1240.9 L1321.9 1240.3 L1321.9 1539.5 L1319.7 1536.4 L1317.6 1533.2 L1315.4 1529.9 L1313.2 1526.6 L1311.1 1523.2 L1308.9 1519.7 L1306.7 1516.3 L1304.5 1512.8 L1302.4 1509.2 L1300.2 1505.6 L1298 1502.1 L1295.9 1498.4 L1293.7 1494.8 L1291.5 1491.2 L1289.4 1487.5 L1287.2 1483.9 L1285 1480.3 L1282.9 1476.7 L1280.7 1473.1 L1278.5 1469.5 L1276.4 1466 L1274.2 1462.5 L1272 1459 L1269.8 1455.6 L1267.7 1452.2 L1265.5 1448.9 L1263.3 1445.6 L1261.2 1442.4 L1259 1439.2 L1256.8 1436.1 L1254.7 1433.1 L1252.5 1430.1 L1250.3 1427.2 L1248.2 1424.4 L1246 1421.7 L1243.8 1419 L1241.7 1416.4 L1239.5 1413.9 L1237.3 1411.5 L1235.2 1409.2 L1233 1406.9 L1230.8 1404.7 L1228.6 1402.7 L1226.5 1400.7 L1224.3 1398.8 L1222.1 1396.9 L1220 1395.2 L1217.8 1393.6 L1215.6 1392 L1213.5 1390.6 L1211.3 1389.2 L1209.1 1387.9 L1207 1386.7 L1204.8 1385.7 L1202.6 1384.7 L1200.5 1383.7 L1198.3 1382.9 L1196.1 1382.2 L1193.9 1381.6 L1191.8 1381 L1189.6 1380.5 L1187.4 1380.2 L1185.3 1379.9 L1183.1 1379.7 L1180.9 1379.6 L1178.8 1379.5 L1176.6 1379.6 L1174.4 1379.7 L1172.3 1379.9 L1170.1 1380.2 L1167.9 1380.6 L1165.8 1381.1 L1163.6 1381.6 L1161.4 1382.2 L1159.3 1382.8 L1157.1 1383.6 L1154.9 1384.4 L1152.7 1385.2 L1150.6 1386.2 L1148.4 1387.1 L1146.2 1388.2 L1144.1 1389.3 L1141.9 1390.4 L1139.7 1391.7 L1137.6 1392.9 L1135.4 1394.2 L1133.2 1395.6 L1131.1 1397 L1128.9 1398.4 L1126.7 1399.9 L1124.6 1401.4 L1122.4 1403 L1120.2 1404.6 L1118 1406.2 L1115.9 1407.9 L1113.7 1409.6 L1111.5 1411.3 L1109.4 1413 L1107.2 1414.8 L1105 1416.6 L1102.9 1418.5 L1100.7 1420.3 L1098.5 1422.2 L1096.4 1424.1 L1094.2 1426 L1092 1427.9 L1089.9 1429.9 L1087.7 1431.9 L1085.5 1433.8 L1083.3 1435.8 L1081.2 1437.9 L1079 1439.9 L1076.8 1441.9 L1074.7 1444 L1072.5 1446 L1070.3 1448.1 L1068.2 1450.2 L1066 1452.3 L1063.8 1454.4 L1061.7 1456.5 L1059.5 1458.6 L1057.3 1460.8 L1055.2 1462.9 L1053 1465 L1050.8 1467.2 L1048.7 1469.3 L1046.5 1471.5 L1044.3 1473.7 L1042.1 1475.8 L1040 1478 L1037.8 1480.2 L1035.6 1482.4 L1033.5 1484.6 L1031.3 1486.8 L1029.1 1489 L1027 1491.2 L1024.8 1493.5 L1022.6 1495.7 L1020.5 1498 L1018.3 1500.2 L1016.1 1502.5 L1014 1504.8 L1011.8 1507.1 L1009.6 1509.4 L1007.4 1511.7 L1005.3 1514.1 L1003.1 1516.4 L1000.9 1518.8 L998.8 1521.2 L996.6 1523.6 L994.4 1526 L992.3 1528.4 L990.1 1530.9 L987.9 1533.3 L985.8 1535.8 L983.6 1538.2 L981.4 1540.7 L979.3 1543.1 L977.1 1545.6 L974.9 1548 L972.7 1550.4 L970.6 1552.8 L968.4 1555.2 L966.2 1557.5 L964.1 1559.8 L961.9 1562.1 L959.7 1564.3 L957.6 1566.4 L955.4 1568.5 L953.2 1570.6 L951.1 1572.6 L948.9 1574.5 L946.7 1576.4 L944.6 1578.2 L942.4 1580 L940.2 1581.6 L938.1 1583.2 L935.9 1584.8 L933.7 1586.3 L931.5 1587.7 L929.4 1589 L927.2 1590.3 L925 1591.5 L922.9 1592.7 L920.7 1593.8 L918.5 1594.8 L916.4 1595.8 L914.2 1596.7 L912 1597.6 L909.9 1598.4 L907.7 1599.2 L905.5 1599.9 L903.4 1600.6 L901.2 1601.3 L899 1601.9 L896.8 1602.4 L894.7 1603 L892.5 1603.4 L890.3 1603.9 L888.2 1604.3 L886 1604.7 L883.8 1605.1 L881.7 1605.4 L879.5 1605.7 L877.3 1606 L875.2 1606.3 L873 1606.6 L870.8 1606.8 L868.7 1607 L866.5 1607.2 L864.3 1607.4 L862.1 1607.6 L860 1607.7 L857.8 1607.8 L855.6 1608 L853.5 1608.1 L851.3 1608.2 L849.1 1608.3 L847 1608.4 L844.8 1608.5 L842.6 1608.6 L840.5 1608.6 L838.3 1608.7 L836.1 1608.8 L834 1608.8 L831.8 1608.9 L829.6 1608.9 L827.5 1608.9 L825.3 1609 L823.1 1609 L820.9 1609 L818.8 1609.1 L816.6 1609.1 L814.4 1609.1 L812.3 1609.1 L810.1 1609.1 L807.9 1609.2 L805.8 1609.2 L803.6 1609.2 Z" fill="#7AC5CD" fill-opacity="0.2"/><path d="M803.6 1586.9 L805.8 1586.5 L807.9 1586.1 L810.1 1585.6 L812.3 1585.1 L814.4 1584.6 L816.6 1584.1 L818.8 1583.6 L820.9 1583 L823.1 1582.5 L825.3 1581.9 L827.5 1581.3 L829.6 1580.7 L831.8 1580 L834 1579.3 L836.1 1578.6 L838.3 1577.9 L840.5 1577.2 L842.6 1576.4 L844.8 1575.6 L847 1574.8 L849.1 1573.9 L851.3 1573 L853.5 1572.1 L855.6 1571.2 L857.8 1570.2 L860 1569.2 L862.1 1568.1 L864.3 1567 L866.5 1565.9 L868.7 1564.7 L870.8 1563.5 L873 1562.2 L875.2 1560.9 L877.3 1559.5 L879.5 1558.1 L881.7 1556.7 L883.8 1555.2 L886 1553.6 L888.2 1552 L890.3 1550.3 L892.5 1548.5 L894.7 1546.7 L896.8 1544.8 L899 1542.9 L901.2 1540.9 L903.4 1538.8 L905.5 1536.6 L907.7 1534.4 L909.9 1532 L912 1529.6 L914.2 1527.1 L916.4 1524.5 L918.5 1521.9 L920.7 1519.1 L922.9 1516.2 L925 1513.2 L927.2 1510.2 L929.4 1507 L931.5 1503.7 L933.7 1500.4 L935.9 1496.9 L938.1 1493.3 L940.2 1489.6 L942.4 1485.8 L944.6 1481.9 L946.7 1477.8 L948.9 1473.7 L951.1 1469.5 L953.2 1465.2 L955.4 1460.8 L957.6 1456.3 L959.7 1451.7 L961.9 1447.1 L964.1 1442.4 L966.2 1437.6 L968.4 1432.7 L970.6 1427.8 L972.7 1422.9 L974.9 1417.9 L977.1 1412.9 L979.3 1407.9 L981.4 1402.9 L983.6 1397.9 L985.8 1392.9 L987.9 1387.9 L990.1 1383 L992.3 1378 L994.4 1373.2 L996.6 1368.3 L998.8 1363.6 L1000.9 1358.9 L1003.1 1354.2 L1005.3 1349.7 L1007.4 1345.2 L1009.6 1340.8 L1011.8 1336.5 L1014 1332.2 L1016.1 1328.1 L1018.3 1324.1 L1020.5 1320.1 L1022.6 1316.3 L1024.8 1312.5 L1027 1308.9 L1029.1 1305.3 L1031.3 1301.9 L1033.5 1298.5 L1035.6 1295.3 L1037.8 1292.1 L1040 1289 L1042.1 1286.1 L1044.3 1283.2 L1046.5 1280.4 L1048.7 1277.7 L1050.8 1275.1 L1053 1272.5 L1055.2 1270.1 L1057.3 1267.7 L1059.5 1265.4 L1061.7 1263.2 L1063.8 1261.1 L1066 1259 L1068.2 1257 L1070.3 1255.1 L1072.5 1253.2 L1074.7 1251.4 L1076.8 1249.6 L1079 1248 L1081.2 1246.3 L1083.3 1244.8 L1085.5 1243.3 L1087.7 1241.8 L1089.9 1240.4 L1092 1239.1 L1094.2 1237.8 L1096.4 1236.5 L1098.5 1235.3 L1100.7 1234.1 L1102.9 1233 L1105 1232 L1107.2 1230.9 L1109.4 1230 L1111.5 1229 L1113.7 1228.1 L1115.9 1227.3 L1118 1226.5 L1120.2 1225.7 L1122.4 1224.9 L1124.6 1224.2 L1126.7 1223.5 L1128.9 1222.9 L1131.1 1222.3 L1133.2 1221.7 L1135.4 1221.1 L1137.6 1220.6 L1139.7 1220.1 L1141.9 1219.6 L1144.1 1219.2 L1146.2 1218.8 L1148.4 1218.4 L1150.6 1218 L1152.7 1217.6 L1154.9 1217.3 L1157.1 1217 L1159.3 1216.7 L1161.4 1216.4 L1163.6 1216.1 L1165.8 1215.9 L1167.9 1215.6 L1170.1 1215.4 L1172.3 1215.2 L1174.4 1215 L1176.6 1214.8 L1178.8 1214.6 L1180.9 1214.5 L1183.1 1214.3 L1185.3 1214.2 L1187.4 1214 L1189.6 1213.9 L1191.8 1213.8 L1193.9 1213.7 L1196.1 1213.6 L1198.3 1213.5 L1200.5 1213.4 L1202.6 1213.3 L1204.8 1213.2 L1207 1213.2 L1209.1 1213.1 L1211.3 1213 L1213.5 1213 L1215.6 1212.9 L1217.8 1212.9 L1220 1212.8 L1222.1 1212.8 L1224.3 1212.7 L1226.5 1212.7 L1228.6 1212.6 L1230.8 1212.6 L1233 1212.6 L1235.2 1212.6 L1237.3 1212.5 L1239.5 1212.5 L1241.7 1212.5 L1243.8 1212.5 L1246 1212.4 L1248.2 1212.4 L1250.3 1212.4 L1252.5 1212.4 L1254.7 1212.4 L1256.8 1212.4 L1259 1212.3 L1261.2 1212.3 L1263.3 1212.3 L1265.5 1212.3 L1267.7 1212.3 L1269.8 1212.3 L1272 1212.3 L1274.2 1212.3 L1276.4 1212.3 L1278.5 1212.3 L1280.7 1212.3 L1282.9 1212.3 L1285 1212.3 L1287.2 1212.2 L1289.4 1212.2 L1291.5 1212.2 L1293.7 1212.2 L1295.9 1212.2 L1298 1212.2 L1300.2 1212.2 L1302.4 1212.2 L1304.5 1212.2 L1306.7 1212.2 L1308.9 1212.2 L1311.1 1212.2 L1313.2 1212.2 L1315.4 1212.2 L1317.6 1212.2 L1319.7 1212.2 L1321.9 1212.2 L1321.9 1244.5 L1319.7 1243.9 L1317.6 1243.2 L1315.4 1242.6 L1313.2 1242.1 L1311.1 1241.5 L1308.9 1241 L1306.7 1240.5 L1304.5 1240 L1302.4 1239.6 L1300.2 1239.1 L1298 1238.7 L1295.9 1238.3 L1293.7 1237.9 L1291.5 1237.5 L1289.4 1237.2 L1287.2 1236.9 L1285 1236.6 L1282.9 1236.3 L1280.7 1236 L1278.5 1235.7 L1276.4 1235.4 L1274.2 1235.2 L1272 1235 L1269.8 1234.8 L1267.7 1234.5 L1265.5 1234.4 L1263.3 1234.2 L1261.2 1234 L1259 1233.9 L1256.8 1233.7 L1254.7 1233.6 L1252.5 1233.5 L1250.3 1233.4 L1248.2 1233.3 L1246 1233.2 L1243.8 1233.1 L1241.7 1233.1 L1239.5 1233 L1237.3 1233 L1235.2 1232.9 L1233 1232.9 L1230.8 1232.9 L1228.6 1232.9 L1226.5 1232.9 L1224.3 1232.9 L1222.1 1233 L1220 1233 L1217.8 1233.1 L1215.6 1233.1 L1213.5 1233.2 L1211.3 1233.3 L1209.1 1233.4 L1207 1233.5 L1204.8 1233.6 L1202.6 1233.7 L1200.5 1233.9 L1198.3 1234 L1196.1 1234.2 L1193.9 1234.4 L1191.8 1234.6 L1189.6 1234.8 L1187.4 1235 L1185.3 1235.3 L1183.1 1235.5 L1180.9 1235.8 L1178.8 1236.1 L1176.6 1236.4 L1174.4 1236.7 L1172.3 1237 L1170.1 1237.3 L1167.9 1237.7 L1165.8 1238.1 L1163.6 1238.5 L1161.4 1238.9 L1159.3 1239.4 L1157.1 1239.9 L1154.9 1240.4 L1152.7 1240.9 L1150.6 1241.4 L1148.4 1242 L1146.2 1242.6 L1144.1 1243.2 L1141.9 1243.9 L1139.7 1244.6 L1137.6 1245.3 L1135.4 1246.1 L1133.2 1246.9 L1131.1 1247.7 L1128.9 1248.6 L1126.7 1249.5 L1124.6 1250.4 L1122.4 1251.4 L1120.2 1252.5 L1118 1253.6 L1115.9 1254.8 L1113.7 1256 L1111.5 1257.2 L1109.4 1258.6 L1107.2 1259.9 L1105 1261.4 L1102.9 1262.9 L1100.7 1264.5 L1098.5 1266.2 L1096.4 1267.9 L1094.2 1269.7 L1092 1271.6 L1089.9 1273.6 L1087.7 1275.6 L1085.5 1277.8 L1083.3 1280 L1081.2 1282.4 L1079 1284.8 L1076.8 1287.3 L1074.7 1290 L1072.5 1292.7 L1070.3 1295.5 L1068.2 1298.4 L1066 1301.5 L1063.8 1304.6 L1061.7 1307.8 L1059.5 1311.2 L1057.3 1314.6 L1055.2 1318.1 L1053 1321.8 L1050.8 1325.5 L1048.7 1329.3 L1046.5 1333.3 L1044.3 1337.3 L1042.1 1341.4 L1040 1345.6 L1037.8 1349.8 L1035.6 1354.2 L1033.5 1358.6 L1031.3 1363 L1029.1 1367.6 L1027 1372.2 L1024.8 1376.8 L1022.6 1381.5 L1020.5 1386.3 L1018.3 1391.1 L1016.1 1395.9 L1014 1400.7 L1011.8 1405.6 L1009.6 1410.5 L1007.4 1415.4 L1005.3 1420.3 L1003.1 1425.2 L1000.9 1430.1 L998.8 1434.9 L996.6 1439.8 L994.4 1444.7 L992.3 1449.5 L990.1 1454.3 L987.9 1459 L985.8 1463.8 L983.6 1468.4 L981.4 1473.1 L979.3 1477.7 L977.1 1482.2 L974.9 1486.7 L972.7 1491.1 L970.6 1495.5 L968.4 1499.8 L966.2 1504 L964.1 1508.2 L961.9 1512.3 L959.7 1516.3 L957.6 1520.2 L955.4 1524.1 L953.2 1527.8 L951.1 1531.5 L948.9 1535.1 L946.7 1538.6 L944.6 1542 L942.4 1545.3 L940.2 1548.5 L938.1 1551.6 L935.9 1554.6 L933.7 1557.5 L931.5 1560.3 L929.4 1563 L927.2 1565.6 L925 1568.1 L922.9 1570.5 L920.7 1572.8 L918.5 1575 L916.4 1577.1 L914.2 1579.1 L912 1581 L909.9 1582.8 L907.7 1584.5 L905.5 1586.1 L903.4 1587.7 L901.2 1589.1 L899 1590.5 L896.8 1591.8 L894.7 1593 L892.5 1594.2 L890.3 1595.2 L888.2 1596.3 L886 1597.2 L883.8 1598.1 L881.7 1598.9 L879.5 1599.7 L877.3 1600.4 L875.2 1601.1 L873 1601.7 L870.8 1602.3 L868.7 1602.9 L866.5 1603.4 L864.3 1603.8 L862.1 1604.3 L860 1604.7 L857.8 1605.1 L855.6 1605.4 L853.5 1605.7 L851.3 1606 L849.1 1606.3 L847 1606.5 L844.8 1606.8 L842.6 1607 L840.5 1607.2 L838.3 1607.4 L836.1 1607.5 L834 1607.7 L831.8 1607.8 L829.6 1608 L827.5 1608.1 L825.3 1608.2 L823.1 1608.3 L820.9 1608.4 L818.8 1608.5 L816.6 1608.5 L814.4 1608.6 L812.3 1608.7 L810.1 1608.7 L807.9 1608.8 L805.8 1608.8 L803.6 1608.9 Z" fill="#838B8B" fill-opacity="0.2"/><path d="M803.6 1609 L805.8 1609 L807.9 1608.9 L810.1 1608.9 L812.3 1608.9 L814.4 1608.8 L816.6 1608.8 L818.8 1608.7 L820.9 1608.6 L823.1 1608.6 L825.3 1608.5 L827.5 1608.4 L829.6 1608.3 L831.8 1608.2 L834 1608.1 L836.1 1607.9 L838.3 1607.8 L840.5 1607.6 L842.6 1607.5 L844.8 1607.3 L847 1607.1 L849.1 1606.8 L851.3 1606.6 L853.5 1606.3 L855.6 1606.1 L857.8 1605.7 L860 1605.4 L862.1 1605 L864.3 1604.7 L866.5 1604.2 L868.7 1603.8 L870.8 1603.3 L873 1602.7 L875.2 1602.2 L877.3 1601.5 L879.5 1600.9 L881.7 1600.1 L883.8 1599.4 L886 1598.5 L888.2 1597.7 L890.3 1596.7 L892.5 1595.7 L894.7 1594.6 L896.8 1593.5 L899 1592.2 L901.2 1590.9 L903.4 1589.5 L905.5 1588.1 L907.7 1586.5 L909.9 1584.9 L912 1583.1 L914.2 1581.3 L916.4 1579.3 L918.5 1577.3 L920.7 1575.1 L922.9 1572.8 L925 1570.4 L927.2 1567.9 L929.4 1565.3 L931.5 1562.5 L933.7 1559.6 L935.9 1556.6 L938.1 1553.5 L940.2 1550.2 L942.4 1546.8 L944.6 1543.2 L946.7 1539.5 L948.9 1535.6 L951.1 1531.6 L953.2 1527.5 L955.4 1523.2 L957.6 1518.8 L959.7 1514.2 L961.9 1509.4 L964.1 1504.5 L966.2 1499.5 L968.4 1494.4 L970.6 1489.1 L972.7 1483.8 L974.9 1478.3 L977.1 1472.8 L979.3 1467.2 L981.4 1461.6 L983.6 1456 L985.8 1450.3 L987.9 1444.7 L990.1 1439 L992.3 1433.5 L994.4 1428 L996.6 1422.6 L998.8 1417.2 L1000.9 1412 L1003.1 1406.9 L1005.3 1402 L1007.4 1397.2 L1009.6 1392.5 L1011.8 1388 L1014 1383.6 L1016.1 1379.5 L1018.3 1375.4 L1020.5 1371.6 L1022.6 1367.9 L1024.8 1364.4 L1027 1361 L1029.1 1357.9 L1031.3 1354.9 L1033.5 1352 L1035.6 1349.3 L1037.8 1346.8 L1040 1344.5 L1042.1 1342.3 L1044.3 1340.2 L1046.5 1338.3 L1048.7 1336.5 L1050.8 1334.9 L1053 1333.4 L1055.2 1332.1 L1057.3 1330.8 L1059.5 1329.7 L1061.7 1328.8 L1063.8 1327.9 L1066 1327.2 L1068.2 1326.6 L1070.3 1326.1 L1072.5 1325.7 L1074.7 1325.4 L1076.8 1325.2 L1079 1325.2 L1081.2 1325.2 L1083.3 1325.3 L1085.5 1325.6 L1087.7 1325.9 L1089.9 1326.3 L1092 1326.8 L1094.2 1327.3 L1096.4 1328 L1098.5 1328.7 L1100.7 1329.5 L1102.9 1330.4 L1105 1331.3 L1107.2 1332.3 L1109.4 1333.4 L1111.5 1334.5 L1113.7 1335.7 L1115.9 1336.9 L1118 1338.2 L1120.2 1339.6 L1122.4 1341 L1124.6 1342.4 L1126.7 1343.9 L1128.9 1345.5 L1131.1 1347 L1133.2 1348.7 L1135.4 1350.4 L1137.6 1352.1 L1139.7 1353.9 L1141.9 1355.7 L1144.1 1357.6 L1146.2 1359.6 L1148.4 1361.6 L1150.6 1363.6 L1152.7 1365.7 L1154.9 1367.9 L1157.1 1370.2 L1159.3 1372.5 L1161.4 1374.8 L1163.6 1377.3 L1165.8 1379.8 L1167.9 1382.3 L1170.1 1385 L1172.3 1387.7 L1174.4 1390.4 L1176.6 1393.3 L1178.8 1396.2 L1180.9 1399.2 L1183.1 1402.2 L1185.3 1405.4 L1187.4 1408.6 L1189.6 1411.8 L1191.8 1415.2 L1193.9 1418.6 L1196.1 1422 L1198.3 1425.6 L1200.5 1429.2 L1202.6 1432.8 L1204.8 1436.5 L1207 1440.3 L1209.1 1444.1 L1211.3 1447.9 L1213.5 1451.8 L1215.6 1455.7 L1217.8 1459.7 L1220 1463.7 L1222.1 1467.7 L1224.3 1471.7 L1226.5 1475.7 L1228.6 1479.8 L1230.8 1483.8 L1233 1487.9 L1235.2 1491.9 L1237.3 1495.9 L1239.5 1499.9 L1241.7 1503.8 L1243.8 1507.8 L1246 1511.6 L1248.2 1515.5 L1250.3 1519.3 L1252.5 1523 L1254.7 1526.6 L1256.8 1530.2 L1259 1533.8 L1261.2 1537.2 L1263.3 1540.6 L1265.5 1543.9 L1267.7 1547.1 L1269.8 1550.2 L1272 1553.2 L1274.2 1556.1 L1276.4 1559 L1278.5 1561.7 L1280.7 1564.3 L1282.9 1566.9 L1285 1569.3 L1287.2 1571.6 L1289.4 1573.9 L1291.5 1576 L1293.7 1578.1 L1295.9 1580 L1298 1581.9 L1300.2 1583.6 L1302.4 1585.3 L1304.5 1586.9 L1306.7 1588.4 L1308.9 1589.9 L1311.1 1591.2 L1313.2 1592.5 L1315.4 1593.7 L1317.6 1594.8 L1319.7 1595.9 L1321.9 1596.8 L1321.9 1609.3 L1319.7 1609.3 L1317.6 1609.3 L1315.4 1609.3 L1313.2 1609.3 L1311.1 1609.3 L1308.9 1609.3 L1306.7 1609.3 L1304.5 1609.3 L1302.4 1609.3 L1300.2 1609.3 L1298 1609.3 L1295.9 1609.3 L1293.7 1609.2 L1291.5 1609.2 L1289.4 1609.2 L1287.2 1609.2 L1285 1609.2 L1282.9 1609.2 L1280.7 1609.1 L1278.5 1609.1 L1276.4 1609.1 L1274.2 1609 L1272 1609 L1269.8 1608.9 L1267.7 1608.8 L1265.5 1608.8 L1263.3 1608.7 L1261.2 1608.6 L1259 1608.4 L1256.8 1608.3 L1254.7 1608.1 L1252.5 1607.9 L1250.3 1607.7 L1248.2 1607.5 L1246 1607.2 L1243.8 1606.9 L1241.7 1606.5 L1239.5 1606.1 L1237.3 1605.6 L1235.2 1605.1 L1233 1604.5 L1230.8 1603.8 L1228.6 1603.1 L1226.5 1602.3 L1224.3 1601.3 L1222.1 1600.3 L1220 1599.2 L1217.8 1597.9 L1215.6 1596.5 L1213.5 1595 L1211.3 1593.4 L1209.1 1591.5 L1207 1589.6 L1204.8 1587.4 L1202.6 1585.1 L1200.5 1582.5 L1198.3 1579.8 L1196.1 1576.9 L1193.9 1573.8 L1191.8 1570.5 L1189.6 1567.1 L1187.4 1563.4 L1185.3 1559.5 L1183.1 1555.4 L1180.9 1551.1 L1178.8 1546.7 L1176.6 1542.1 L1174.4 1537.3 L1172.3 1532.4 L1170.1 1527.4 L1167.9 1522.3 L1165.8 1517.1 L1163.6 1511.8 L1161.4 1506.5 L1159.3 1501.1 L1157.1 1495.7 L1154.9 1490.4 L1152.7 1485.1 L1150.6 1479.8 L1148.4 1474.6 L1146.2 1469.5 L1144.1 1464.5 L1141.9 1459.6 L1139.7 1454.9 L1137.6 1450.3 L1135.4 1445.8 L1133.2 1441.6 L1131.1 1437.5 L1128.9 1433.6 L1126.7 1429.9 L1124.6 1426.4 L1122.4 1423 L1120.2 1419.9 L1118 1417 L1115.9 1414.3 L1113.7 1411.8 L1111.5 1409.5 L1109.4 1407.4 L1107.2 1405.4 L1105 1403.7 L1102.9 1402.1 L1100.7 1400.8 L1098.5 1399.6 L1096.4 1398.5 L1094.2 1397.7 L1092 1397 L1089.9 1396.4 L1087.7 1396 L1085.5 1395.7 L1083.3 1395.6 L1081.2 1395.7 L1079 1395.8 L1076.8 1396.1 L1074.7 1396.5 L1072.5 1397.1 L1070.3 1397.8 L1068.2 1398.6 L1066 1399.5 L1063.8 1400.5 L1061.7 1401.6 L1059.5 1402.9 L1057.3 1404.3 L1055.2 1405.7 L1053 1407.3 L1050.8 1409 L1048.7 1410.8 L1046.5 1412.8 L1044.3 1414.8 L1042.1 1416.9 L1040 1419.1 L1037.8 1421.4 L1035.6 1423.9 L1033.5 1426.4 L1031.3 1429 L1029.1 1431.7 L1027 1434.5 L1024.8 1437.4 L1022.6 1440.5 L1020.5 1443.5 L1018.3 1446.7 L1016.1 1450 L1014 1453.3 L1011.8 1456.8 L1009.6 1460.3 L1007.4 1463.9 L1005.3 1467.6 L1003.1 1471.3 L1000.9 1475.1 L998.8 1479 L996.6 1482.9 L994.4 1486.9 L992.3 1490.9 L990.1 1495 L987.9 1499.2 L985.8 1503.3 L983.6 1507.5 L981.4 1511.7 L979.3 1516 L977.1 1520.2 L974.9 1524.4 L972.7 1528.7 L970.6 1532.9 L968.4 1537 L966.2 1541.1 L964.1 1545.2 L961.9 1549.2 L959.7 1553 L957.6 1556.8 L955.4 1560.5 L953.2 1564 L951.1 1567.4 L948.9 1570.7 L946.7 1573.8 L944.6 1576.8 L942.4 1579.5 L940.2 1582.2 L938.1 1584.6 L935.9 1586.9 L933.7 1589 L931.5 1591 L929.4 1592.9 L927.2 1594.5 L925 1596.1 L922.9 1597.5 L920.7 1598.8 L918.5 1599.9 L916.4 1601 L914.2 1601.9 L912 1602.8 L909.9 1603.6 L907.7 1604.3 L905.5 1604.9 L903.4 1605.4 L901.2 1605.9 L899 1606.3 L896.8 1606.7 L894.7 1607.1 L892.5 1607.4 L890.3 1607.6 L888.2 1607.8 L886 1608 L883.8 1608.2 L881.7 1608.4 L879.5 1608.5 L877.3 1608.6 L875.2 1608.7 L873 1608.8 L870.8 1608.9 L868.7 1608.9 L866.5 1609 L864.3 1609 L862.1 1609.1 L860 1609.1 L857.8 1609.1 L855.6 1609.2 L853.5 1609.2 L851.3 1609.2 L849.1 1609.2 L847 1609.2 L844.8 1609.2 L842.6 1609.3 L840.5 1609.3 L838.3 1609.3 L836.1 1609.3 L834 1609.3 L831.8 1609.3 L829.6 1609.3 L827.5 1609.3 L825.3 1609.3 L823.1 1609.3 L820.9 1609.3 L818.8 1609.3 L816.6 1609.3 L814.4 1609.3 L812.3 1609.3 L810.1 1609.3 L807.9 1609.3 L805.8 1609.3 L803.6 1609.3 Z" fill="#FF7F50" fill-opacity="0.2"/></g><rect x="781.1" y="1193.5" width="565.4" height="433.7" fill="none" stroke="#000" stroke-width="5.5"/><text x="777.6" y="1168.4" font-size="33.4" font-style="italic" textLength="131.3" lengthAdjust="spacingAndGlyphs">P. apollo</text><line x1="774" y1="1609.3" x2="778.4" y2="1609.3" stroke="#333" stroke-width="1.4" /><text x="770.9" y="1617.9" font-size="27" text-anchor="end" fill="#4D4D4D" textLength="48.5" lengthAdjust="spacingAndGlyphs">0.00</text><line x1="774" y1="1510" x2="778.4" y2="1510" stroke="#333" stroke-width="1.4" /><text x="770.9" y="1518.6" font-size="27" text-anchor="end" fill="#4D4D4D" textLength="48.5" lengthAdjust="spacingAndGlyphs">0.25</text><line x1="774" y1="1410.8" x2="778.4" y2="1410.8" stroke="#333" stroke-width="1.4" /><text x="770.9" y="1419.3" font-size="27" text-anchor="end" fill="#4D4D4D" textLength="48.5" lengthAdjust="spacingAndGlyphs">0.50</text><line x1="774" y1="1311.5" x2="778.4" y2="1311.5" stroke="#333" stroke-width="1.4" /><text x="770.9" y="1320.1" font-size="27" text-anchor="end" fill="#4D4D4D" textLength="48.5" lengthAdjust="spacingAndGlyphs">0.75</text><line x1="774" y1="1212.2" x2="778.4" y2="1212.2" stroke="#333" stroke-width="1.4" /><text x="770.9" y="1220.8" font-size="27" text-anchor="end" fill="#4D4D4D" textLength="48.5" lengthAdjust="spacingAndGlyphs">1.00</text><line x1="845.8" y1="1629" x2="845.8" y2="1634.4" stroke="#333" stroke-width="1.4" /><text x="845.8" y="1655.6" font-size="27" text-anchor="middle" fill="#4D4D4D" textLength="27.6" lengthAdjust="spacingAndGlyphs">15</text><line x1="964.3" y1="1629" x2="964.3" y2="1634.4" stroke="#333" stroke-width="1.4" /><text x="964.3" y="1655.6" font-size="27" text-anchor="middle" fill="#4D4D4D" textLength="27.6" lengthAdjust="spacingAndGlyphs">20</text><line x1="1082.9" y1="1629" x2="1082.9" y2="1634.4" stroke="#333" stroke-width="1.4" /><text x="1082.9" y="1655.6" font-size="27" text-anchor="middle" fill="#4D4D4D" textLength="27.6" lengthAdjust="spacingAndGlyphs">25</text><line x1="1201.5" y1="1629" x2="1201.5" y2="1634.4" stroke="#333" stroke-width="1.4" /><text x="1201.5" y="1655.6" font-size="27" text-anchor="middle" fill="#4D4D4D" textLength="27.6" lengthAdjust="spacingAndGlyphs">30</text><line x1="1320" y1="1629" x2="1320" y2="1634.4" stroke="#333" stroke-width="1.4" /><text x="1320" y="1655.6" font-size="27" text-anchor="middle" fill="#4D4D4D" textLength="27.6" lengthAdjust="spacingAndGlyphs">35</text><text x="1064.2" y="1688.3" font-size="33.4" text-anchor="middle">Temperature</text><text x="708.6" y="1407.5" font-size="33.4" text-anchor="middle" transform="rotate(-90 708.6 1407.5)">Probability of presence</text><g clip-path="url(#clipB3)"><path d="M1484.3 1607.8 L1486.7 1607.8 L1489.1 1607.8 L1491.6 1607.7 L1494 1607.7 L1496.4 1607.7 L1498.8 1607.7 L1501.2 1607.6 L1503.6 1607.6 L1506.1 1607.6 L1508.5 1607.6 L1510.9 1607.5 L1513.3 1607.5 L1515.7 1607.5 L1518.1 1607.4 L1520.6 1607.4 L1523 1607.4 L1525.4 1607.3 L1527.8 1607.3 L1530.2 1607.2 L1532.6 1607.2 L1535.1 1607.1 L1537.5 1607 L1539.9 1607 L1542.3 1606.9 L1544.7 1606.9 L1547.1 1606.8 L1549.6 1606.7 L1552 1606.6 L1554.4 1606.5 L1556.8 1606.5 L1559.2 1606.4 L1561.6 1606.3 L1564.1 1606.2 L1566.5 1606.1 L1568.9 1606 L1571.3 1605.8 L1573.7 1605.7 L1576.2 1605.6 L1578.6 1605.5 L1581 1605.3 L1583.4 1605.2 L1585.8 1605 L1588.2 1604.9 L1590.7 1604.7 L1593.1 1604.5 L1595.5 1604.3 L1597.9 1604.1 L1600.3 1603.9 L1602.7 1603.7 L1605.2 1603.5 L1607.6 1603.3 L1610 1603.1 L1612.4 1602.8 L1614.8 1602.6 L1617.2 1602.3 L1619.7 1602.1 L1622.1 1601.8 L1624.5 1601.5 L1626.9 1601.2 L1629.3 1600.9 L1631.7 1600.6 L1634.2 1600.3 L1636.6 1600 L1639 1599.6 L1641.4 1599.3 L1643.8 1598.9 L1646.2 1598.5 L1648.7 1598.1 L1651.1 1597.8 L1653.5 1597.4 L1655.9 1596.9 L1658.3 1596.5 L1660.8 1596.1 L1663.2 1595.6 L1665.6 1595.2 L1668 1594.7 L1670.4 1594.2 L1672.8 1593.8 L1675.3 1593.3 L1677.7 1592.8 L1680.1 1592.2 L1682.5 1591.7 L1684.9 1591.2 L1687.3 1590.6 L1689.8 1590.1 L1692.2 1589.5 L1694.6 1589 L1697 1588.4 L1699.4 1587.8 L1701.8 1587.2 L1704.3 1586.6 L1706.7 1586 L1709.1 1585.4 L1711.5 1584.8 L1713.9 1584.2 L1716.3 1583.6 L1718.8 1583 L1721.2 1582.3 L1723.6 1581.7 L1726 1581.1 L1728.4 1580.4 L1730.8 1579.8 L1733.3 1579.2 L1735.7 1578.5 L1738.1 1577.9 L1740.5 1577.3 L1742.9 1576.6 L1745.4 1576 L1747.8 1575.4 L1750.2 1574.7 L1752.6 1574.1 L1755 1573.5 L1757.4 1572.9 L1759.9 1572.3 L1762.3 1571.7 L1764.7 1571.1 L1767.1 1570.5 L1769.5 1569.9 L1771.9 1569.3 L1774.4 1568.8 L1776.8 1568.2 L1779.2 1567.7 L1781.6 1567.1 L1784 1566.6 L1786.4 1566.1 L1788.9 1565.6 L1791.3 1565.2 L1793.7 1564.7 L1796.1 1564.2 L1798.5 1563.8 L1800.9 1563.4 L1803.4 1563 L1805.8 1562.6 L1808.2 1562.2 L1810.6 1561.8 L1813 1561.5 L1815.5 1561.2 L1817.9 1560.9 L1820.3 1560.6 L1822.7 1560.3 L1825.1 1560.1 L1827.5 1559.8 L1830 1559.6 L1832.4 1559.4 L1834.8 1559.3 L1837.2 1559.1 L1839.6 1559 L1842 1558.9 L1844.5 1558.8 L1846.9 1558.7 L1849.3 1558.7 L1851.7 1558.6 L1854.1 1558.6 L1856.5 1558.7 L1859 1558.7 L1861.4 1558.7 L1863.8 1558.8 L1866.2 1558.9 L1868.6 1559 L1871 1559.2 L1873.5 1559.3 L1875.9 1559.5 L1878.3 1559.7 L1880.7 1559.9 L1883.1 1560.2 L1885.5 1560.4 L1888 1560.7 L1890.4 1561 L1892.8 1561.3 L1895.2 1561.6 L1897.6 1562 L1900.1 1562.3 L1902.5 1562.7 L1904.9 1563.1 L1907.3 1563.5 L1909.7 1563.9 L1912.1 1564.4 L1914.6 1564.8 L1917 1565.3 L1919.4 1565.8 L1921.8 1566.3 L1924.2 1566.8 L1926.6 1567.3 L1929.1 1567.9 L1931.5 1568.4 L1933.9 1569 L1936.3 1569.5 L1938.7 1570.1 L1941.1 1570.7 L1943.6 1571.3 L1946 1571.9 L1948.4 1572.5 L1950.8 1573.1 L1953.2 1573.7 L1955.6 1574.3 L1958.1 1574.9 L1960.5 1575.6 L1962.9 1576.2 L1965.3 1576.8 L1967.7 1577.5 L1970.1 1578.1 L1972.6 1578.7 L1975 1579.4 L1977.4 1580 L1979.8 1580.6 L1982.2 1581.3 L1984.7 1581.9 L1987.1 1582.5 L1989.5 1583.2 L1991.9 1583.8 L1994.3 1584.4 L1996.7 1585 L1999.2 1585.6 L2001.6 1586.2 L2004 1586.8 L2006.4 1587.4 L2008.8 1588 L2011.2 1588.6 L2013.7 1589.2 L2016.1 1589.7 L2018.5 1590.3 L2020.9 1590.8 L2023.3 1591.4 L2025.7 1591.9 L2028.2 1592.4 L2030.6 1592.9 L2033 1593.4 L2035.4 1593.9 L2037.8 1594.4 L2040.2 1594.9 L2042.7 1595.3 L2045.1 1595.8 L2047.5 1596.2 L2049.9 1596.7 L2052.3 1597.1 L2054.7 1597.5 L2057.2 1597.9 L2059.6 1598.3 L2062 1598.7" fill="none" stroke="#7AC5CD" stroke-width="7.4" stroke-linejoin="round"/><path d="M1484.3 1606.4 L1486.7 1606.3 L1489.1 1606.2 L1491.6 1606.1 L1494 1606 L1496.4 1605.9 L1498.8 1605.7 L1501.2 1605.6 L1503.6 1605.4 L1506.1 1605.3 L1508.5 1605.1 L1510.9 1605 L1513.3 1604.8 L1515.7 1604.6 L1518.1 1604.4 L1520.6 1604.2 L1523 1604 L1525.4 1603.8 L1527.8 1603.6 L1530.2 1603.3 L1532.6 1603.1 L1535.1 1602.8 L1537.5 1602.5 L1539.9 1602.2 L1542.3 1601.9 L1544.7 1601.6 L1547.1 1601.3 L1549.6 1600.9 L1552 1600.5 L1554.4 1600.2 L1556.8 1599.8 L1559.2 1599.4 L1561.6 1598.9 L1564.1 1598.5 L1566.5 1598 L1568.9 1597.6 L1571.3 1597.1 L1573.7 1596.5 L1576.2 1596 L1578.6 1595.4 L1581 1594.9 L1583.4 1594.3 L1585.8 1593.6 L1588.2 1593 L1590.7 1592.3 L1593.1 1591.7 L1595.5 1590.9 L1597.9 1590.2 L1600.3 1589.5 L1602.7 1588.7 L1605.2 1587.9 L1607.6 1587 L1610 1586.2 L1612.4 1585.3 L1614.8 1584.4 L1617.2 1583.5 L1619.7 1582.5 L1622.1 1581.5 L1624.5 1580.5 L1626.9 1579.5 L1629.3 1578.4 L1631.7 1577.3 L1634.2 1576.2 L1636.6 1575.1 L1639 1573.9 L1641.4 1572.7 L1643.8 1571.5 L1646.2 1570.2 L1648.7 1569 L1651.1 1567.7 L1653.5 1566.4 L1655.9 1565 L1658.3 1563.6 L1660.8 1562.3 L1663.2 1560.8 L1665.6 1559.4 L1668 1557.9 L1670.4 1556.5 L1672.8 1554.9 L1675.3 1553.4 L1677.7 1551.9 L1680.1 1550.3 L1682.5 1548.7 L1684.9 1547.1 L1687.3 1545.5 L1689.8 1543.9 L1692.2 1542.2 L1694.6 1540.6 L1697 1538.9 L1699.4 1537.2 L1701.8 1535.5 L1704.3 1533.8 L1706.7 1532.1 L1709.1 1530.4 L1711.5 1528.6 L1713.9 1526.9 L1716.3 1525.1 L1718.8 1523.4 L1721.2 1521.6 L1723.6 1519.9 L1726 1518.1 L1728.4 1516.4 L1730.8 1514.6 L1733.3 1512.9 L1735.7 1511.1 L1738.1 1509.4 L1740.5 1507.6 L1742.9 1505.9 L1745.4 1504.2 L1747.8 1502.5 L1750.2 1500.8 L1752.6 1499.1 L1755 1497.4 L1757.4 1495.7 L1759.9 1494.1 L1762.3 1492.4 L1764.7 1490.8 L1767.1 1489.2 L1769.5 1487.6 L1771.9 1486 L1774.4 1484.5 L1776.8 1482.9 L1779.2 1481.4 L1781.6 1479.9 L1784 1478.5 L1786.4 1477 L1788.9 1475.6 L1791.3 1474.2 L1793.7 1472.8 L1796.1 1471.5 L1798.5 1470.2 L1800.9 1468.9 L1803.4 1467.6 L1805.8 1466.4 L1808.2 1465.2 L1810.6 1464 L1813 1462.8 L1815.5 1461.7 L1817.9 1460.6 L1820.3 1459.6 L1822.7 1458.6 L1825.1 1457.6 L1827.5 1456.6 L1830 1455.7 L1832.4 1454.8 L1834.8 1453.9 L1837.2 1453.1 L1839.6 1452.3 L1842 1451.5 L1844.5 1450.8 L1846.9 1450.1 L1849.3 1449.4 L1851.7 1448.8 L1854.1 1448.2 L1856.5 1447.6 L1859 1447.1 L1861.4 1446.6 L1863.8 1446.2 L1866.2 1445.7 L1868.6 1445.4 L1871 1445 L1873.5 1444.7 L1875.9 1444.4 L1878.3 1444.2 L1880.7 1444 L1883.1 1443.8 L1885.5 1443.7 L1888 1443.6 L1890.4 1443.5 L1892.8 1443.5 L1895.2 1443.5 L1897.6 1443.6 L1900.1 1443.7 L1902.5 1443.8 L1904.9 1443.9 L1907.3 1444.1 L1909.7 1444.4 L1912.1 1444.6 L1914.6 1444.9 L1917 1445.3 L1919.4 1445.7 L1921.8 1446.1 L1924.2 1446.5 L1926.6 1447 L1929.1 1447.5 L1931.5 1448.1 L1933.9 1448.6 L1936.3 1449.3 L1938.7 1449.9 L1941.1 1450.6 L1943.6 1451.3 L1946 1452.1 L1948.4 1452.9 L1950.8 1453.7 L1953.2 1454.6 L1955.6 1455.5 L1958.1 1456.4 L1960.5 1457.3 L1962.9 1458.3 L1965.3 1459.4 L1967.7 1460.4 L1970.1 1461.5 L1972.6 1462.6 L1975 1463.7 L1977.4 1464.9 L1979.8 1466.1 L1982.2 1467.4 L1984.7 1468.6 L1987.1 1469.9 L1989.5 1471.2 L1991.9 1472.6 L1994.3 1473.9 L1996.7 1475.3 L1999.2 1476.7 L2001.6 1478.2 L2004 1479.6 L2006.4 1481.1 L2008.8 1482.6 L2011.2 1484.2 L2013.7 1485.7 L2016.1 1487.3 L2018.5 1488.9 L2020.9 1490.5 L2023.3 1492.1 L2025.7 1493.7 L2028.2 1495.4 L2030.6 1497 L2033 1498.7 L2035.4 1500.4 L2037.8 1502.1 L2040.2 1503.8 L2042.7 1505.5 L2045.1 1507.3 L2047.5 1509 L2049.9 1510.7 L2052.3 1512.5 L2054.7 1514.2 L2057.2 1516 L2059.6 1517.7 L2062 1519.5" fill="none" stroke="#838B8B" stroke-width="7.4" stroke-linejoin="round"/><path d="M1484.3 1608 L1486.7 1608 L1489.1 1608 L1491.6 1608 L1494 1608 L1496.4 1608 L1498.8 1608 L1501.2 1608 L1503.6 1608 L1506.1 1608 L1508.5 1608 L1510.9 1608 L1513.3 1608 L1515.7 1607.9 L1518.1 1607.9 L1520.6 1607.9 L1523 1607.9 L1525.4 1607.9 L1527.8 1607.9 L1530.2 1607.9 L1532.6 1607.8 L1535.1 1607.8 L1537.5 1607.8 L1539.9 1607.8 L1542.3 1607.7 L1544.7 1607.7 L1547.1 1607.6 L1549.6 1607.6 L1552 1607.5 L1554.4 1607.5 L1556.8 1607.4 L1559.2 1607.3 L1561.6 1607.2 L1564.1 1607.1 L1566.5 1607 L1568.9 1606.8 L1571.3 1606.7 L1573.7 1606.5 L1576.2 1606.4 L1578.6 1606.2 L1581 1605.9 L1583.4 1605.7 L1585.8 1605.4 L1588.2 1605.1 L1590.7 1604.8 L1593.1 1604.5 L1595.5 1604.1 L1597.9 1603.7 L1600.3 1603.2 L1602.7 1602.7 L1605.2 1602.2 L1607.6 1601.6 L1610 1601 L1612.4 1600.3 L1614.8 1599.6 L1617.2 1598.8 L1619.7 1598 L1622.1 1597.1 L1624.5 1596.1 L1626.9 1595.1 L1629.3 1594 L1631.7 1592.9 L1634.2 1591.7 L1636.6 1590.4 L1639 1589 L1641.4 1587.6 L1643.8 1586.1 L1646.2 1584.6 L1648.7 1582.9 L1651.1 1581.2 L1653.5 1579.5 L1655.9 1577.6 L1658.3 1575.7 L1660.8 1573.8 L1663.2 1571.8 L1665.6 1569.7 L1668 1567.6 L1670.4 1565.4 L1672.8 1563.2 L1675.3 1560.9 L1677.7 1558.6 L1680.1 1556.3 L1682.5 1554 L1684.9 1551.6 L1687.3 1549.3 L1689.8 1546.9 L1692.2 1544.5 L1694.6 1542.2 L1697 1539.8 L1699.4 1537.5 L1701.8 1535.2 L1704.3 1532.9 L1706.7 1530.7 L1709.1 1528.5 L1711.5 1526.3 L1713.9 1524.3 L1716.3 1522.2 L1718.8 1520.3 L1721.2 1518.4 L1723.6 1516.6 L1726 1514.9 L1728.4 1513.3 L1730.8 1511.7 L1733.3 1510.3 L1735.7 1508.9 L1738.1 1507.7 L1740.5 1506.5 L1742.9 1505.5 L1745.4 1504.5 L1747.8 1503.7 L1750.2 1503 L1752.6 1502.4 L1755 1502 L1757.4 1501.6 L1759.9 1501.4 L1762.3 1501.2 L1764.7 1501.2 L1767.1 1501.3 L1769.5 1501.6 L1771.9 1501.9 L1774.4 1502.4 L1776.8 1503 L1779.2 1503.7 L1781.6 1504.5 L1784 1505.4 L1786.4 1506.5 L1788.9 1507.6 L1791.3 1508.9 L1793.7 1510.2 L1796.1 1511.7 L1798.5 1513.2 L1800.9 1514.8 L1803.4 1516.5 L1805.8 1518.3 L1808.2 1520.2 L1810.6 1522.2 L1813 1524.2 L1815.5 1526.3 L1817.9 1528.4 L1820.3 1530.6 L1822.7 1532.8 L1825.1 1535.1 L1827.5 1537.4 L1830 1539.7 L1832.4 1542.1 L1834.8 1544.4 L1837.2 1546.8 L1839.6 1549.2 L1842 1551.5 L1844.5 1553.9 L1846.9 1556.2 L1849.3 1558.6 L1851.7 1560.8 L1854.1 1563.1 L1856.5 1565.3 L1859 1567.5 L1861.4 1569.6 L1863.8 1571.7 L1866.2 1573.7 L1868.6 1575.7 L1871 1577.6 L1873.5 1579.4 L1875.9 1581.2 L1878.3 1582.9 L1880.7 1584.5 L1883.1 1586.1 L1885.5 1587.6 L1888 1589 L1890.4 1590.3 L1892.8 1591.6 L1895.2 1592.8 L1897.6 1594 L1900.1 1595.1 L1902.5 1596.1 L1904.9 1597 L1907.3 1597.9 L1909.7 1598.8 L1912.1 1599.6 L1914.6 1600.3 L1917 1601 L1919.4 1601.6 L1921.8 1602.2 L1924.2 1602.7 L1926.6 1603.2 L1929.1 1603.7 L1931.5 1604.1 L1933.9 1604.5 L1936.3 1604.8 L1938.7 1605.1 L1941.1 1605.4 L1943.6 1605.7 L1946 1605.9 L1948.4 1606.2 L1950.8 1606.4 L1953.2 1606.5 L1955.6 1606.7 L1958.1 1606.8 L1960.5 1607 L1962.9 1607.1 L1965.3 1607.2 L1967.7 1607.3 L1970.1 1607.4 L1972.6 1607.4 L1975 1607.5 L1977.4 1607.6 L1979.8 1607.6 L1982.2 1607.7 L1984.7 1607.7 L1987.1 1607.8 L1989.5 1607.8 L1991.9 1607.8 L1994.3 1607.8 L1996.7 1607.9 L1999.2 1607.9 L2001.6 1607.9 L2004 1607.9 L2006.4 1607.9 L2008.8 1607.9 L2011.2 1607.9 L2013.7 1607.9 L2016.1 1608 L2018.5 1608 L2020.9 1608 L2023.3 1608 L2025.7 1608 L2028.2 1608 L2030.6 1608 L2033 1608 L2035.4 1608 L2037.8 1608 L2040.2 1608 L2042.7 1608 L2045.1 1608 L2047.5 1608 L2049.9 1608 L2052.3 1608 L2054.7 1608 L2057.2 1608 L2059.6 1608 L2062 1608" fill="none" stroke="#FF7F50" stroke-width="7.4" stroke-linejoin="round"/><path d="M1484.3 1564.5 L1486.7 1565.4 L1489.1 1566.3 L1491.6 1567.2 L1494 1568 L1496.4 1568.8 L1498.8 1569.6 L1501.2 1570.4 L1503.6 1571.1 L1506.1 1571.7 L1508.5 1572.4 L1510.9 1573 L1513.3 1573.6 L1515.7 1574.2 L1518.1 1574.8 L1520.6 1575.3 L1523 1575.8 L1525.4 1576.3 L1527.8 1576.7 L1530.2 1577.2 L1532.6 1577.6 L1535.1 1578 L1537.5 1578.4 L1539.9 1578.8 L1542.3 1579.1 L1544.7 1579.4 L1547.1 1579.7 L1549.6 1580 L1552 1580.3 L1554.4 1580.6 L1556.8 1580.8 L1559.2 1581.1 L1561.6 1581.3 L1564.1 1581.5 L1566.5 1581.7 L1568.9 1581.8 L1571.3 1582 L1573.7 1582.1 L1576.2 1582.3 L1578.6 1582.4 L1581 1582.5 L1583.4 1582.6 L1585.8 1582.6 L1588.2 1582.7 L1590.7 1582.7 L1593.1 1582.8 L1595.5 1582.8 L1597.9 1582.8 L1600.3 1582.8 L1602.7 1582.8 L1605.2 1582.7 L1607.6 1582.7 L1610 1582.6 L1612.4 1582.6 L1614.8 1582.5 L1617.2 1582.4 L1619.7 1582.2 L1622.1 1582.1 L1624.5 1581.9 L1626.9 1581.8 L1629.3 1581.6 L1631.7 1581.4 L1634.2 1581.2 L1636.6 1580.9 L1639 1580.7 L1641.4 1580.4 L1643.8 1580.1 L1646.2 1579.8 L1648.7 1579.5 L1651.1 1579.2 L1653.5 1578.8 L1655.9 1578.4 L1658.3 1578 L1660.8 1577.6 L1663.2 1577.2 L1665.6 1576.7 L1668 1576.2 L1670.4 1575.7 L1672.8 1575.2 L1675.3 1574.7 L1677.7 1574.1 L1680.1 1573.5 L1682.5 1572.9 L1684.9 1572.3 L1687.3 1571.7 L1689.8 1571 L1692.2 1570.3 L1694.6 1569.6 L1697 1568.9 L1699.4 1568.2 L1701.8 1567.5 L1704.3 1566.8 L1706.7 1566 L1709.1 1565.2 L1711.5 1564.5 L1713.9 1563.7 L1716.3 1562.9 L1718.8 1562.1 L1721.2 1561.3 L1723.6 1560.5 L1726 1559.7 L1728.4 1558.9 L1730.8 1558.1 L1733.3 1557.3 L1735.7 1556.4 L1738.1 1555.6 L1740.5 1554.8 L1742.9 1554 L1745.4 1553.2 L1747.8 1552.4 L1750.2 1551.6 L1752.6 1550.8 L1755 1549.9 L1757.4 1549.1 L1759.9 1548.3 L1762.3 1547.4 L1764.7 1546.6 L1767.1 1545.7 L1769.5 1544.8 L1771.9 1543.9 L1774.4 1542.9 L1776.8 1542 L1779.2 1540.9 L1781.6 1539.9 L1784 1538.8 L1786.4 1537.6 L1788.9 1536.4 L1791.3 1535.1 L1793.7 1533.8 L1796.1 1532.4 L1798.5 1530.9 L1800.9 1529.3 L1803.4 1527.7 L1805.8 1526 L1808.2 1524.2 L1810.6 1522.3 L1813 1520.2 L1815.5 1518.1 L1817.9 1515.9 L1820.3 1513.6 L1822.7 1511.2 L1825.1 1508.7 L1827.5 1506 L1830 1503.3 L1832.4 1500.4 L1834.8 1497.4 L1837.2 1494.3 L1839.6 1491.1 L1842 1487.8 L1844.5 1484.3 L1846.9 1480.7 L1849.3 1477 L1851.7 1473.2 L1854.1 1469.2 L1856.5 1465.2 L1859 1461 L1861.4 1456.7 L1863.8 1452.2 L1866.2 1447.7 L1868.6 1443 L1871 1438.3 L1873.5 1433.4 L1875.9 1428.4 L1878.3 1423.4 L1880.7 1418.2 L1883.1 1412.9 L1885.5 1407.6 L1888 1402.2 L1890.4 1396.7 L1892.8 1391.2 L1895.2 1385.6 L1897.6 1380 L1900.1 1374.3 L1902.5 1368.6 L1904.9 1362.9 L1907.3 1357.2 L1909.7 1351.5 L1912.1 1345.8 L1914.6 1340.1 L1917 1334.4 L1919.4 1328.8 L1921.8 1323.3 L1924.2 1317.8 L1926.6 1312.4 L1929.1 1307 L1931.5 1301.7 L1933.9 1296.6 L1936.3 1291.5 L1938.7 1286.6 L1941.1 1281.7 L1943.6 1277 L1946 1272.4 L1948.4 1267.9 L1950.8 1263.6 L1953.2 1259.4 L1955.6 1255.3 L1958.1 1251.4 L1960.5 1247.7 L1962.9 1244 L1965.3 1240.5 L1967.7 1237.2 L1970.1 1234 L1972.6 1230.9 L1975 1228 L1977.4 1225.2 L1979.8 1222.5 L1982.2 1219.9 L1984.7 1217.5 L1987.1 1215.2 L1989.5 1213.1 L1991.9 1211 L1994.3 1209.1 L1996.7 1207.2 L1999.2 1205.5 L2001.6 1203.9 L2004 1202.3 L2006.4 1200.9 L2008.8 1199.5 L2011.2 1198.2 L2013.7 1197 L2016.1 1195.9 L2018.5 1194.9 L2020.9 1193.9 L2023.3 1193 L2025.7 1192.1 L2028.2 1191.3 L2030.6 1190.5 L2033 1189.8 L2035.4 1189.2 L2037.8 1188.6 L2040.2 1188 L2042.7 1187.5 L2045.1 1187 L2047.5 1186.6 L2049.9 1186.2 L2052.3 1185.8 L2054.7 1185.4 L2057.2 1185.1 L2059.6 1184.8 L2062 1184.5 L2062 1608 L2059.6 1608 L2057.2 1608 L2054.7 1608 L2052.3 1608 L2049.9 1608 L2047.5 1608 L2045.1 1608 L2042.7 1608 L2040.2 1608 L2037.8 1608 L2035.4 1608 L2033 1608 L2030.6 1608 L2028.2 1608 L2025.7 1608 L2023.3 1608 L2020.9 1608 L2018.5 1608 L2016.1 1608 L2013.7 1608 L2011.2 1608 L2008.8 1608 L2006.4 1607.9 L2004 1607.9 L2001.6 1607.9 L1999.2 1607.9 L1996.7 1607.9 L1994.3 1607.9 L1991.9 1607.9 L1989.5 1607.9 L1987.1 1607.9 L1984.7 1607.8 L1982.2 1607.8 L1979.8 1607.8 L1977.4 1607.8 L1975 1607.7 L1972.6 1607.7 L1970.1 1607.7 L1967.7 1607.6 L1965.3 1607.6 L1962.9 1607.5 L1960.5 1607.5 L1958.1 1607.4 L1955.6 1607.3 L1953.2 1607.3 L1950.8 1607.2 L1948.4 1607.1 L1946 1607 L1943.6 1606.9 L1941.1 1606.8 L1938.7 1606.7 L1936.3 1606.5 L1933.9 1606.4 L1931.5 1606.3 L1929.1 1606.1 L1926.6 1605.9 L1924.2 1605.7 L1921.8 1605.5 L1919.4 1605.3 L1917 1605.1 L1914.6 1604.8 L1912.1 1604.6 L1909.7 1604.3 L1907.3 1604 L1904.9 1603.7 L1902.5 1603.3 L1900.1 1603 L1897.6 1602.6 L1895.2 1602.2 L1892.8 1601.8 L1890.4 1601.4 L1888 1601 L1885.5 1600.5 L1883.1 1600.1 L1880.7 1599.6 L1878.3 1599.1 L1875.9 1598.6 L1873.5 1598 L1871 1597.5 L1868.6 1596.9 L1866.2 1596.3 L1863.8 1595.8 L1861.4 1595.2 L1859 1594.6 L1856.5 1594 L1854.1 1593.4 L1851.7 1592.8 L1849.3 1592.1 L1846.9 1591.5 L1844.5 1590.9 L1842 1590.4 L1839.6 1589.8 L1837.2 1589.2 L1834.8 1588.6 L1832.4 1588.1 L1830 1587.6 L1827.5 1587.1 L1825.1 1586.6 L1822.7 1586.2 L1820.3 1585.7 L1817.9 1585.4 L1815.5 1585 L1813 1584.7 L1810.6 1584.4 L1808.2 1584.2 L1805.8 1584 L1803.4 1583.8 L1800.9 1583.7 L1798.5 1583.6 L1796.1 1583.6 L1793.7 1583.6 L1791.3 1583.7 L1788.9 1583.7 L1786.4 1583.9 L1784 1584 L1781.6 1584.2 L1779.2 1584.5 L1776.8 1584.7 L1774.4 1585 L1771.9 1585.3 L1769.5 1585.6 L1767.1 1586 L1764.7 1586.4 L1762.3 1586.8 L1759.9 1587.2 L1757.4 1587.6 L1755 1588 L1752.6 1588.4 L1750.2 1588.9 L1747.8 1589.3 L1745.4 1589.8 L1742.9 1590.2 L1740.5 1590.7 L1738.1 1591.1 L1735.7 1591.6 L1733.3 1592 L1730.8 1592.5 L1728.4 1592.9 L1726 1593.4 L1723.6 1593.8 L1721.2 1594.2 L1718.8 1594.7 L1716.3 1595.1 L1713.9 1595.5 L1711.5 1596 L1709.1 1596.4 L1706.7 1596.8 L1704.3 1597.2 L1701.8 1597.6 L1699.4 1598 L1697 1598.4 L1694.6 1598.8 L1692.2 1599.2 L1689.8 1599.5 L1687.3 1599.9 L1684.9 1600.3 L1682.5 1600.6 L1680.1 1601 L1677.7 1601.3 L1675.3 1601.6 L1672.8 1602 L1670.4 1602.3 L1668 1602.6 L1665.6 1602.9 L1663.2 1603.2 L1660.8 1603.5 L1658.3 1603.7 L1655.9 1604 L1653.5 1604.2 L1651.1 1604.5 L1648.7 1604.7 L1646.2 1604.9 L1643.8 1605.1 L1641.4 1605.3 L1639 1605.5 L1636.6 1605.7 L1634.2 1605.9 L1631.7 1606 L1629.3 1606.2 L1626.9 1606.3 L1624.5 1606.4 L1622.1 1606.6 L1619.7 1606.7 L1617.2 1606.8 L1614.8 1606.9 L1612.4 1607 L1610 1607.1 L1607.6 1607.2 L1605.2 1607.2 L1602.7 1607.3 L1600.3 1607.4 L1597.9 1607.4 L1595.5 1607.5 L1593.1 1607.5 L1590.7 1607.6 L1588.2 1607.6 L1585.8 1607.7 L1583.4 1607.7 L1581 1607.7 L1578.6 1607.8 L1576.2 1607.8 L1573.7 1607.8 L1571.3 1607.8 L1568.9 1607.8 L1566.5 1607.9 L1564.1 1607.9 L1561.6 1607.9 L1559.2 1607.9 L1556.8 1607.9 L1554.4 1607.9 L1552 1607.9 L1549.6 1607.9 L1547.1 1608 L1544.7 1608 L1542.3 1608 L1539.9 1608 L1537.5 1608 L1535.1 1608 L1532.6 1608 L1530.2 1608 L1527.8 1608 L1525.4 1608 L1523 1608 L1520.6 1608 L1518.1 1608 L1515.7 1608 L1513.3 1608 L1510.9 1608 L1508.5 1608 L1506.1 1608 L1503.6 1608 L1501.2 1608 L1498.8 1608 L1496.4 1608 L1494 1608 L1491.6 1608 L1489.1 1608 L1486.7 1608 L1484.3 1608 Z" fill="#7AC5CD" fill-opacity="0.2"/><path d="M1484.3 1580.2 L1486.7 1579.8 L1489.1 1579.4 L1491.6 1579 L1494 1578.6 L1496.4 1578.2 L1498.8 1577.8 L1501.2 1577.3 L1503.6 1576.9 L1506.1 1576.4 L1508.5 1576 L1510.9 1575.5 L1513.3 1575.1 L1515.7 1574.6 L1518.1 1574.1 L1520.6 1573.6 L1523 1573.2 L1525.4 1572.7 L1527.8 1572.2 L1530.2 1571.6 L1532.6 1571.1 L1535.1 1570.6 L1537.5 1570.1 L1539.9 1569.5 L1542.3 1569 L1544.7 1568.4 L1547.1 1567.8 L1549.6 1567.2 L1552 1566.7 L1554.4 1566.1 L1556.8 1565.4 L1559.2 1564.8 L1561.6 1564.2 L1564.1 1563.6 L1566.5 1562.9 L1568.9 1562.3 L1571.3 1561.6 L1573.7 1560.9 L1576.2 1560.2 L1578.6 1559.5 L1581 1558.8 L1583.4 1558.1 L1585.8 1557.3 L1588.2 1556.5 L1590.7 1555.8 L1593.1 1555 L1595.5 1554.2 L1597.9 1553.4 L1600.3 1552.5 L1602.7 1551.7 L1605.2 1550.8 L1607.6 1549.9 L1610 1549 L1612.4 1548.1 L1614.8 1547.2 L1617.2 1546.2 L1619.7 1545.3 L1622.1 1544.3 L1624.5 1543.2 L1626.9 1542.2 L1629.3 1541.1 L1631.7 1540.1 L1634.2 1538.9 L1636.6 1537.8 L1639 1536.6 L1641.4 1535.5 L1643.8 1534.2 L1646.2 1533 L1648.7 1531.7 L1651.1 1530.4 L1653.5 1529.1 L1655.9 1527.7 L1658.3 1526.3 L1660.8 1524.9 L1663.2 1523.4 L1665.6 1521.9 L1668 1520.3 L1670.4 1518.8 L1672.8 1517.1 L1675.3 1515.5 L1677.7 1513.8 L1680.1 1512.1 L1682.5 1510.3 L1684.9 1508.5 L1687.3 1506.7 L1689.8 1504.8 L1692.2 1502.9 L1694.6 1500.9 L1697 1499 L1699.4 1497 L1701.8 1494.9 L1704.3 1492.8 L1706.7 1490.7 L1709.1 1488.6 L1711.5 1486.5 L1713.9 1484.3 L1716.3 1482.1 L1718.8 1479.9 L1721.2 1477.7 L1723.6 1475.4 L1726 1473.2 L1728.4 1470.9 L1730.8 1468.7 L1733.3 1466.4 L1735.7 1464.2 L1738.1 1461.9 L1740.5 1459.6 L1742.9 1457.4 L1745.4 1455.2 L1747.8 1452.9 L1750.2 1450.7 L1752.6 1448.6 L1755 1446.4 L1757.4 1444.3 L1759.9 1442.1 L1762.3 1440.1 L1764.7 1438 L1767.1 1436 L1769.5 1434 L1771.9 1432 L1774.4 1430.1 L1776.8 1428.2 L1779.2 1426.4 L1781.6 1424.6 L1784 1422.8 L1786.4 1421.1 L1788.9 1419.4 L1791.3 1417.8 L1793.7 1416.2 L1796.1 1414.6 L1798.5 1413.1 L1800.9 1411.7 L1803.4 1410.3 L1805.8 1408.9 L1808.2 1407.6 L1810.6 1406.3 L1813 1405.1 L1815.5 1403.9 L1817.9 1402.8 L1820.3 1401.7 L1822.7 1400.7 L1825.1 1399.7 L1827.5 1398.8 L1830 1397.9 L1832.4 1397 L1834.8 1396.2 L1837.2 1395.4 L1839.6 1394.7 L1842 1394 L1844.5 1393.4 L1846.9 1392.8 L1849.3 1392.2 L1851.7 1391.6 L1854.1 1391.1 L1856.5 1390.6 L1859 1390.2 L1861.4 1389.7 L1863.8 1389.3 L1866.2 1389 L1868.6 1388.6 L1871 1388.3 L1873.5 1387.9 L1875.9 1387.6 L1878.3 1387.3 L1880.7 1387 L1883.1 1386.8 L1885.5 1386.5 L1888 1386.2 L1890.4 1386 L1892.8 1385.7 L1895.2 1385.4 L1897.6 1385.1 L1900.1 1384.8 L1902.5 1384.5 L1904.9 1384.2 L1907.3 1383.9 L1909.7 1383.6 L1912.1 1383.2 L1914.6 1382.8 L1917 1382.4 L1919.4 1382 L1921.8 1381.6 L1924.2 1381.1 L1926.6 1380.6 L1929.1 1380.1 L1931.5 1379.6 L1933.9 1379 L1936.3 1378.4 L1938.7 1377.8 L1941.1 1377.2 L1943.6 1376.5 L1946 1375.8 L1948.4 1375.1 L1950.8 1374.4 L1953.2 1373.7 L1955.6 1372.9 L1958.1 1372.1 L1960.5 1371.3 L1962.9 1370.4 L1965.3 1369.6 L1967.7 1368.7 L1970.1 1367.8 L1972.6 1366.9 L1975 1366 L1977.4 1365 L1979.8 1364.1 L1982.2 1363.1 L1984.7 1362.1 L1987.1 1361.1 L1989.5 1360.1 L1991.9 1359.1 L1994.3 1358 L1996.7 1357 L1999.2 1355.9 L2001.6 1354.9 L2004 1353.8 L2006.4 1352.7 L2008.8 1351.6 L2011.2 1350.5 L2013.7 1349.4 L2016.1 1348.3 L2018.5 1347.2 L2020.9 1346.1 L2023.3 1344.9 L2025.7 1343.8 L2028.2 1342.7 L2030.6 1341.5 L2033 1340.4 L2035.4 1339.3 L2037.8 1338.1 L2040.2 1337 L2042.7 1335.8 L2045.1 1334.7 L2047.5 1333.5 L2049.9 1332.4 L2052.3 1331.2 L2054.7 1330.1 L2057.2 1328.9 L2059.6 1327.8 L2062 1326.6 L2062 1593.4 L2059.6 1592.5 L2057.2 1591.6 L2054.7 1590.6 L2052.3 1589.6 L2049.9 1588.5 L2047.5 1587.4 L2045.1 1586.3 L2042.7 1585.1 L2040.2 1583.9 L2037.8 1582.6 L2035.4 1581.3 L2033 1579.9 L2030.6 1578.5 L2028.2 1577 L2025.7 1575.5 L2023.3 1574 L2020.9 1572.4 L2018.5 1570.8 L2016.1 1569.2 L2013.7 1567.5 L2011.2 1565.7 L2008.8 1564 L2006.4 1562.2 L2004 1560.4 L2001.6 1558.5 L1999.2 1556.7 L1996.7 1554.8 L1994.3 1552.8 L1991.9 1550.9 L1989.5 1549 L1987.1 1547 L1984.7 1545.1 L1982.2 1543.1 L1979.8 1541.1 L1977.4 1539.1 L1975 1537.2 L1972.6 1535.2 L1970.1 1533.3 L1967.7 1531.3 L1965.3 1529.4 L1962.9 1527.5 L1960.5 1525.7 L1958.1 1523.9 L1955.6 1522.1 L1953.2 1520.3 L1950.8 1518.6 L1948.4 1516.9 L1946 1515.2 L1943.6 1513.7 L1941.1 1512.1 L1938.7 1510.6 L1936.3 1509.2 L1933.9 1507.8 L1931.5 1506.5 L1929.1 1505.3 L1926.6 1504.1 L1924.2 1503 L1921.8 1501.9 L1919.4 1500.9 L1917 1500 L1914.6 1499.2 L1912.1 1498.4 L1909.7 1497.7 L1907.3 1497.1 L1904.9 1496.5 L1902.5 1496 L1900.1 1495.6 L1897.6 1495.2 L1895.2 1494.9 L1892.8 1494.6 L1890.4 1494.5 L1888 1494.4 L1885.5 1494.3 L1883.1 1494.3 L1880.7 1494.4 L1878.3 1494.5 L1875.9 1494.6 L1873.5 1494.8 L1871 1495.1 L1868.6 1495.4 L1866.2 1495.8 L1863.8 1496.2 L1861.4 1496.6 L1859 1497.1 L1856.5 1497.6 L1854.1 1498.1 L1851.7 1498.7 L1849.3 1499.3 L1846.9 1499.9 L1844.5 1500.6 L1842 1501.3 L1839.6 1502 L1837.2 1502.7 L1834.8 1503.5 L1832.4 1504.3 L1830 1505.1 L1827.5 1505.9 L1825.1 1506.8 L1822.7 1507.6 L1820.3 1508.5 L1817.9 1509.4 L1815.5 1510.3 L1813 1511.3 L1810.6 1512.2 L1808.2 1513.1 L1805.8 1514.1 L1803.4 1515.1 L1800.9 1516.1 L1798.5 1517.1 L1796.1 1518.1 L1793.7 1519.1 L1791.3 1520.1 L1788.9 1521.2 L1786.4 1522.2 L1784 1523.3 L1781.6 1524.4 L1779.2 1525.4 L1776.8 1526.5 L1774.4 1527.6 L1771.9 1528.7 L1769.5 1529.8 L1767.1 1530.9 L1764.7 1532.1 L1762.3 1533.2 L1759.9 1534.3 L1757.4 1535.5 L1755 1536.6 L1752.6 1537.8 L1750.2 1539 L1747.8 1540.1 L1745.4 1541.3 L1742.9 1542.5 L1740.5 1543.7 L1738.1 1544.9 L1735.7 1546.1 L1733.3 1547.3 L1730.8 1548.5 L1728.4 1549.8 L1726 1551 L1723.6 1552.2 L1721.2 1553.5 L1718.8 1554.7 L1716.3 1556 L1713.9 1557.3 L1711.5 1558.5 L1709.1 1559.8 L1706.7 1561.1 L1704.3 1562.3 L1701.8 1563.6 L1699.4 1564.9 L1697 1566.1 L1694.6 1567.4 L1692.2 1568.7 L1689.8 1569.9 L1687.3 1571.2 L1684.9 1572.4 L1682.5 1573.6 L1680.1 1574.8 L1677.7 1576 L1675.3 1577.2 L1672.8 1578.4 L1670.4 1579.6 L1668 1580.7 L1665.6 1581.8 L1663.2 1582.9 L1660.8 1584 L1658.3 1585.1 L1655.9 1586.1 L1653.5 1587.1 L1651.1 1588.1 L1648.7 1589 L1646.2 1590 L1643.8 1590.8 L1641.4 1591.7 L1639 1592.6 L1636.6 1593.4 L1634.2 1594.1 L1631.7 1594.9 L1629.3 1595.6 L1626.9 1596.3 L1624.5 1597 L1622.1 1597.6 L1619.7 1598.2 L1617.2 1598.8 L1614.8 1599.4 L1612.4 1599.9 L1610 1600.4 L1607.6 1600.9 L1605.2 1601.3 L1602.7 1601.8 L1600.3 1602.2 L1597.9 1602.6 L1595.5 1602.9 L1593.1 1603.3 L1590.7 1603.6 L1588.2 1603.9 L1585.8 1604.2 L1583.4 1604.5 L1581 1604.7 L1578.6 1605 L1576.2 1605.2 L1573.7 1605.4 L1571.3 1605.6 L1568.9 1605.8 L1566.5 1605.9 L1564.1 1606.1 L1561.6 1606.3 L1559.2 1606.4 L1556.8 1606.5 L1554.4 1606.6 L1552 1606.7 L1549.6 1606.8 L1547.1 1606.9 L1544.7 1607 L1542.3 1607.1 L1539.9 1607.2 L1537.5 1607.3 L1535.1 1607.3 L1532.6 1607.4 L1530.2 1607.4 L1527.8 1607.5 L1525.4 1607.5 L1523 1607.6 L1520.6 1607.6 L1518.1 1607.6 L1515.7 1607.7 L1513.3 1607.7 L1510.9 1607.7 L1508.5 1607.8 L1506.1 1607.8 L1503.6 1607.8 L1501.2 1607.8 L1498.8 1607.8 L1496.4 1607.9 L1494 1607.9 L1491.6 1607.9 L1489.1 1607.9 L1486.7 1607.9 L1484.3 1607.9 Z" fill="#838B8B" fill-opacity="0.2"/><path d="M1484.3 1595.9 L1486.7 1595.4 L1489.1 1595 L1491.6 1594.6 L1494 1594.1 L1496.4 1593.6 L1498.8 1593.1 L1501.2 1592.7 L1503.6 1592.2 L1506.1 1591.6 L1508.5 1591.1 L1510.9 1590.6 L1513.3 1590 L1515.7 1589.4 L1518.1 1588.9 L1520.6 1588.3 L1523 1587.7 L1525.4 1587 L1527.8 1586.4 L1530.2 1585.7 L1532.6 1585.1 L1535.1 1584.4 L1537.5 1583.7 L1539.9 1583 L1542.3 1582.3 L1544.7 1581.6 L1547.1 1580.8 L1549.6 1580.1 L1552 1579.3 L1554.4 1578.5 L1556.8 1577.7 L1559.2 1576.9 L1561.6 1576 L1564.1 1575.2 L1566.5 1574.3 L1568.9 1573.4 L1571.3 1572.6 L1573.7 1571.6 L1576.2 1570.7 L1578.6 1569.8 L1581 1568.8 L1583.4 1567.9 L1585.8 1566.9 L1588.2 1565.9 L1590.7 1564.9 L1593.1 1563.8 L1595.5 1562.8 L1597.9 1561.7 L1600.3 1560.7 L1602.7 1559.6 L1605.2 1558.5 L1607.6 1557.3 L1610 1556.2 L1612.4 1555 L1614.8 1553.9 L1617.2 1552.7 L1619.7 1551.4 L1622.1 1550.2 L1624.5 1548.9 L1626.9 1547.7 L1629.3 1546.4 L1631.7 1545.1 L1634.2 1543.7 L1636.6 1542.3 L1639 1540.9 L1641.4 1539.5 L1643.8 1538.1 L1646.2 1536.6 L1648.7 1535.1 L1651.1 1533.6 L1653.5 1532 L1655.9 1530.4 L1658.3 1528.7 L1660.8 1527 L1663.2 1525.3 L1665.6 1523.5 L1668 1521.7 L1670.4 1519.8 L1672.8 1517.9 L1675.3 1515.9 L1677.7 1513.9 L1680.1 1511.8 L1682.5 1509.6 L1684.9 1507.4 L1687.3 1505.2 L1689.8 1502.9 L1692.2 1500.6 L1694.6 1498.2 L1697 1495.8 L1699.4 1493.3 L1701.8 1490.9 L1704.3 1488.4 L1706.7 1485.9 L1709.1 1483.4 L1711.5 1481 L1713.9 1478.6 L1716.3 1476.2 L1718.8 1473.9 L1721.2 1471.6 L1723.6 1469.5 L1726 1467.4 L1728.4 1465.4 L1730.8 1463.6 L1733.3 1461.8 L1735.7 1460.2 L1738.1 1458.7 L1740.5 1457.4 L1742.9 1456.2 L1745.4 1455.2 L1747.8 1454.3 L1750.2 1453.5 L1752.6 1453 L1755 1452.6 L1757.4 1452.3 L1759.9 1452.2 L1762.3 1452.3 L1764.7 1452.5 L1767.1 1452.8 L1769.5 1453.3 L1771.9 1453.9 L1774.4 1454.6 L1776.8 1455.5 L1779.2 1456.4 L1781.6 1457.4 L1784 1458.5 L1786.4 1459.7 L1788.9 1460.9 L1791.3 1462.2 L1793.7 1463.5 L1796.1 1464.8 L1798.5 1466.1 L1800.9 1467.4 L1803.4 1468.7 L1805.8 1470 L1808.2 1471.2 L1810.6 1472.4 L1813 1473.6 L1815.5 1474.7 L1817.9 1475.7 L1820.3 1476.7 L1822.7 1477.7 L1825.1 1478.6 L1827.5 1479.5 L1830 1480.3 L1832.4 1481.1 L1834.8 1481.8 L1837.2 1482.6 L1839.6 1483.3 L1842 1483.9 L1844.5 1484.6 L1846.9 1485.2 L1849.3 1485.8 L1851.7 1486.4 L1854.1 1487 L1856.5 1487.6 L1859 1488.1 L1861.4 1488.7 L1863.8 1489.3 L1866.2 1489.8 L1868.6 1490.4 L1871 1490.9 L1873.5 1491.5 L1875.9 1492 L1878.3 1492.6 L1880.7 1493.2 L1883.1 1493.7 L1885.5 1494.3 L1888 1494.9 L1890.4 1495.5 L1892.8 1496.1 L1895.2 1496.7 L1897.6 1497.3 L1900.1 1498 L1902.5 1498.6 L1904.9 1499.3 L1907.3 1499.9 L1909.7 1500.6 L1912.1 1501.3 L1914.6 1502 L1917 1502.7 L1919.4 1503.4 L1921.8 1504.1 L1924.2 1504.9 L1926.6 1505.6 L1929.1 1506.4 L1931.5 1507.2 L1933.9 1507.9 L1936.3 1508.7 L1938.7 1509.5 L1941.1 1510.4 L1943.6 1511.2 L1946 1512 L1948.4 1512.9 L1950.8 1513.7 L1953.2 1514.6 L1955.6 1515.5 L1958.1 1516.4 L1960.5 1517.3 L1962.9 1518.2 L1965.3 1519.1 L1967.7 1520 L1970.1 1520.9 L1972.6 1521.9 L1975 1522.8 L1977.4 1523.8 L1979.8 1524.7 L1982.2 1525.7 L1984.7 1526.7 L1987.1 1527.6 L1989.5 1528.6 L1991.9 1529.6 L1994.3 1530.6 L1996.7 1531.6 L1999.2 1532.6 L2001.6 1533.6 L2004 1534.6 L2006.4 1535.6 L2008.8 1536.6 L2011.2 1537.7 L2013.7 1538.7 L2016.1 1539.7 L2018.5 1540.7 L2020.9 1541.7 L2023.3 1542.7 L2025.7 1543.8 L2028.2 1544.8 L2030.6 1545.8 L2033 1546.8 L2035.4 1547.8 L2037.8 1548.8 L2040.2 1549.9 L2042.7 1550.9 L2045.1 1551.9 L2047.5 1552.9 L2049.9 1553.9 L2052.3 1554.9 L2054.7 1555.8 L2057.2 1556.8 L2059.6 1557.8 L2062 1558.8 L2062 1608 L2059.6 1608 L2057.2 1608 L2054.7 1608 L2052.3 1608 L2049.9 1608 L2047.5 1608 L2045.1 1608 L2042.7 1608 L2040.2 1608 L2037.8 1608 L2035.4 1608 L2033 1608 L2030.6 1608 L2028.2 1608 L2025.7 1608 L2023.3 1608 L2020.9 1608 L2018.5 1608 L2016.1 1608 L2013.7 1608 L2011.2 1608 L2008.8 1608 L2006.4 1608 L2004 1608 L2001.6 1608 L1999.2 1608 L1996.7 1608 L1994.3 1608 L1991.9 1608 L1989.5 1608 L1987.1 1608 L1984.7 1608 L1982.2 1608 L1979.8 1608 L1977.4 1608 L1975 1608 L1972.6 1608 L1970.1 1608 L1967.7 1608 L1965.3 1608 L1962.9 1608 L1960.5 1608 L1958.1 1608 L1955.6 1608 L1953.2 1608 L1950.8 1608 L1948.4 1608 L1946 1608 L1943.6 1608 L1941.1 1607.9 L1938.7 1607.9 L1936.3 1607.9 L1933.9 1607.9 L1931.5 1607.9 L1929.1 1607.9 L1926.6 1607.8 L1924.2 1607.8 L1921.8 1607.7 L1919.4 1607.7 L1917 1607.6 L1914.6 1607.6 L1912.1 1607.5 L1909.7 1607.4 L1907.3 1607.3 L1904.9 1607.1 L1902.5 1607 L1900.1 1606.8 L1897.6 1606.6 L1895.2 1606.4 L1892.8 1606.1 L1890.4 1605.8 L1888 1605.4 L1885.5 1605 L1883.1 1604.6 L1880.7 1604.1 L1878.3 1603.5 L1875.9 1602.9 L1873.5 1602.2 L1871 1601.4 L1868.6 1600.6 L1866.2 1599.7 L1863.8 1598.6 L1861.4 1597.5 L1859 1596.3 L1856.5 1595 L1854.1 1593.6 L1851.7 1592.1 L1849.3 1590.5 L1846.9 1588.8 L1844.5 1587 L1842 1585.1 L1839.6 1583.1 L1837.2 1581.1 L1834.8 1579 L1832.4 1576.8 L1830 1574.6 L1827.5 1572.3 L1825.1 1570.1 L1822.7 1567.8 L1820.3 1565.5 L1817.9 1563.3 L1815.5 1561.1 L1813 1558.9 L1810.6 1556.9 L1808.2 1554.9 L1805.8 1553 L1803.4 1551.2 L1800.9 1549.5 L1798.5 1547.9 L1796.1 1546.5 L1793.7 1545.2 L1791.3 1544 L1788.9 1542.9 L1786.4 1542 L1784 1541.2 L1781.6 1540.5 L1779.2 1539.9 L1776.8 1539.4 L1774.4 1539.1 L1771.9 1538.8 L1769.5 1538.7 L1767.1 1538.6 L1764.7 1538.6 L1762.3 1538.7 L1759.9 1539 L1757.4 1539.2 L1755 1539.6 L1752.6 1540.1 L1750.2 1540.6 L1747.8 1541.2 L1745.4 1541.8 L1742.9 1542.6 L1740.5 1543.4 L1738.1 1544.2 L1735.7 1545.2 L1733.3 1546.2 L1730.8 1547.3 L1728.4 1548.4 L1726 1549.6 L1723.6 1550.9 L1721.2 1552.2 L1718.8 1553.6 L1716.3 1555.1 L1713.9 1556.6 L1711.5 1558.2 L1709.1 1559.8 L1706.7 1561.5 L1704.3 1563.3 L1701.8 1565 L1699.4 1566.9 L1697 1568.7 L1694.6 1570.6 L1692.2 1572.5 L1689.8 1574.4 L1687.3 1576.3 L1684.9 1578.2 L1682.5 1580 L1680.1 1581.9 L1677.7 1583.7 L1675.3 1585.4 L1672.8 1587.1 L1670.4 1588.8 L1668 1590.3 L1665.6 1591.8 L1663.2 1593.2 L1660.8 1594.6 L1658.3 1595.8 L1655.9 1597 L1653.5 1598.1 L1651.1 1599.1 L1648.7 1600.1 L1646.2 1600.9 L1643.8 1601.7 L1641.4 1602.5 L1639 1603.1 L1636.6 1603.7 L1634.2 1604.2 L1631.7 1604.7 L1629.3 1605.1 L1626.9 1605.5 L1624.5 1605.8 L1622.1 1606.1 L1619.7 1606.4 L1617.2 1606.6 L1614.8 1606.8 L1612.4 1607 L1610 1607.1 L1607.6 1607.3 L1605.2 1607.4 L1602.7 1607.5 L1600.3 1607.6 L1597.9 1607.6 L1595.5 1607.7 L1593.1 1607.7 L1590.7 1607.8 L1588.2 1607.8 L1585.8 1607.9 L1583.4 1607.9 L1581 1607.9 L1578.6 1607.9 L1576.2 1607.9 L1573.7 1607.9 L1571.3 1608 L1568.9 1608 L1566.5 1608 L1564.1 1608 L1561.6 1608 L1559.2 1608 L1556.8 1608 L1554.4 1608 L1552 1608 L1549.6 1608 L1547.1 1608 L1544.7 1608 L1542.3 1608 L1539.9 1608 L1537.5 1608 L1535.1 1608 L1532.6 1608 L1530.2 1608 L1527.8 1608 L1525.4 1608 L1523 1608 L1520.6 1608 L1518.1 1608 L1515.7 1608 L1513.3 1608 L1510.9 1608 L1508.5 1608 L1506.1 1608 L1503.6 1608 L1501.2 1608 L1498.8 1608 L1496.4 1608 L1494 1608 L1491.6 1608 L1489.1 1608 L1486.7 1608 L1484.3 1608 Z" fill="#FF7F50" fill-opacity="0.2"/></g><path d="M2100 1187.2 H1461.7 V1627.5 H2100" fill="none" stroke="#000" stroke-width="5.5"/><text x="1459.6" y="1168.2" font-size="33.4" font-style="italic" textLength="115.5" lengthAdjust="spacingAndGlyphs">P. arion</text><line x1="1454.5" y1="1608" x2="1458.9" y2="1608" stroke="#333" stroke-width="1.4" /><text x="1451.4" y="1616.6" font-size="27" text-anchor="end" fill="#4D4D4D" textLength="48.5" lengthAdjust="spacingAndGlyphs">0.00</text><line x1="1454.5" y1="1501.3" x2="1458.9" y2="1501.3" stroke="#333" stroke-width="1.4" /><text x="1451.4" y="1509.9" font-size="27" text-anchor="end" fill="#4D4D4D" textLength="48.5" lengthAdjust="spacingAndGlyphs">0.25</text><line x1="1454.5" y1="1394.7" x2="1458.9" y2="1394.7" stroke="#333" stroke-width="1.4" /><text x="1451.4" y="1403.2" font-size="27" text-anchor="end" fill="#4D4D4D" textLength="48.5" lengthAdjust="spacingAndGlyphs">0.50</text><line x1="1454.5" y1="1288" x2="1458.9" y2="1288" stroke="#333" stroke-width="1.4" /><text x="1451.4" y="1296.6" font-size="27" text-anchor="end" fill="#4D4D4D" textLength="48.5" lengthAdjust="spacingAndGlyphs">0.75</text><line x1="1532" y1="1629.2" x2="1532" y2="1634.6" stroke="#333" stroke-width="1.4" /><text x="1532" y="1655.8" font-size="27" text-anchor="middle" fill="#4D4D4D" textLength="27.6" lengthAdjust="spacingAndGlyphs">15</text><line x1="1664.5" y1="1629.2" x2="1664.5" y2="1634.6" stroke="#333" stroke-width="1.4" /><text x="1664.5" y="1655.8" font-size="27" text-anchor="middle" fill="#4D4D4D" textLength="27.6" lengthAdjust="spacingAndGlyphs">20</text><line x1="1797" y1="1629.2" x2="1797" y2="1634.6" stroke="#333" stroke-width="1.4" /><text x="1797" y="1655.8" font-size="27" text-anchor="middle" fill="#4D4D4D" textLength="27.6" lengthAdjust="spacingAndGlyphs">25</text><line x1="1929.5" y1="1629.2" x2="1929.5" y2="1634.6" stroke="#333" stroke-width="1.4" /><text x="1929.5" y="1655.8" font-size="27" text-anchor="middle" fill="#4D4D4D" textLength="27.6" lengthAdjust="spacingAndGlyphs">30</text><text x="1744.2" y="1688.3" font-size="33.4" text-anchor="middle">Temperature</text><text x="1390.4" y="1407.5" font-size="33.4" text-anchor="middle" transform="rotate(-90 1390.4 1407.5)">Probability of presence</text><text x="1517.6" y="1233.4" font-size="19.4" textLength="63.5" lengthAdjust="spacingAndGlyphs">Season</text><rect x="1517.4" y="1244.5" width="29.3" height="27.6" fill="#f2f2f2"/><rect x="1517.4" y="1244.5" width="29.3" height="27.6" fill="#7AC5CD" fill-opacity="0.2"/><rect x="1519.2" y="1254.8" width="25.5" height="7.2" fill="#7AC5CD"/><text x="1555.5" y="1264.3" font-size="19.4" textLength="73.9" lengthAdjust="spacingAndGlyphs">beginning</text><rect x="1517.4" y="1273.9" width="29.3" height="27.6" fill="#f2f2f2"/><rect x="1517.4" y="1273.9" width="29.3" height="27.6" fill="#838B8B" fill-opacity="0.2"/><rect x="1519.2" y="1284.2" width="25.5" height="7.2" fill="#838B8B"/><text x="1555.5" y="1293.7" font-size="19.4" textLength="50.3" lengthAdjust="spacingAndGlyphs">middle</text><rect x="1517.4" y="1303" width="29.3" height="27.6" fill="#f2f2f2"/><rect x="1517.4" y="1303" width="29.3" height="27.6" fill="#FF7F50" fill-opacity="0.2"/><rect x="1519.2" y="1313.3" width="25.5" height="7.2" fill="#FF7F50"/><text x="1555.5" y="1322.8" font-size="19.4" textLength="28.5" lengthAdjust="spacingAndGlyphs">end</text>
<g clip-path="url(#clipC)"><path d="M239.4 1899 L242.4 1899 L245.4 1899 L248.4 1899 L251.4 1899 L254.4 1899 L257.4 1899 L260.4 1899 L263.4 1899 L266.4 1899 L269.4 1899 L272.4 1899 L275.4 1899 L278.4 1899 L281.4 1899 L284.4 1899 L287.4 1899 L290.4 1899 L293.4 1899 L296.4 1899 L299.4 1899 L302.4 1899 L305.4 1899 L308.4 1899 L311.4 1899 L314.4 1899 L317.4 1899 L320.4 1899 L323.4 1899 L326.4 1899 L329.4 1899 L332.4 1899 L335.4 1899 L338.4 1899 L341.4 1899 L344.4 1899 L347.4 1899 L350.4 1899 L353.4 1899 L356.4 1899 L359.4 1899 L362.4 1899 L365.4 1899 L368.4 1899 L371.4 1899 L374.4 1899 L377.4 1899 L380.4 1899 L383.4 1899 L386.4 1899 L389.4 1899 L392.4 1899 L395.4 1899 L398.4 1899 L401.4 1899 L404.4 1899 L407.4 1899 L410.4 1899 L413.4 1899 L416.4 1899 L419.4 1899 L422.4 1899 L425.4 1899 L428.4 1899 L431.4 1899 L434.4 1899 L437.4 1899 L440.4 1899 L443.4 1899 L446.4 1899 L449.4 1899 L452.4 1899 L455.4 1899 L458.4 1899 L461.4 1899 L464.4 1899 L467.4 1899 L470.4 1899 L473.4 1899 L476.4 1899 L479.4 1899 L482.4 1899 L485.4 1898.9 L488.4 1898.9 L491.4 1898.7 L494.4 1898.6 L497.4 1898.3 L500.4 1898.1 L503.4 1897.8 L506.4 1897.4 L509.4 1897.1 L512.4 1896.7 L515.4 1896.4 L518.4 1896.1 L521.4 1895.8 L524.4 1895.4 L527.4 1895.1 L530.4 1894.8 L533.4 1894.5 L536.4 1894.1 L539.4 1893.8 L542.4 1893.4 L545.4 1893.1 L548.4 1892.8 L551.4 1892.4 L554.4 1892.1 L557.4 1891.7 L560.4 1891.4 L563.4 1891.1 L566.4 1890.8 L569.4 1890.4 L572.4 1890.1 L575.4 1889.8 L578.4 1889.5 L581.4 1889.2 L584.4 1888.9 L587.4 1888.6 L590.4 1888.3 L593.4 1888 L596.4 1887.7 L599.4 1887.4 L602.4 1887.1 L605.4 1886.8 L608.4 1886.5 L611.4 1886.2 L614.4 1885.9 L617.4 1885.7 L620.4 1885.4 L623.4 1885.1 L626.4 1884.8 L629.4 1884.5 L632.4 1884.2 L635.4 1883.9 L638.4 1883.5 L641.4 1883.2 L644.4 1882.9 L647.4 1882.6 L650.4 1882.3 L653.4 1882 L656.4 1881.7 L659.4 1881.4 L662.4 1881.2 L665.4 1881 L668.4 1880.8 L671.4 1880.6 L674.4 1880.4 L677.4 1880.3 L680.4 1880.1 L683.4 1880 L686.4 1879.9 L689.4 1879.8 L692.4 1879.7 L695.4 1879.6 L698.4 1879.5 L701.4 1879.4 L704.4 1879.3 L707.4 1879.2 L710.4 1879.1 L713.4 1879.1 L716.4 1879 L719.4 1878.9 L722.4 1878.9 L725.4 1878.8 L728.4 1878.8 L731.4 1878.8 L734.4 1878.7 L737.4 1878.7 L740.4 1878.7 L743.4 1878.7 L746.4 1878.7 L749.4 1878.6 L752.4 1878.6 L755.4 1878.6 L758.4 1878.6 L761.4 1878.6 L764.4 1878.6 L767.4 1878.5 L770.4 1878.5 L773.4 1878.5 L776.4 1878.4 L779.4 1878.4 L782.4 1878.3 L785.4 1878.2 L788.4 1878.1 L791.4 1877.9 L794.4 1877.7 L797.4 1877.5 L800.4 1877.3 L803.4 1877 L806.4 1876.7 L809.4 1876.3 L812.4 1875.9 L815.4 1875.4 L818.4 1874.9 L821.4 1874.4 L824.4 1873.9 L827.4 1873.3 L830.4 1872.8 L833.4 1872.2 L836.4 1871.5 L839.4 1870.9 L842.4 1870.2 L845.4 1869.6 L848.4 1868.9 L851.4 1868.1 L854.4 1867.4 L857.4 1866.6 L860.4 1865.9 L863.4 1865.1 L866.4 1864.2 L869.4 1863.4 L872.4 1862.6 L875.4 1861.7 L878.4 1860.8 L881.4 1859.9 L884.4 1858.9 L887.4 1858 L890.4 1857 L893.4 1856 L896.4 1854.9 L899.4 1853.9 L902.4 1852.8 L905.4 1851.7 L908.4 1850.5 L911.4 1849.3 L914.4 1848.1 L917.4 1846.9 L920.4 1845.6 L923.4 1844.2 L926.4 1842.9 L929.4 1841.5 L932.4 1840.1 L935.4 1838.7 L938.4 1837.3 L941.4 1835.8 L944.4 1834.4 L947.4 1832.9 L950.4 1831.5 L953.4 1830 L956.4 1828.4 L959.4 1826.9 L962.4 1825.3 L965.4 1823.7 L968.4 1822 L971.4 1820.3 L974.4 1818.6 L977.4 1816.8 L980.4 1815 L983.4 1813.2 L986.4 1811.4 L989.4 1809.5 L992.4 1807.6 L995.4 1805.6 L998.4 1803.6 L1001.4 1801.6 L1004.4 1799.6 L1007.4 1797.5 L1010.4 1795.4 L1013.4 1793.2 L1016.4 1791.1 L1019.4 1788.9 L1022.4 1786.7 L1025.4 1784.5 L1028.4 1782.2 L1031.4 1779.9 L1034.4 1777.6 L1037.4 1775.4 L1040.4 1773.1 L1043.4 1770.9 L1046.4 1768.7 L1049.4 1766.5 L1052.4 1764.4 L1055.4 1762.4 L1058.4 1760.3 L1061.4 1758.4 L1064.4 1756.4 L1067.4 1754.5 L1070.4 1752.6 L1073.4 1750.8 L1076.4 1748.9 L1079.4 1747.1 L1082.4 1745.4 L1085.4 1743.6 L1088.4 1741.9 L1091.4 1740.3 L1094.4 1738.6 L1097.4 1737.1 L1100.4 1735.5 L1103.4 1734.1 L1106.4 1732.6 L1109.4 1731.2 L1112.4 1729.9 L1115.4 1728.6 L1118.4 1727.4 L1121.4 1726.2 L1124.4 1725.1 L1127.4 1724 L1130.4 1723.1 L1133.4 1722.2 L1136.4 1721.4 L1139.4 1720.7 L1142.4 1719.9 L1145.4 1719.3 L1148.4 1718.7 L1151.4 1718.2 L1154.4 1717.8 L1157.4 1717.5 L1160.4 1717.3 L1163.4 1717.2 L1166.4 1717 L1169.4 1717 L1172.4 1716.9 L1175.4 1716.8 L1178.4 1716.8 L1181.4 1716.7 L1184.4 1716.6 L1187.4 1716.6 L1190.4 1716.6 L1193.4 1716.5 L1196.4 1716.5 L1199.4 1716.5 L1202.4 1716.4 L1205.4 1716.4 L1208.4 1716.4 L1211.4 1716.4 L1214.4 1716.4 L1217.4 1716.4 L1220.4 1716.5 L1223.4 1716.5 L1226.4 1716.6 L1229.4 1716.7 L1232.4 1716.8 L1235.4 1716.9 L1238.4 1717.1 L1241.4 1717.2 L1244.4 1717.4 L1247.4 1717.6 L1250.4 1717.8 L1253.4 1718 L1256.4 1718.2 L1259.4 1718.4 L1262.4 1718.7 L1265.4 1718.9 L1268.4 1719.2 L1271.4 1719.5 L1274.4 1719.8 L1277.4 1720.2 L1280.4 1720.6 L1283.4 1721.1 L1286.4 1721.6 L1289.4 1722.1 L1292.4 1722.7 L1295.4 1723.3 L1298.4 1723.9 L1301.4 1724.5 L1304.4 1725.2 L1307.4 1725.9 L1310.4 1726.6 L1313.4 1727.3 L1316.4 1728.1 L1319.4 1728.9 L1322.4 1729.8 L1325.4 1730.7 L1328.4 1731.6 L1331.4 1732.6 L1334.4 1733.6 L1337.4 1734.6 L1340.4 1735.7 L1343.4 1736.8 L1346.4 1737.9 L1349.4 1739 L1352.4 1740.2 L1355.4 1741.5 L1358.4 1742.7 L1361.4 1744 L1364.4 1745.3 L1367.4 1746.7 L1370.4 1748.1 L1373.4 1749.5 L1376.4 1750.9 L1379.4 1752.4 L1382.4 1753.9 L1385.4 1755.4 L1388.4 1757 L1391.4 1758.6 L1394.4 1760.2 L1397.4 1761.9 L1400.4 1763.6 L1403.4 1765.4 L1406.4 1767.1 L1409.4 1768.9 L1412.4 1770.8 L1415.4 1772.6 L1418.4 1774.5 L1421.4 1776.5 L1424.4 1778.5 L1427.4 1780.5 L1430.4 1782.6 L1433.4 1784.7 L1436.4 1786.8 L1439.4 1788.9 L1442.4 1791.1 L1445.4 1793.2 L1448.4 1795.3 L1451.4 1797.5 L1454.4 1799.6 L1457.4 1801.7 L1460.4 1803.8 L1463.4 1805.9 L1466.4 1807.9 L1469.4 1810 L1472.4 1812.1 L1475.4 1814.2 L1478.4 1816.4 L1481.4 1818.5 L1484.4 1820.7 L1487.4 1822.8 L1490.4 1824.9 L1493.4 1826.9 L1496.4 1828.8 L1499.4 1830.6 L1502.4 1832.3 L1505.4 1833.8 L1508.4 1835.3 L1511.4 1836.7 L1514.4 1838 L1517.4 1839.3 L1520.4 1840.6 L1523.4 1841.9 L1526.4 1843.1 L1529.4 1844.4 L1532.4 1845.6 L1535.4 1846.8 L1538.4 1848 L1541.4 1849.2 L1544.4 1850.3 L1547.4 1851.5 L1550.4 1852.6 L1553.4 1853.7 L1556.4 1854.9 L1559.4 1856 L1562.4 1857 L1565.4 1858.1 L1568.4 1859.1 L1571.4 1860 L1574.4 1860.9 L1577.4 1861.7 L1580.4 1862.5 L1583.4 1863.3 L1586.4 1864 L1589.4 1864.7 L1592.4 1865.3 L1595.4 1866 L1598.4 1866.6 L1601.4 1867.3 L1604.4 1867.9 L1607.4 1868.5 L1610.4 1869.1 L1613.4 1869.6 L1616.4 1870.2 L1619.4 1870.8 L1622.4 1871.3 L1625.4 1871.9 L1628.4 1872.4 L1631.4 1872.9 L1634.4 1873.5 L1637.4 1874 L1640.4 1874.5 L1643.4 1875.1 L1646.4 1875.6 L1649.4 1876.1 L1652.4 1876.6 L1655.4 1877.1 L1658.4 1877.7 L1661.4 1878.2 L1664.4 1878.7 L1667.4 1879.2 L1670.4 1879.7 L1673.4 1880.2 L1676.4 1880.7 L1679.4 1881.2 L1682.4 1881.7 L1685.4 1882.2 L1688.4 1882.6 L1691.4 1883.1 L1694.4 1883.6 L1697.4 1884 L1700.4 1884.5 L1703.4 1884.9 L1706.4 1885.3 L1709.4 1885.8 L1712.4 1886.2 L1715.4 1886.6 L1718.4 1887.1 L1721.4 1887.5 L1724.4 1887.9 L1727.4 1888.3 L1730.4 1888.7 L1733.4 1889.1 L1736.4 1889.5 L1739.4 1889.8 L1742.4 1890.2 L1745.4 1890.6 L1748.4 1890.9 L1751.4 1891.3 L1754.4 1891.6 L1757.4 1891.9 L1760.4 1892.3 L1763.4 1892.6 L1766.4 1892.9 L1769.4 1893.3 L1772.4 1893.6 L1775.4 1893.9 L1778.4 1894.2 L1781.4 1894.5 L1784.4 1894.8 L1787.4 1895 L1790.4 1895.3 L1793.4 1895.6 L1796.4 1895.8 L1799.4 1896 L1802.4 1896.3 L1805.4 1896.5 L1808.4 1896.8 L1811.4 1897 L1814.4 1897.2 L1817.4 1897.4 L1820.4 1897.6 L1823.4 1897.8 L1826.4 1897.9 L1829.4 1898 L1832.4 1898.1 L1835.4 1898.2 L1838.4 1898.3 L1841.4 1898.3 L1844.4 1898.3 L1847.4 1898.4 L1850.4 1898.4 L1853.4 1898.5 L1856.4 1898.5 L1859.4 1898.5 L1862.4 1898.6 L1865.4 1898.6 L1868.4 1898.6 L1871.4 1898.7 L1874.4 1898.7 L1877.4 1898.7 L1880.4 1898.7 L1883.4 1898.8 L1886.4 1898.8 L1889.4 1898.8 L1892.4 1898.8 L1895.4 1898.8 L1898.4 1898.9 L1901.4 1898.9 L1904.4 1898.9 L1907.4 1898.9 L1910.4 1898.9 L1913.4 1898.9 L1916.4 1898.9 L1919.4 1899 L1922.4 1899 L1925.4 1899 L1928.4 1899 L1931.4 1899 L1934.4 1899 L1937.4 1899 L1940.4 1899 L1943.4 1899 L1944.4 1899 L1944.4 1899.3 L239.4 1899.3 Z" fill="#FFB14E"/><path d="M239.4 1899 L242.4 1899 L245.4 1899 L248.4 1899 L251.4 1899 L254.4 1899 L257.4 1899 L260.4 1899 L263.4 1899 L266.4 1899 L269.4 1899 L272.4 1899 L275.4 1899 L278.4 1899 L281.4 1899 L284.4 1899 L287.4 1899 L290.4 1899 L293.4 1899 L296.4 1899 L299.4 1899 L302.4 1899 L305.4 1899 L308.4 1899 L311.4 1899 L314.4 1899 L317.4 1899 L320.4 1899 L323.4 1899 L326.4 1899 L329.4 1899 L332.4 1899 L335.4 1899 L338.4 1899 L341.4 1899 L344.4 1899 L347.4 1899 L350.4 1899 L353.4 1899 L356.4 1899 L359.4 1899 L362.4 1899 L365.4 1899 L368.4 1899 L371.4 1899 L374.4 1899 L377.4 1899 L380.4 1899 L383.4 1899 L386.4 1899 L389.4 1899 L392.4 1899 L395.4 1899 L398.4 1899 L401.4 1899 L404.4 1899 L407.4 1899 L410.4 1899 L413.4 1899 L416.4 1899 L419.4 1899 L422.4 1899 L425.4 1899 L428.4 1899 L431.4 1899 L434.4 1899 L437.4 1899 L440.4 1899 L443.4 1899 L446.4 1899 L449.4 1899 L452.4 1899 L455.4 1899 L458.4 1899 L461.4 1899 L464.4 1899 L467.4 1899 L470.4 1899 L473.4 1899 L476.4 1899 L479.4 1899 L482.4 1899 L485.4 1898.9 L488.4 1898.9 L491.4 1898.7 L494.4 1898.6 L497.4 1898.3 L500.4 1898.1 L503.4 1897.8 L506.4 1897.4 L509.4 1897.1 L512.4 1896.7 L515.4 1896.4 L518.4 1896.1 L521.4 1895.8 L524.4 1895.4 L527.4 1895.1 L530.4 1894.8 L533.4 1894.5 L536.4 1894.1 L539.4 1893.8 L542.4 1893.4 L545.4 1893.1 L548.4 1892.8 L551.4 1892.4 L554.4 1892.1 L557.4 1891.7 L560.4 1891.4 L563.4 1891.1 L566.4 1890.8 L569.4 1890.4 L572.4 1890.1 L575.4 1889.8 L578.4 1889.5 L581.4 1889.2 L584.4 1888.9 L587.4 1888.6 L590.4 1888.3 L593.4 1888 L596.4 1887.7 L599.4 1887.4 L602.4 1887.1 L605.4 1886.8 L608.4 1886.5 L611.4 1886.2 L614.4 1885.9 L617.4 1885.7 L620.4 1885.4 L623.4 1885.1 L626.4 1884.8 L629.4 1884.5 L632.4 1884.2 L635.4 1883.9 L638.4 1883.5 L641.4 1883.2 L644.4 1882.9 L647.4 1882.6 L650.4 1882.3 L653.4 1882 L656.4 1881.7 L659.4 1881.4 L662.4 1881.2 L665.4 1881 L668.4 1880.8 L671.4 1880.6 L674.4 1880.4 L677.4 1880.3 L680.4 1880.1 L683.4 1880 L686.4 1879.9 L689.4 1879.8 L692.4 1879.7 L695.4 1879.6 L698.4 1879.5 L701.4 1879.4 L704.4 1879.3 L707.4 1879.2 L710.4 1879.1 L713.4 1879.1 L716.4 1879 L719.4 1878.9 L722.4 1878.9 L725.4 1878.8 L728.4 1878.8 L731.4 1878.8 L734.4 1878.7 L737.4 1878.7 L740.4 1878.7 L743.4 1878.7 L746.4 1878.7 L749.4 1878.6 L752.4 1878.6 L755.4 1878.6 L758.4 1878.6 L761.4 1878.6 L764.4 1878.6 L767.4 1878.5 L770.4 1878.5 L773.4 1878.5 L776.4 1878.4 L779.4 1878.4 L782.4 1878.3 L785.4 1878.2 L788.4 1878.1 L791.4 1877.9 L794.4 1877.7 L797.4 1877.5 L800.4 1877.3 L803.4 1877 L806.4 1876.7 L809.4 1876.3 L812.4 1875.9 L815.4 1875.4 L818.4 1874.9 L821.4 1874.4 L824.4 1873.9 L827.4 1873.3 L830.4 1872.8 L833.4 1872.2 L836.4 1871.5 L839.4 1870.9 L842.4 1870.2 L845.4 1869.6 L848.4 1868.9 L851.4 1868.1 L854.4 1867.4 L857.4 1866.6 L860.4 1865.9 L863.4 1865.1 L866.4 1864.2 L869.4 1863.4 L872.4 1862.6 L875.4 1861.7 L878.4 1860.8 L881.4 1859.9 L884.4 1858.9 L887.4 1858 L890.4 1857 L893.4 1856 L896.4 1854.9 L899.4 1853.9 L902.4 1852.8 L905.4 1851.7 L908.4 1850.5 L911.4 1849.3 L914.4 1848.1 L917.4 1846.9 L920.4 1845.6 L923.4 1844.2 L926.4 1842.9 L929.4 1841.5 L932.4 1840.1 L935.4 1838.7 L938.4 1837.3 L941.4 1835.8 L944.4 1834.4 L947.4 1832.9 L950.4 1831.5 L953.4 1830 L956.4 1828.4 L959.4 1826.9 L962.4 1825.3 L965.4 1823.7 L968.4 1822 L971.4 1820.3 L974.4 1818.6 L977.4 1816.8 L980.4 1815 L983.4 1813.2 L986.4 1811.4 L989.4 1809.5 L992.4 1807.6 L995.4 1805.6 L998.4 1803.6 L1001.4 1801.6 L1004.4 1799.6 L1007.4 1797.5 L1010.4 1795.4 L1013.4 1793.2 L1016.4 1791.1 L1019.4 1788.9 L1022.4 1786.7 L1025.4 1784.5 L1028.4 1782.2 L1031.4 1779.9 L1034.4 1777.6 L1037.4 1775.4 L1040.4 1773.1 L1043.4 1770.9 L1046.4 1768.7 L1049.4 1766.5 L1052.4 1764.4 L1055.4 1762.4 L1058.4 1760.3 L1061.4 1758.4 L1064.4 1756.4 L1067.4 1754.5 L1070.4 1752.6 L1073.4 1750.8 L1076.4 1748.9 L1079.4 1747.1 L1082.4 1745.4 L1085.4 1743.6 L1088.4 1741.9 L1091.4 1740.3 L1094.4 1738.6 L1097.4 1737.1 L1100.4 1735.5 L1103.4 1734.1 L1106.4 1732.6 L1109.4 1731.2 L1112.4 1729.9 L1115.4 1728.6 L1118.4 1727.4 L1121.4 1726.2 L1124.4 1725.1 L1127.4 1724 L1130.4 1723.1 L1133.4 1722.2 L1136.4 1721.4 L1139.4 1720.7 L1142.4 1719.9 L1145.4 1719.3 L1148.4 1718.7 L1151.4 1718.2 L1154.4 1717.8 L1157.4 1717.5 L1160.4 1717.3 L1163.4 1717.2 L1166.4 1717 L1169.4 1717 L1172.4 1716.9 L1175.4 1716.8 L1178.4 1716.8 L1181.4 1716.7 L1184.4 1716.6 L1187.4 1716.6 L1190.4 1716.6 L1193.4 1716.5 L1196.4 1716.5 L1199.4 1716.5 L1202.4 1716.4 L1205.4 1716.4 L1208.4 1716.4 L1211.4 1716.4 L1214.4 1716.4 L1217.4 1716.4 L1220.4 1716.5 L1223.4 1716.5 L1226.4 1716.6 L1229.4 1716.7 L1232.4 1716.8 L1235.4 1716.9 L1238.4 1717.1 L1241.4 1717.2 L1244.4 1717.4 L1247.4 1717.6 L1250.4 1717.8 L1253.4 1718 L1256.4 1718.2 L1259.4 1718.4 L1262.4 1718.7 L1265.4 1718.9 L1268.4 1719.2 L1271.4 1719.5 L1274.4 1719.8 L1277.4 1720.2 L1280.4 1720.6 L1283.4 1721.1 L1286.4 1721.6 L1289.4 1722.1 L1292.4 1722.7 L1295.4 1723.3 L1298.4 1723.9 L1301.4 1724.5 L1304.4 1725.2 L1307.4 1725.9 L1310.4 1726.6 L1313.4 1727.3 L1316.4 1728.1 L1319.4 1728.9 L1322.4 1729.8 L1325.4 1730.7 L1328.4 1731.6 L1331.4 1732.6 L1334.4 1733.6 L1337.4 1734.6 L1340.4 1735.7 L1343.4 1736.8 L1346.4 1737.9 L1349.4 1739 L1352.4 1740.2 L1355.4 1741.5 L1358.4 1742.7 L1361.4 1744 L1364.4 1745.3 L1367.4 1746.7 L1370.4 1748.1 L1373.4 1749.5 L1376.4 1750.9 L1379.4 1752.4 L1382.4 1753.9 L1385.4 1755.4 L1388.4 1757 L1391.4 1758.6 L1394.4 1760.2 L1397.4 1761.9 L1400.4 1763.6 L1403.4 1765.4 L1406.4 1767.1 L1409.4 1768.9 L1412.4 1770.8 L1415.4 1772.6 L1418.4 1774.5 L1421.4 1776.5 L1424.4 1778.5 L1427.4 1780.5 L1430.4 1782.6 L1433.4 1784.7 L1436.4 1786.8 L1439.4 1788.9 L1442.4 1791.1 L1445.4 1793.2 L1448.4 1795.3 L1451.4 1797.5 L1454.4 1799.6 L1457.4 1801.7 L1460.4 1803.8 L1463.4 1805.9 L1466.4 1807.9 L1469.4 1810 L1472.4 1812.1 L1475.4 1814.2 L1478.4 1816.4 L1481.4 1818.5 L1484.4 1820.7 L1487.4 1822.8 L1490.4 1824.9 L1493.4 1826.9 L1496.4 1828.8 L1499.4 1830.6 L1502.4 1832.3 L1505.4 1833.8 L1508.4 1835.3 L1511.4 1836.7 L1514.4 1838 L1517.4 1839.3 L1520.4 1840.6 L1523.4 1841.9 L1526.4 1843.1 L1529.4 1844.4 L1532.4 1845.6 L1535.4 1846.8 L1538.4 1848 L1541.4 1849.2 L1544.4 1850.3 L1547.4 1851.5 L1550.4 1852.6 L1553.4 1853.7 L1556.4 1854.9 L1559.4 1856 L1562.4 1857 L1565.4 1858.1 L1568.4 1859.1 L1571.4 1860 L1574.4 1860.9 L1577.4 1861.7 L1580.4 1862.5 L1583.4 1863.3 L1586.4 1864 L1589.4 1864.7 L1592.4 1865.3 L1595.4 1866 L1598.4 1866.6 L1601.4 1867.3 L1604.4 1867.9 L1607.4 1868.5 L1610.4 1869.1 L1613.4 1869.6 L1616.4 1870.2 L1619.4 1870.8 L1622.4 1871.3 L1625.4 1871.9 L1628.4 1872.4 L1631.4 1872.9 L1634.4 1873.5 L1637.4 1874 L1640.4 1874.5 L1643.4 1875.1 L1646.4 1875.6 L1649.4 1876.1 L1652.4 1876.6 L1655.4 1877.1 L1658.4 1877.7 L1661.4 1878.2 L1664.4 1878.7 L1667.4 1879.2 L1670.4 1879.7 L1673.4 1880.2 L1676.4 1880.7 L1679.4 1881.2 L1682.4 1881.7 L1685.4 1882.2 L1688.4 1882.6 L1691.4 1883.1 L1694.4 1883.6 L1697.4 1884 L1700.4 1884.5 L1703.4 1884.9 L1706.4 1885.3 L1709.4 1885.8 L1712.4 1886.2 L1715.4 1886.6 L1718.4 1887.1 L1721.4 1887.5 L1724.4 1887.9 L1727.4 1888.3 L1730.4 1888.7 L1733.4 1889.1 L1736.4 1889.5 L1739.4 1889.8 L1742.4 1890.2 L1745.4 1890.6 L1748.4 1890.9 L1751.4 1891.3 L1754.4 1891.6 L1757.4 1891.9 L1760.4 1892.3 L1763.4 1892.6 L1766.4 1892.9 L1769.4 1893.3 L1772.4 1893.6 L1775.4 1893.9 L1778.4 1894.2 L1781.4 1894.5 L1784.4 1894.8 L1787.4 1895 L1790.4 1895.3 L1793.4 1895.6 L1796.4 1895.8 L1799.4 1896 L1802.4 1896.3 L1805.4 1896.5 L1808.4 1896.8 L1811.4 1897 L1814.4 1897.2 L1817.4 1897.4 L1820.4 1897.6 L1823.4 1897.8 L1826.4 1897.9 L1829.4 1898 L1832.4 1898.1 L1835.4 1898.2 L1838.4 1898.3 L1841.4 1898.3 L1844.4 1898.3 L1847.4 1898.4 L1850.4 1898.4 L1853.4 1898.5 L1856.4 1898.5 L1859.4 1898.5 L1862.4 1898.6 L1865.4 1898.6 L1868.4 1898.6 L1871.4 1898.7 L1874.4 1898.7 L1877.4 1898.7 L1880.4 1898.7 L1883.4 1898.8 L1886.4 1898.8 L1889.4 1898.8 L1892.4 1898.8 L1895.4 1898.8 L1898.4 1898.9 L1901.4 1898.9 L1904.4 1898.9 L1907.4 1898.9 L1910.4 1898.9 L1913.4 1898.9 L1916.4 1898.9 L1919.4 1899 L1922.4 1899 L1925.4 1899 L1928.4 1899 L1931.4 1899 L1934.4 1899 L1937.4 1899 L1940.4 1899 L1943.4 1899 L1944.4 1899" fill="none" stroke="#000" stroke-width="1.7" stroke-linejoin="round"/><path d="M239.4 2013.4 L242.4 2013.4 L245.4 2013.4 L248.4 2013.4 L251.4 2013.4 L254.4 2013.4 L257.4 2013.4 L260.4 2013.4 L263.4 2013.4 L266.4 2013.4 L269.4 2013.4 L272.4 2013.4 L275.4 2013.4 L278.4 2013.4 L281.4 2013.4 L284.4 2013.4 L287.4 2013.4 L290.4 2013.4 L293.4 2013.4 L296.4 2013.4 L299.4 2013.4 L302.4 2013.4 L305.4 2013.4 L308.4 2013.4 L311.4 2013.4 L314.4 2013.4 L317.4 2013.4 L320.4 2013.4 L323.4 2013.4 L326.4 2013.4 L329.4 2013.4 L332.4 2013.4 L335.4 2013.4 L338.4 2013.4 L341.4 2013.3 L344.4 2013.3 L347.4 2013.2 L350.4 2013.1 L353.4 2013 L356.4 2012.9 L359.4 2012.8 L362.4 2012.6 L365.4 2012.4 L368.4 2012.2 L371.4 2012 L374.4 2011.8 L377.4 2011.6 L380.4 2011.4 L383.4 2011.1 L386.4 2010.9 L389.4 2010.7 L392.4 2010.5 L395.4 2010.3 L398.4 2010.1 L401.4 2009.9 L404.4 2009.7 L407.4 2009.5 L410.4 2009.3 L413.4 2009.1 L416.4 2008.9 L419.4 2008.7 L422.4 2008.5 L425.4 2008.3 L428.4 2008.1 L431.4 2007.9 L434.4 2007.7 L437.4 2007.5 L440.4 2007.3 L443.4 2007.1 L446.4 2006.9 L449.4 2006.8 L452.4 2006.6 L455.4 2006.5 L458.4 2006.3 L461.4 2006.2 L464.4 2006.1 L467.4 2006 L470.4 2005.9 L473.4 2005.8 L476.4 2005.7 L479.4 2005.6 L482.4 2005.6 L485.4 2005.5 L488.4 2005.4 L491.4 2005.4 L494.4 2005.3 L497.4 2005.2 L500.4 2005.2 L503.4 2005.1 L506.4 2005.1 L509.4 2005 L512.4 2005 L515.4 2004.9 L518.4 2004.9 L521.4 2004.8 L524.4 2004.8 L527.4 2004.7 L530.4 2004.7 L533.4 2004.6 L536.4 2004.5 L539.4 2004.5 L542.4 2004.4 L545.4 2004.4 L548.4 2004.3 L551.4 2004.3 L554.4 2004.2 L557.4 2004.2 L560.4 2004.1 L563.4 2004.1 L566.4 2004.1 L569.4 2004 L572.4 2004 L575.4 2003.9 L578.4 2003.9 L581.4 2003.8 L584.4 2003.8 L587.4 2003.7 L590.4 2003.6 L593.4 2003.5 L596.4 2003.5 L599.4 2003.4 L602.4 2003.3 L605.4 2003.1 L608.4 2003 L611.4 2002.8 L614.4 2002.6 L617.4 2002.4 L620.4 2002.2 L623.4 2001.9 L626.4 2001.7 L629.4 2001.4 L632.4 2001.1 L635.4 2000.8 L638.4 2000.5 L641.4 2000.1 L644.4 1999.8 L647.4 1999.4 L650.4 1999.1 L653.4 1998.7 L656.4 1998.3 L659.4 1997.8 L662.4 1997.4 L665.4 1997 L668.4 1996.5 L671.4 1995.9 L674.4 1995.4 L677.4 1994.7 L680.4 1994 L683.4 1993.3 L686.4 1992.5 L689.4 1991.7 L692.4 1990.9 L695.4 1990 L698.4 1989.1 L701.4 1988.1 L704.4 1987.2 L707.4 1986.2 L710.4 1985.2 L713.4 1984.2 L716.4 1983.2 L719.4 1982.2 L722.4 1981.2 L725.4 1980.2 L728.4 1979.2 L731.4 1978.2 L734.4 1977.2 L737.4 1976.2 L740.4 1975.1 L743.4 1974.1 L746.4 1973 L749.4 1971.9 L752.4 1970.8 L755.4 1969.7 L758.4 1968.6 L761.4 1967.5 L764.4 1966.3 L767.4 1965.1 L770.4 1964 L773.4 1962.8 L776.4 1961.6 L779.4 1960.5 L782.4 1959.3 L785.4 1958.1 L788.4 1957 L791.4 1955.8 L794.4 1954.6 L797.4 1953.5 L800.4 1952.3 L803.4 1951.1 L806.4 1949.9 L809.4 1948.7 L812.4 1947.5 L815.4 1946.2 L818.4 1945 L821.4 1943.7 L824.4 1942.5 L827.4 1941.2 L830.4 1940 L833.4 1938.7 L836.4 1937.5 L839.4 1936.3 L842.4 1935.2 L845.4 1934 L848.4 1932.9 L851.4 1931.8 L854.4 1930.8 L857.4 1929.8 L860.4 1928.9 L863.4 1928 L866.4 1927.2 L869.4 1926.4 L872.4 1925.6 L875.4 1924.8 L878.4 1924.1 L881.4 1923.4 L884.4 1922.7 L887.4 1922.1 L890.4 1921.4 L893.4 1920.8 L896.4 1920.2 L899.4 1919.6 L902.4 1919 L905.4 1918.4 L908.4 1917.8 L911.4 1917.2 L914.4 1916.6 L917.4 1916 L920.4 1915.5 L923.4 1914.9 L926.4 1914.3 L929.4 1913.7 L932.4 1913.1 L935.4 1912.5 L938.4 1911.9 L941.4 1911.3 L944.4 1910.8 L947.4 1910.2 L950.4 1909.6 L953.4 1909.1 L956.4 1908.5 L959.4 1908 L962.4 1907.4 L965.4 1906.9 L968.4 1906.3 L971.4 1905.8 L974.4 1905.2 L977.4 1904.6 L980.4 1904.1 L983.4 1903.5 L986.4 1902.9 L989.4 1902.3 L992.4 1901.6 L995.4 1901 L998.4 1900.3 L1001.4 1899.6 L1004.4 1898.9 L1007.4 1898.2 L1010.4 1897.4 L1013.4 1896.7 L1016.4 1895.9 L1019.4 1895.1 L1022.4 1894.3 L1025.4 1893.4 L1028.4 1892.6 L1031.4 1891.8 L1034.4 1890.9 L1037.4 1890.1 L1040.4 1889.3 L1043.4 1888.5 L1046.4 1887.7 L1049.4 1886.9 L1052.4 1886.1 L1055.4 1885.3 L1058.4 1884.5 L1061.4 1883.8 L1064.4 1883 L1067.4 1882.2 L1070.4 1881.4 L1073.4 1880.6 L1076.4 1879.8 L1079.4 1879.1 L1082.4 1878.3 L1085.4 1877.6 L1088.4 1876.8 L1091.4 1876.1 L1094.4 1875.5 L1097.4 1874.8 L1100.4 1874.1 L1103.4 1873.5 L1106.4 1872.9 L1109.4 1872.3 L1112.4 1871.7 L1115.4 1871 L1118.4 1870.4 L1121.4 1869.8 L1124.4 1869.3 L1127.4 1868.7 L1130.4 1868.2 L1133.4 1867.8 L1136.4 1867.4 L1139.4 1867.1 L1142.4 1866.8 L1145.4 1866.6 L1148.4 1866.5 L1151.4 1866.4 L1154.4 1866.3 L1157.4 1866.2 L1160.4 1866.1 L1163.4 1866.1 L1166.4 1866 L1169.4 1866 L1172.4 1866 L1175.4 1866.1 L1178.4 1866.1 L1181.4 1866.1 L1184.4 1866.2 L1187.4 1866.3 L1190.4 1866.4 L1193.4 1866.5 L1196.4 1866.8 L1199.4 1867.1 L1202.4 1867.5 L1205.4 1868 L1208.4 1868.7 L1211.4 1869.5 L1214.4 1870.3 L1217.4 1871.2 L1220.4 1872.1 L1223.4 1873 L1226.4 1873.8 L1229.4 1874.7 L1232.4 1875.6 L1235.4 1876.4 L1238.4 1877.3 L1241.4 1878.2 L1244.4 1879.1 L1247.4 1880 L1250.4 1881 L1253.4 1881.9 L1256.4 1882.8 L1259.4 1883.8 L1262.4 1884.7 L1265.4 1885.6 L1268.4 1886.5 L1271.4 1887.4 L1274.4 1888.2 L1277.4 1889.1 L1280.4 1889.9 L1283.4 1890.8 L1286.4 1891.6 L1289.4 1892.4 L1292.4 1893.3 L1295.4 1894.1 L1298.4 1895 L1301.4 1895.8 L1304.4 1896.7 L1307.4 1897.5 L1310.4 1898.4 L1313.4 1899.3 L1316.4 1900.2 L1319.4 1901.2 L1322.4 1902.1 L1325.4 1903.1 L1328.4 1904.2 L1331.4 1905.2 L1334.4 1906.2 L1337.4 1907.3 L1340.4 1908.3 L1343.4 1909.3 L1346.4 1910.4 L1349.4 1911.4 L1352.4 1912.4 L1355.4 1913.4 L1358.4 1914.4 L1361.4 1915.3 L1364.4 1916.2 L1367.4 1917.1 L1370.4 1917.9 L1373.4 1918.8 L1376.4 1919.6 L1379.4 1920.4 L1382.4 1921.2 L1385.4 1922 L1388.4 1922.8 L1391.4 1923.6 L1394.4 1924.4 L1397.4 1925.1 L1400.4 1925.9 L1403.4 1926.6 L1406.4 1927.3 L1409.4 1928 L1412.4 1928.7 L1415.4 1929.4 L1418.4 1930.1 L1421.4 1930.8 L1424.4 1931.5 L1427.4 1932.2 L1430.4 1932.8 L1433.4 1933.5 L1436.4 1934.1 L1439.4 1934.8 L1442.4 1935.4 L1445.4 1936 L1448.4 1936.6 L1451.4 1937.2 L1454.4 1937.8 L1457.4 1938.4 L1460.4 1938.9 L1463.4 1939.5 L1466.4 1940.1 L1469.4 1940.6 L1472.4 1941.2 L1475.4 1941.8 L1478.4 1942.3 L1481.4 1942.9 L1484.4 1943.4 L1487.4 1944 L1490.4 1944.6 L1493.4 1945.1 L1496.4 1945.7 L1499.4 1946.2 L1502.4 1946.8 L1505.4 1947.3 L1508.4 1947.8 L1511.4 1948.3 L1514.4 1948.9 L1517.4 1949.4 L1520.4 1949.9 L1523.4 1950.5 L1526.4 1951 L1529.4 1951.5 L1532.4 1952.1 L1535.4 1952.6 L1538.4 1953.2 L1541.4 1953.8 L1544.4 1954.4 L1547.4 1955 L1550.4 1955.6 L1553.4 1956.3 L1556.4 1956.9 L1559.4 1957.6 L1562.4 1958.3 L1565.4 1959 L1568.4 1959.7 L1571.4 1960.4 L1574.4 1961.2 L1577.4 1961.9 L1580.4 1962.7 L1583.4 1963.4 L1586.4 1964.2 L1589.4 1965 L1592.4 1965.8 L1595.4 1966.6 L1598.4 1967.3 L1601.4 1968.1 L1604.4 1968.9 L1607.4 1969.7 L1610.4 1970.5 L1613.4 1971.3 L1616.4 1972.1 L1619.4 1972.8 L1622.4 1973.6 L1625.4 1974.4 L1628.4 1975.1 L1631.4 1975.9 L1634.4 1976.6 L1637.4 1977.3 L1640.4 1978 L1643.4 1978.8 L1646.4 1979.5 L1649.4 1980.2 L1652.4 1980.9 L1655.4 1981.6 L1658.4 1982.3 L1661.4 1983.1 L1664.4 1983.8 L1667.4 1984.5 L1670.4 1985.2 L1673.4 1985.9 L1676.4 1986.6 L1679.4 1987.3 L1682.4 1988 L1685.4 1988.7 L1688.4 1989.4 L1691.4 1990 L1694.4 1990.7 L1697.4 1991.4 L1700.4 1992 L1703.4 1992.7 L1706.4 1993.3 L1709.4 1994 L1712.4 1994.6 L1715.4 1995.2 L1718.4 1995.9 L1721.4 1996.5 L1724.4 1997.1 L1727.4 1997.6 L1730.4 1998.2 L1733.4 1998.8 L1736.4 1999.4 L1739.4 1999.9 L1742.4 2000.5 L1745.4 2001.1 L1748.4 2001.6 L1751.4 2002.1 L1754.4 2002.6 L1757.4 2003.1 L1760.4 2003.6 L1763.4 2004.1 L1766.4 2004.6 L1769.4 2005 L1772.4 2005.4 L1775.4 2005.8 L1778.4 2006.2 L1781.4 2006.6 L1784.4 2007 L1787.4 2007.3 L1790.4 2007.7 L1793.4 2008 L1796.4 2008.4 L1799.4 2008.7 L1802.4 2009 L1805.4 2009.3 L1808.4 2009.6 L1811.4 2009.9 L1814.4 2010.2 L1817.4 2010.5 L1820.4 2010.8 L1823.4 2011 L1826.4 2011.3 L1829.4 2011.5 L1832.4 2011.8 L1835.4 2012 L1838.4 2012.2 L1841.4 2012.5 L1844.4 2012.7 L1847.4 2012.9 L1850.4 2013 L1853.4 2013.2 L1856.4 2013.3 L1859.4 2013.3 L1862.4 2013.4 L1865.4 2013.4 L1868.4 2013.5 L1871.4 2013.5 L1874.4 2013.5 L1877.4 2013.5 L1880.4 2013.5 L1883.4 2013.5 L1886.4 2013.6 L1889.4 2013.6 L1892.4 2013.6 L1895.4 2013.6 L1898.4 2013.6 L1901.4 2013.6 L1904.4 2013.6 L1907.4 2013.6 L1910.4 2013.7 L1913.4 2013.7 L1916.4 2013.7 L1919.4 2013.7 L1922.4 2013.7 L1925.4 2013.7 L1928.4 2013.7 L1931.4 2013.7 L1934.4 2013.7 L1937.4 2013.7 L1940.4 2013.7 L1943.4 2013.7 L1944.4 2013.7 L1944.4 2013.7 L239.4 2013.7 Z" fill="#fff" fill-opacity="0.7"/><path d="M239.4 2013.4 L242.4 2013.4 L245.4 2013.4 L248.4 2013.4 L251.4 2013.4 L254.4 2013.4 L257.4 2013.4 L260.4 2013.4 L263.4 2013.4 L266.4 2013.4 L269.4 2013.4 L272.4 2013.4 L275.4 2013.4 L278.4 2013.4 L281.4 2013.4 L284.4 2013.4 L287.4 2013.4 L290.4 2013.4 L293.4 2013.4 L296.4 2013.4 L299.4 2013.4 L302.4 2013.4 L305.4 2013.4 L308.4 2013.4 L311.4 2013.4 L314.4 2013.4 L317.4 2013.4 L320.4 2013.4 L323.4 2013.4 L326.4 2013.4 L329.4 2013.4 L332.4 2013.4 L335.4 2013.4 L338.4 2013.4 L341.4 2013.3 L344.4 2013.3 L347.4 2013.2 L350.4 2013.1 L353.4 2013 L356.4 2012.9 L359.4 2012.8 L362.4 2012.6 L365.4 2012.4 L368.4 2012.2 L371.4 2012 L374.4 2011.8 L377.4 2011.6 L380.4 2011.4 L383.4 2011.1 L386.4 2010.9 L389.4 2010.7 L392.4 2010.5 L395.4 2010.3 L398.4 2010.1 L401.4 2009.9 L404.4 2009.7 L407.4 2009.5 L410.4 2009.3 L413.4 2009.1 L416.4 2008.9 L419.4 2008.7 L422.4 2008.5 L425.4 2008.3 L428.4 2008.1 L431.4 2007.9 L434.4 2007.7 L437.4 2007.5 L440.4 2007.3 L443.4 2007.1 L446.4 2006.9 L449.4 2006.8 L452.4 2006.6 L455.4 2006.5 L458.4 2006.3 L461.4 2006.2 L464.4 2006.1 L467.4 2006 L470.4 2005.9 L473.4 2005.8 L476.4 2005.7 L479.4 2005.6 L482.4 2005.6 L485.4 2005.5 L488.4 2005.4 L491.4 2005.4 L494.4 2005.3 L497.4 2005.2 L500.4 2005.2 L503.4 2005.1 L506.4 2005.1 L509.4 2005 L512.4 2005 L515.4 2004.9 L518.4 2004.9 L521.4 2004.8 L524.4 2004.8 L527.4 2004.7 L530.4 2004.7 L533.4 2004.6 L536.4 2004.5 L539.4 2004.5 L542.4 2004.4 L545.4 2004.4 L548.4 2004.3 L551.4 2004.3 L554.4 2004.2 L557.4 2004.2 L560.4 2004.1 L563.4 2004.1 L566.4 2004.1 L569.4 2004 L572.4 2004 L575.4 2003.9 L578.4 2003.9 L581.4 2003.8 L584.4 2003.8 L587.4 2003.7 L590.4 2003.6 L593.4 2003.5 L596.4 2003.5 L599.4 2003.4 L602.4 2003.3 L605.4 2003.1 L608.4 2003 L611.4 2002.8 L614.4 2002.6 L617.4 2002.4 L620.4 2002.2 L623.4 2001.9 L626.4 2001.7 L629.4 2001.4 L632.4 2001.1 L635.4 2000.8 L638.4 2000.5 L641.4 2000.1 L644.4 1999.8 L647.4 1999.4 L650.4 1999.1 L653.4 1998.7 L656.4 1998.3 L659.4 1997.8 L662.4 1997.4 L665.4 1997 L668.4 1996.5 L671.4 1995.9 L674.4 1995.4 L677.4 1994.7 L680.4 1994 L683.4 1993.3 L686.4 1992.5 L689.4 1991.7 L692.4 1990.9 L695.4 1990 L698.4 1989.1 L701.4 1988.1 L704.4 1987.2 L707.4 1986.2 L710.4 1985.2 L713.4 1984.2 L716.4 1983.2 L719.4 1982.2 L722.4 1981.2 L725.4 1980.2 L728.4 1979.2 L731.4 1978.2 L734.4 1977.2 L737.4 1976.2 L740.4 1975.1 L743.4 1974.1 L746.4 1973 L749.4 1971.9 L752.4 1970.8 L755.4 1969.7 L758.4 1968.6 L761.4 1967.5 L764.4 1966.3 L767.4 1965.1 L770.4 1964 L773.4 1962.8 L776.4 1961.6 L779.4 1960.5 L782.4 1959.3 L785.4 1958.1 L788.4 1957 L791.4 1955.8 L794.4 1954.6 L797.4 1953.5 L800.4 1952.3 L803.4 1951.1 L806.4 1949.9 L809.4 1948.7 L812.4 1947.5 L815.4 1946.2 L818.4 1945 L821.4 1943.7 L824.4 1942.5 L827.4 1941.2 L830.4 1940 L833.4 1938.7 L836.4 1937.5 L839.4 1936.3 L842.4 1935.2 L845.4 1934 L848.4 1932.9 L851.4 1931.8 L854.4 1930.8 L857.4 1929.8 L860.4 1928.9 L863.4 1928 L866.4 1927.2 L869.4 1926.4 L872.4 1925.6 L875.4 1924.8 L878.4 1924.1 L881.4 1923.4 L884.4 1922.7 L887.4 1922.1 L890.4 1921.4 L893.4 1920.8 L896.4 1920.2 L899.4 1919.6 L902.4 1919 L905.4 1918.4 L908.4 1917.8 L911.4 1917.2 L914.4 1916.6 L917.4 1916 L920.4 1915.5 L923.4 1914.9 L926.4 1914.3 L929.4 1913.7 L932.4 1913.1 L935.4 1912.5 L938.4 1911.9 L941.4 1911.3 L944.4 1910.8 L947.4 1910.2 L950.4 1909.6 L953.4 1909.1 L956.4 1908.5 L959.4 1908 L962.4 1907.4 L965.4 1906.9 L968.4 1906.3 L971.4 1905.8 L974.4 1905.2 L977.4 1904.6 L980.4 1904.1 L983.4 1903.5 L986.4 1902.9 L989.4 1902.3 L992.4 1901.6 L995.4 1901 L998.4 1900.3 L1001.4 1899.6 L1004.4 1898.9 L1007.4 1898.2 L1010.4 1897.4 L1013.4 1896.7 L1016.4 1895.9 L1019.4 1895.1 L1022.4 1894.3 L1025.4 1893.4 L1028.4 1892.6 L1031.4 1891.8 L1034.4 1890.9 L1037.4 1890.1 L1040.4 1889.3 L1043.4 1888.5 L1046.4 1887.7 L1049.4 1886.9 L1052.4 1886.1 L1055.4 1885.3 L1058.4 1884.5 L1061.4 1883.8 L1064.4 1883 L1067.4 1882.2 L1070.4 1881.4 L1073.4 1880.6 L1076.4 1879.8 L1079.4 1879.1 L1082.4 1878.3 L1085.4 1877.6 L1088.4 1876.8 L1091.4 1876.1 L1094.4 1875.5 L1097.4 1874.8 L1100.4 1874.1 L1103.4 1873.5 L1106.4 1872.9 L1109.4 1872.3 L1112.4 1871.7 L1115.4 1871 L1118.4 1870.4 L1121.4 1869.8 L1124.4 1869.3 L1127.4 1868.7 L1130.4 1868.2 L1133.4 1867.8 L1136.4 1867.4 L1139.4 1867.1 L1142.4 1866.8 L1145.4 1866.6 L1148.4 1866.5 L1151.4 1866.4 L1154.4 1866.3 L1157.4 1866.2 L1160.4 1866.1 L1163.4 1866.1 L1166.4 1866 L1169.4 1866 L1172.4 1866 L1175.4 1866.1 L1178.4 1866.1 L1181.4 1866.1 L1184.4 1866.2 L1187.4 1866.3 L1190.4 1866.4 L1193.4 1866.5 L1196.4 1866.8 L1199.4 1867.1 L1202.4 1867.5 L1205.4 1868 L1208.4 1868.7 L1211.4 1869.5 L1214.4 1870.3 L1217.4 1871.2 L1220.4 1872.1 L1223.4 1873 L1226.4 1873.8 L1229.4 1874.7 L1232.4 1875.6 L1235.4 1876.4 L1238.4 1877.3 L1241.4 1878.2 L1244.4 1879.1 L1247.4 1880 L1250.4 1881 L1253.4 1881.9 L1256.4 1882.8 L1259.4 1883.8 L1262.4 1884.7 L1265.4 1885.6 L1268.4 1886.5 L1271.4 1887.4 L1274.4 1888.2 L1277.4 1889.1 L1280.4 1889.9 L1283.4 1890.8 L1286.4 1891.6 L1289.4 1892.4 L1292.4 1893.3 L1295.4 1894.1 L1298.4 1895 L1301.4 1895.8 L1304.4 1896.7 L1307.4 1897.5 L1310.4 1898.4 L1313.4 1899.3 L1316.4 1900.2 L1319.4 1901.2 L1322.4 1902.1 L1325.4 1903.1 L1328.4 1904.2 L1331.4 1905.2 L1334.4 1906.2 L1337.4 1907.3 L1340.4 1908.3 L1343.4 1909.3 L1346.4 1910.4 L1349.4 1911.4 L1352.4 1912.4 L1355.4 1913.4 L1358.4 1914.4 L1361.4 1915.3 L1364.4 1916.2 L1367.4 1917.1 L1370.4 1917.9 L1373.4 1918.8 L1376.4 1919.6 L1379.4 1920.4 L1382.4 1921.2 L1385.4 1922 L1388.4 1922.8 L1391.4 1923.6 L1394.4 1924.4 L1397.4 1925.1 L1400.4 1925.9 L1403.4 1926.6 L1406.4 1927.3 L1409.4 1928 L1412.4 1928.7 L1415.4 1929.4 L1418.4 1930.1 L1421.4 1930.8 L1424.4 1931.5 L1427.4 1932.2 L1430.4 1932.8 L1433.4 1933.5 L1436.4 1934.1 L1439.4 1934.8 L1442.4 1935.4 L1445.4 1936 L1448.4 1936.6 L1451.4 1937.2 L1454.4 1937.8 L1457.4 1938.4 L1460.4 1938.9 L1463.4 1939.5 L1466.4 1940.1 L1469.4 1940.6 L1472.4 1941.2 L1475.4 1941.8 L1478.4 1942.3 L1481.4 1942.9 L1484.4 1943.4 L1487.4 1944 L1490.4 1944.6 L1493.4 1945.1 L1496.4 1945.7 L1499.4 1946.2 L1502.4 1946.8 L1505.4 1947.3 L1508.4 1947.8 L1511.4 1948.3 L1514.4 1948.9 L1517.4 1949.4 L1520.4 1949.9 L1523.4 1950.5 L1526.4 1951 L1529.4 1951.5 L1532.4 1952.1 L1535.4 1952.6 L1538.4 1953.2 L1541.4 1953.8 L1544.4 1954.4 L1547.4 1955 L1550.4 1955.6 L1553.4 1956.3 L1556.4 1956.9 L1559.4 1957.6 L1562.4 1958.3 L1565.4 1959 L1568.4 1959.7 L1571.4 1960.4 L1574.4 1961.2 L1577.4 1961.9 L1580.4 1962.7 L1583.4 1963.4 L1586.4 1964.2 L1589.4 1965 L1592.4 1965.8 L1595.4 1966.6 L1598.4 1967.3 L1601.4 1968.1 L1604.4 1968.9 L1607.4 1969.7 L1610.4 1970.5 L1613.4 1971.3 L1616.4 1972.1 L1619.4 1972.8 L1622.4 1973.6 L1625.4 1974.4 L1628.4 1975.1 L1631.4 1975.9 L1634.4 1976.6 L1637.4 1977.3 L1640.4 1978 L1643.4 1978.8 L1646.4 1979.5 L1649.4 1980.2 L1652.4 1980.9 L1655.4 1981.6 L1658.4 1982.3 L1661.4 1983.1 L1664.4 1983.8 L1667.4 1984.5 L1670.4 1985.2 L1673.4 1985.9 L1676.4 1986.6 L1679.4 1987.3 L1682.4 1988 L1685.4 1988.7 L1688.4 1989.4 L1691.4 1990 L1694.4 1990.7 L1697.4 1991.4 L1700.4 1992 L1703.4 1992.7 L1706.4 1993.3 L1709.4 1994 L1712.4 1994.6 L1715.4 1995.2 L1718.4 1995.9 L1721.4 1996.5 L1724.4 1997.1 L1727.4 1997.6 L1730.4 1998.2 L1733.4 1998.8 L1736.4 1999.4 L1739.4 1999.9 L1742.4 2000.5 L1745.4 2001.1 L1748.4 2001.6 L1751.4 2002.1 L1754.4 2002.6 L1757.4 2003.1 L1760.4 2003.6 L1763.4 2004.1 L1766.4 2004.6 L1769.4 2005 L1772.4 2005.4 L1775.4 2005.8 L1778.4 2006.2 L1781.4 2006.6 L1784.4 2007 L1787.4 2007.3 L1790.4 2007.7 L1793.4 2008 L1796.4 2008.4 L1799.4 2008.7 L1802.4 2009 L1805.4 2009.3 L1808.4 2009.6 L1811.4 2009.9 L1814.4 2010.2 L1817.4 2010.5 L1820.4 2010.8 L1823.4 2011 L1826.4 2011.3 L1829.4 2011.5 L1832.4 2011.8 L1835.4 2012 L1838.4 2012.2 L1841.4 2012.5 L1844.4 2012.7 L1847.4 2012.9 L1850.4 2013 L1853.4 2013.2 L1856.4 2013.3 L1859.4 2013.3 L1862.4 2013.4 L1865.4 2013.4 L1868.4 2013.5 L1871.4 2013.5 L1874.4 2013.5 L1877.4 2013.5 L1880.4 2013.5 L1883.4 2013.5 L1886.4 2013.6 L1889.4 2013.6 L1892.4 2013.6 L1895.4 2013.6 L1898.4 2013.6 L1901.4 2013.6 L1904.4 2013.6 L1907.4 2013.6 L1910.4 2013.7 L1913.4 2013.7 L1916.4 2013.7 L1919.4 2013.7 L1922.4 2013.7 L1925.4 2013.7 L1928.4 2013.7 L1931.4 2013.7 L1934.4 2013.7 L1937.4 2013.7 L1940.4 2013.7 L1943.4 2013.7 L1944.4 2013.7" fill="none" stroke="#000" stroke-width="1.7" stroke-linejoin="round"/><path d="M239.4 2130.6 L242.4 2130.6 L245.4 2130.6 L248.4 2130.6 L251.4 2130.6 L254.4 2130.6 L257.4 2130.6 L260.4 2130.6 L263.4 2130.6 L266.4 2130.6 L269.4 2130.6 L272.4 2130.6 L275.4 2130.6 L278.4 2130.6 L281.4 2130.6 L284.4 2130.6 L287.4 2130.6 L290.4 2130.6 L293.4 2130.6 L296.4 2130.6 L299.4 2130.6 L302.4 2130.6 L305.4 2130.6 L308.4 2130.6 L311.4 2130.6 L314.4 2130.6 L317.4 2130.6 L320.4 2130.6 L323.4 2130.6 L326.4 2130.6 L329.4 2130.6 L332.4 2130.6 L335.4 2130.6 L338.4 2130.6 L341.4 2130.6 L344.4 2130.6 L347.4 2130.6 L350.4 2130.6 L353.4 2130.6 L356.4 2130.6 L359.4 2130.6 L362.4 2130.6 L365.4 2130.6 L368.4 2130.5 L371.4 2130.5 L374.4 2130.5 L377.4 2130.5 L380.4 2130.5 L383.4 2130.5 L386.4 2130.5 L389.4 2130.5 L392.4 2130.5 L395.4 2130.5 L398.4 2130.5 L401.4 2130.5 L404.4 2130.5 L407.4 2130.5 L410.4 2130.5 L413.4 2130.5 L416.4 2130.5 L419.4 2130.5 L422.4 2130.5 L425.4 2130.5 L428.4 2130.5 L431.4 2130.5 L434.4 2130.5 L437.4 2130.5 L440.4 2130.5 L443.4 2130.5 L446.4 2130.4 L449.4 2130.4 L452.4 2130.4 L455.4 2130.4 L458.4 2130.4 L461.4 2130.4 L464.4 2130.4 L467.4 2130.4 L470.4 2130.4 L473.4 2130.4 L476.4 2130.4 L479.4 2130.3 L482.4 2130.3 L485.4 2130.2 L488.4 2130.2 L491.4 2130.1 L494.4 2130 L497.4 2129.9 L500.4 2129.8 L503.4 2129.7 L506.4 2129.6 L509.4 2129.5 L512.4 2129.4 L515.4 2129.2 L518.4 2129.1 L521.4 2129 L524.4 2128.8 L527.4 2128.7 L530.4 2128.5 L533.4 2128.3 L536.4 2128.1 L539.4 2127.9 L542.4 2127.7 L545.4 2127.4 L548.4 2127.1 L551.4 2126.8 L554.4 2126.5 L557.4 2126.2 L560.4 2125.8 L563.4 2125.4 L566.4 2125 L569.4 2124.6 L572.4 2124.1 L575.4 2123.7 L578.4 2123.2 L581.4 2122.7 L584.4 2122.2 L587.4 2121.8 L590.4 2121.3 L593.4 2120.8 L596.4 2120.3 L599.4 2119.7 L602.4 2119.2 L605.4 2118.7 L608.4 2118.1 L611.4 2117.5 L614.4 2116.9 L617.4 2116.2 L620.4 2115.5 L623.4 2114.8 L626.4 2114 L629.4 2113.2 L632.4 2112.4 L635.4 2111.4 L638.4 2110.4 L641.4 2109.4 L644.4 2108.2 L647.4 2107 L650.4 2105.8 L653.4 2104.5 L656.4 2103.2 L659.4 2101.9 L662.4 2100.6 L665.4 2099.3 L668.4 2098 L671.4 2096.7 L674.4 2095.4 L677.4 2094.1 L680.4 2092.8 L683.4 2091.5 L686.4 2090.1 L689.4 2088.7 L692.4 2087.3 L695.4 2085.9 L698.4 2084.4 L701.4 2082.9 L704.4 2081.3 L707.4 2079.8 L710.4 2078.1 L713.4 2076.5 L716.4 2074.8 L719.4 2073.1 L722.4 2071.4 L725.4 2069.7 L728.4 2068 L731.4 2066.4 L734.4 2064.7 L737.4 2063 L740.4 2061.4 L743.4 2059.7 L746.4 2058.1 L749.4 2056.5 L752.4 2054.8 L755.4 2053.2 L758.4 2051.5 L761.4 2049.9 L764.4 2048.2 L767.4 2046.6 L770.4 2044.9 L773.4 2043.3 L776.4 2041.6 L779.4 2040 L782.4 2038.3 L785.4 2036.7 L788.4 2035 L791.4 2033.4 L794.4 2031.7 L797.4 2030 L800.4 2028.4 L803.4 2026.7 L806.4 2025.1 L809.4 2023.4 L812.4 2021.7 L815.4 2020.1 L818.4 2018.4 L821.4 2016.8 L824.4 2015.1 L827.4 2013.5 L830.4 2011.9 L833.4 2010.3 L836.4 2008.8 L839.4 2007.2 L842.4 2005.7 L845.4 2004.2 L848.4 2002.7 L851.4 2001.2 L854.4 1999.7 L857.4 1998.2 L860.4 1996.8 L863.4 1995.3 L866.4 1993.9 L869.4 1992.5 L872.4 1991.2 L875.4 1989.8 L878.4 1988.5 L881.4 1987.1 L884.4 1985.8 L887.4 1984.5 L890.4 1983.1 L893.4 1981.8 L896.4 1980.4 L899.4 1979.1 L902.4 1977.7 L905.4 1976.3 L908.4 1974.9 L911.4 1973.5 L914.4 1972.1 L917.4 1970.8 L920.4 1969.4 L923.4 1968.1 L926.4 1966.8 L929.4 1965.6 L932.4 1964.4 L935.4 1963.2 L938.4 1962.1 L941.4 1961 L944.4 1960 L947.4 1959 L950.4 1957.9 L953.4 1956.9 L956.4 1955.9 L959.4 1954.9 L962.4 1953.8 L965.4 1952.7 L968.4 1951.7 L971.4 1950.6 L974.4 1949.5 L977.4 1948.4 L980.4 1947.3 L983.4 1946.1 L986.4 1945 L989.4 1943.9 L992.4 1942.7 L995.4 1941.6 L998.4 1940.4 L1001.4 1939.2 L1004.4 1938 L1007.4 1936.7 L1010.4 1935.6 L1013.4 1934.4 L1016.4 1933.4 L1019.4 1932.4 L1022.4 1931.4 L1025.4 1930.5 L1028.4 1929.7 L1031.4 1928.9 L1034.4 1928.1 L1037.4 1927.4 L1040.4 1926.8 L1043.4 1926.1 L1046.4 1925.5 L1049.4 1925 L1052.4 1924.5 L1055.4 1924 L1058.4 1923.6 L1061.4 1923.2 L1064.4 1922.9 L1067.4 1922.7 L1070.4 1922.5 L1073.4 1922.3 L1076.4 1922.2 L1079.4 1922.1 L1082.4 1922.1 L1085.4 1922.1 L1088.4 1922.1 L1091.4 1922.2 L1094.4 1922.4 L1097.4 1922.6 L1100.4 1923 L1103.4 1923.5 L1106.4 1924.1 L1109.4 1924.9 L1112.4 1925.6 L1115.4 1926.3 L1118.4 1927 L1121.4 1927.7 L1124.4 1928.4 L1127.4 1929.2 L1130.4 1930 L1133.4 1931 L1136.4 1932.2 L1139.4 1933.5 L1142.4 1934.9 L1145.4 1936.4 L1148.4 1937.9 L1151.4 1939.4 L1154.4 1940.8 L1157.4 1942.2 L1160.4 1943.7 L1163.4 1945.3 L1166.4 1947 L1169.4 1949 L1172.4 1951.1 L1175.4 1953.4 L1178.4 1955.7 L1181.4 1958 L1184.4 1960.3 L1187.4 1962.5 L1190.4 1964.7 L1193.4 1966.9 L1196.4 1969.1 L1199.4 1971.4 L1202.4 1973.7 L1205.4 1976.1 L1208.4 1978.6 L1211.4 1981.1 L1214.4 1983.7 L1217.4 1986.3 L1220.4 1988.9 L1223.4 1991.5 L1226.4 1994.1 L1229.4 1996.7 L1232.4 1999.3 L1235.4 2001.8 L1238.4 2004.4 L1241.4 2007.1 L1244.4 2009.7 L1247.4 2012.3 L1250.4 2014.9 L1253.4 2017.4 L1256.4 2019.9 L1259.4 2022.4 L1262.4 2024.8 L1265.4 2027.2 L1268.4 2029.5 L1271.4 2031.8 L1274.4 2034 L1277.4 2036.2 L1280.4 2038.3 L1283.4 2040.4 L1286.4 2042.5 L1289.4 2044.6 L1292.4 2046.6 L1295.4 2048.6 L1298.4 2050.5 L1301.4 2052.5 L1304.4 2054.4 L1307.4 2056.2 L1310.4 2058.1 L1313.4 2059.9 L1316.4 2061.7 L1319.4 2063.5 L1322.4 2065.2 L1325.4 2067 L1328.4 2068.7 L1331.4 2070.4 L1334.4 2072.1 L1337.4 2073.8 L1340.4 2075.5 L1343.4 2077.2 L1346.4 2078.8 L1349.4 2080.5 L1352.4 2082.1 L1355.4 2083.6 L1358.4 2085.1 L1361.4 2086.6 L1364.4 2087.9 L1367.4 2089.3 L1370.4 2090.5 L1373.4 2091.7 L1376.4 2092.9 L1379.4 2094 L1382.4 2095.1 L1385.4 2096.2 L1388.4 2097.2 L1391.4 2098.3 L1394.4 2099.4 L1397.4 2100.4 L1400.4 2101.5 L1403.4 2102.6 L1406.4 2103.7 L1409.4 2104.8 L1412.4 2105.9 L1415.4 2107 L1418.4 2108.1 L1421.4 2109.1 L1424.4 2110.1 L1427.4 2111.1 L1430.4 2111.9 L1433.4 2112.8 L1436.4 2113.6 L1439.4 2114.3 L1442.4 2115 L1445.4 2115.7 L1448.4 2116.4 L1451.4 2117 L1454.4 2117.6 L1457.4 2118.2 L1460.4 2118.8 L1463.4 2119.4 L1466.4 2120 L1469.4 2120.6 L1472.4 2121.2 L1475.4 2121.8 L1478.4 2122.4 L1481.4 2123 L1484.4 2123.5 L1487.4 2124 L1490.4 2124.5 L1493.4 2125 L1496.4 2125.5 L1499.4 2125.9 L1502.4 2126.3 L1505.4 2126.7 L1508.4 2127 L1511.4 2127.4 L1514.4 2127.7 L1517.4 2128 L1520.4 2128.3 L1523.4 2128.5 L1526.4 2128.7 L1529.4 2128.9 L1532.4 2129.1 L1535.4 2129.2 L1538.4 2129.3 L1541.4 2129.5 L1544.4 2129.6 L1547.4 2129.7 L1550.4 2129.8 L1553.4 2129.9 L1556.4 2129.9 L1559.4 2130 L1562.4 2130.1 L1565.4 2130.2 L1568.4 2130.2 L1571.4 2130.3 L1574.4 2130.4 L1577.4 2130.4 L1580.4 2130.5 L1583.4 2130.5 L1586.4 2130.5 L1589.4 2130.6 L1592.4 2130.6 L1595.4 2130.6 L1598.4 2130.6 L1601.4 2130.6 L1604.4 2130.6 L1607.4 2130.6 L1610.4 2130.6 L1613.4 2130.6 L1616.4 2130.6 L1619.4 2130.6 L1622.4 2130.6 L1625.4 2130.6 L1628.4 2130.6 L1631.4 2130.6 L1634.4 2130.6 L1637.4 2130.6 L1640.4 2130.6 L1643.4 2130.6 L1646.4 2130.6 L1649.4 2130.6 L1652.4 2130.6 L1655.4 2130.6 L1658.4 2130.6 L1661.4 2130.6 L1664.4 2130.6 L1667.4 2130.6 L1670.4 2130.6 L1673.4 2130.6 L1676.4 2130.6 L1679.4 2130.6 L1682.4 2130.6 L1685.4 2130.6 L1688.4 2130.6 L1691.4 2130.6 L1694.4 2130.6 L1697.4 2130.6 L1700.4 2130.6 L1703.4 2130.6 L1706.4 2130.6 L1709.4 2130.6 L1712.4 2130.6 L1715.4 2130.6 L1718.4 2130.6 L1721.4 2130.6 L1724.4 2130.6 L1727.4 2130.6 L1730.4 2130.6 L1733.4 2130.6 L1736.4 2130.6 L1739.4 2130.6 L1742.4 2130.6 L1745.4 2130.6 L1748.4 2130.6 L1751.4 2130.6 L1754.4 2130.6 L1757.4 2130.6 L1760.4 2130.6 L1763.4 2130.6 L1766.4 2130.6 L1769.4 2130.6 L1772.4 2130.6 L1775.4 2130.6 L1778.4 2130.6 L1781.4 2130.6 L1784.4 2130.6 L1787.4 2130.6 L1790.4 2130.6 L1793.4 2130.6 L1796.4 2130.6 L1799.4 2130.6 L1802.4 2130.6 L1805.4 2130.6 L1808.4 2130.6 L1811.4 2130.6 L1814.4 2130.6 L1817.4 2130.6 L1820.4 2130.6 L1823.4 2130.6 L1826.4 2130.6 L1829.4 2130.6 L1832.4 2130.6 L1835.4 2130.6 L1838.4 2130.6 L1841.4 2130.6 L1844.4 2130.6 L1847.4 2130.6 L1850.4 2130.6 L1853.4 2130.6 L1856.4 2130.6 L1859.4 2130.6 L1862.4 2130.6 L1865.4 2130.6 L1868.4 2130.6 L1871.4 2130.6 L1874.4 2130.6 L1877.4 2130.6 L1880.4 2130.6 L1883.4 2130.6 L1886.4 2130.6 L1889.4 2130.6 L1892.4 2130.6 L1895.4 2130.6 L1898.4 2130.6 L1901.4 2130.6 L1904.4 2130.6 L1907.4 2130.6 L1910.4 2130.6 L1913.4 2130.6 L1916.4 2130.6 L1919.4 2130.6 L1922.4 2130.6 L1925.4 2130.6 L1928.4 2130.6 L1931.4 2130.6 L1934.4 2130.6 L1937.4 2130.6 L1940.4 2130.6 L1943.4 2130.6 L1944.4 2130.6 L1944.4 2130.7 L239.4 2130.7 Z" fill="#50D0FF"/><path d="M239.4 2130.6 L242.4 2130.6 L245.4 2130.6 L248.4 2130.6 L251.4 2130.6 L254.4 2130.6 L257.4 2130.6 L260.4 2130.6 L263.4 2130.6 L266.4 2130.6 L269.4 2130.6 L272.4 2130.6 L275.4 2130.6 L278.4 2130.6 L281.4 2130.6 L284.4 2130.6 L287.4 2130.6 L290.4 2130.6 L293.4 2130.6 L296.4 2130.6 L299.4 2130.6 L302.4 2130.6 L305.4 2130.6 L308.4 2130.6 L311.4 2130.6 L314.4 2130.6 L317.4 2130.6 L320.4 2130.6 L323.4 2130.6 L326.4 2130.6 L329.4 2130.6 L332.4 2130.6 L335.4 2130.6 L338.4 2130.6 L341.4 2130.6 L344.4 2130.6 L347.4 2130.6 L350.4 2130.6 L353.4 2130.6 L356.4 2130.6 L359.4 2130.6 L362.4 2130.6 L365.4 2130.6 L368.4 2130.5 L371.4 2130.5 L374.4 2130.5 L377.4 2130.5 L380.4 2130.5 L383.4 2130.5 L386.4 2130.5 L389.4 2130.5 L392.4 2130.5 L395.4 2130.5 L398.4 2130.5 L401.4 2130.5 L404.4 2130.5 L407.4 2130.5 L410.4 2130.5 L413.4 2130.5 L416.4 2130.5 L419.4 2130.5 L422.4 2130.5 L425.4 2130.5 L428.4 2130.5 L431.4 2130.5 L434.4 2130.5 L437.4 2130.5 L440.4 2130.5 L443.4 2130.5 L446.4 2130.4 L449.4 2130.4 L452.4 2130.4 L455.4 2130.4 L458.4 2130.4 L461.4 2130.4 L464.4 2130.4 L467.4 2130.4 L470.4 2130.4 L473.4 2130.4 L476.4 2130.4 L479.4 2130.3 L482.4 2130.3 L485.4 2130.2 L488.4 2130.2 L491.4 2130.1 L494.4 2130 L497.4 2129.9 L500.4 2129.8 L503.4 2129.7 L506.4 2129.6 L509.4 2129.5 L512.4 2129.4 L515.4 2129.2 L518.4 2129.1 L521.4 2129 L524.4 2128.8 L527.4 2128.7 L530.4 2128.5 L533.4 2128.3 L536.4 2128.1 L539.4 2127.9 L542.4 2127.7 L545.4 2127.4 L548.4 2127.1 L551.4 2126.8 L554.4 2126.5 L557.4 2126.2 L560.4 2125.8 L563.4 2125.4 L566.4 2125 L569.4 2124.6 L572.4 2124.1 L575.4 2123.7 L578.4 2123.2 L581.4 2122.7 L584.4 2122.2 L587.4 2121.8 L590.4 2121.3 L593.4 2120.8 L596.4 2120.3 L599.4 2119.7 L602.4 2119.2 L605.4 2118.7 L608.4 2118.1 L611.4 2117.5 L614.4 2116.9 L617.4 2116.2 L620.4 2115.5 L623.4 2114.8 L626.4 2114 L629.4 2113.2 L632.4 2112.4 L635.4 2111.4 L638.4 2110.4 L641.4 2109.4 L644.4 2108.2 L647.4 2107 L650.4 2105.8 L653.4 2104.5 L656.4 2103.2 L659.4 2101.9 L662.4 2100.6 L665.4 2099.3 L668.4 2098 L671.4 2096.7 L674.4 2095.4 L677.4 2094.1 L680.4 2092.8 L683.4 2091.5 L686.4 2090.1 L689.4 2088.7 L692.4 2087.3 L695.4 2085.9 L698.4 2084.4 L701.4 2082.9 L704.4 2081.3 L707.4 2079.8 L710.4 2078.1 L713.4 2076.5 L716.4 2074.8 L719.4 2073.1 L722.4 2071.4 L725.4 2069.7 L728.4 2068 L731.4 2066.4 L734.4 2064.7 L737.4 2063 L740.4 2061.4 L743.4 2059.7 L746.4 2058.1 L749.4 2056.5 L752.4 2054.8 L755.4 2053.2 L758.4 2051.5 L761.4 2049.9 L764.4 2048.2 L767.4 2046.6 L770.4 2044.9 L773.4 2043.3 L776.4 2041.6 L779.4 2040 L782.4 2038.3 L785.4 2036.7 L788.4 2035 L791.4 2033.4 L794.4 2031.7 L797.4 2030 L800.4 2028.4 L803.4 2026.7 L806.4 2025.1 L809.4 2023.4 L812.4 2021.7 L815.4 2020.1 L818.4 2018.4 L821.4 2016.8 L824.4 2015.1 L827.4 2013.5 L830.4 2011.9 L833.4 2010.3 L836.4 2008.8 L839.4 2007.2 L842.4 2005.7 L845.4 2004.2 L848.4 2002.7 L851.4 2001.2 L854.4 1999.7 L857.4 1998.2 L860.4 1996.8 L863.4 1995.3 L866.4 1993.9 L869.4 1992.5 L872.4 1991.2 L875.4 1989.8 L878.4 1988.5 L881.4 1987.1 L884.4 1985.8 L887.4 1984.5 L890.4 1983.1 L893.4 1981.8 L896.4 1980.4 L899.4 1979.1 L902.4 1977.7 L905.4 1976.3 L908.4 1974.9 L911.4 1973.5 L914.4 1972.1 L917.4 1970.8 L920.4 1969.4 L923.4 1968.1 L926.4 1966.8 L929.4 1965.6 L932.4 1964.4 L935.4 1963.2 L938.4 1962.1 L941.4 1961 L944.4 1960 L947.4 1959 L950.4 1957.9 L953.4 1956.9 L956.4 1955.9 L959.4 1954.9 L962.4 1953.8 L965.4 1952.7 L968.4 1951.7 L971.4 1950.6 L974.4 1949.5 L977.4 1948.4 L980.4 1947.3 L983.4 1946.1 L986.4 1945 L989.4 1943.9 L992.4 1942.7 L995.4 1941.6 L998.4 1940.4 L1001.4 1939.2 L1004.4 1938 L1007.4 1936.7 L1010.4 1935.6 L1013.4 1934.4 L1016.4 1933.4 L1019.4 1932.4 L1022.4 1931.4 L1025.4 1930.5 L1028.4 1929.7 L1031.4 1928.9 L1034.4 1928.1 L1037.4 1927.4 L1040.4 1926.8 L1043.4 1926.1 L1046.4 1925.5 L1049.4 1925 L1052.4 1924.5 L1055.4 1924 L1058.4 1923.6 L1061.4 1923.2 L1064.4 1922.9 L1067.4 1922.7 L1070.4 1922.5 L1073.4 1922.3 L1076.4 1922.2 L1079.4 1922.1 L1082.4 1922.1 L1085.4 1922.1 L1088.4 1922.1 L1091.4 1922.2 L1094.4 1922.4 L1097.4 1922.6 L1100.4 1923 L1103.4 1923.5 L1106.4 1924.1 L1109.4 1924.9 L1112.4 1925.6 L1115.4 1926.3 L1118.4 1927 L1121.4 1927.7 L1124.4 1928.4 L1127.4 1929.2 L1130.4 1930 L1133.4 1931 L1136.4 1932.2 L1139.4 1933.5 L1142.4 1934.9 L1145.4 1936.4 L1148.4 1937.9 L1151.4 1939.4 L1154.4 1940.8 L1157.4 1942.2 L1160.4 1943.7 L1163.4 1945.3 L1166.4 1947 L1169.4 1949 L1172.4 1951.1 L1175.4 1953.4 L1178.4 1955.7 L1181.4 1958 L1184.4 1960.3 L1187.4 1962.5 L1190.4 1964.7 L1193.4 1966.9 L1196.4 1969.1 L1199.4 1971.4 L1202.4 1973.7 L1205.4 1976.1 L1208.4 1978.6 L1211.4 1981.1 L1214.4 1983.7 L1217.4 1986.3 L1220.4 1988.9 L1223.4 1991.5 L1226.4 1994.1 L1229.4 1996.7 L1232.4 1999.3 L1235.4 2001.8 L1238.4 2004.4 L1241.4 2007.1 L1244.4 2009.7 L1247.4 2012.3 L1250.4 2014.9 L1253.4 2017.4 L1256.4 2019.9 L1259.4 2022.4 L1262.4 2024.8 L1265.4 2027.2 L1268.4 2029.5 L1271.4 2031.8 L1274.4 2034 L1277.4 2036.2 L1280.4 2038.3 L1283.4 2040.4 L1286.4 2042.5 L1289.4 2044.6 L1292.4 2046.6 L1295.4 2048.6 L1298.4 2050.5 L1301.4 2052.5 L1304.4 2054.4 L1307.4 2056.2 L1310.4 2058.1 L1313.4 2059.9 L1316.4 2061.7 L1319.4 2063.5 L1322.4 2065.2 L1325.4 2067 L1328.4 2068.7 L1331.4 2070.4 L1334.4 2072.1 L1337.4 2073.8 L1340.4 2075.5 L1343.4 2077.2 L1346.4 2078.8 L1349.4 2080.5 L1352.4 2082.1 L1355.4 2083.6 L1358.4 2085.1 L1361.4 2086.6 L1364.4 2087.9 L1367.4 2089.3 L1370.4 2090.5 L1373.4 2091.7 L1376.4 2092.9 L1379.4 2094 L1382.4 2095.1 L1385.4 2096.2 L1388.4 2097.2 L1391.4 2098.3 L1394.4 2099.4 L1397.4 2100.4 L1400.4 2101.5 L1403.4 2102.6 L1406.4 2103.7 L1409.4 2104.8 L1412.4 2105.9 L1415.4 2107 L1418.4 2108.1 L1421.4 2109.1 L1424.4 2110.1 L1427.4 2111.1 L1430.4 2111.9 L1433.4 2112.8 L1436.4 2113.6 L1439.4 2114.3 L1442.4 2115 L1445.4 2115.7 L1448.4 2116.4 L1451.4 2117 L1454.4 2117.6 L1457.4 2118.2 L1460.4 2118.8 L1463.4 2119.4 L1466.4 2120 L1469.4 2120.6 L1472.4 2121.2 L1475.4 2121.8 L1478.4 2122.4 L1481.4 2123 L1484.4 2123.5 L1487.4 2124 L1490.4 2124.5 L1493.4 2125 L1496.4 2125.5 L1499.4 2125.9 L1502.4 2126.3 L1505.4 2126.7 L1508.4 2127 L1511.4 2127.4 L1514.4 2127.7 L1517.4 2128 L1520.4 2128.3 L1523.4 2128.5 L1526.4 2128.7 L1529.4 2128.9 L1532.4 2129.1 L1535.4 2129.2 L1538.4 2129.3 L1541.4 2129.5 L1544.4 2129.6 L1547.4 2129.7 L1550.4 2129.8 L1553.4 2129.9 L1556.4 2129.9 L1559.4 2130 L1562.4 2130.1 L1565.4 2130.2 L1568.4 2130.2 L1571.4 2130.3 L1574.4 2130.4 L1577.4 2130.4 L1580.4 2130.5 L1583.4 2130.5 L1586.4 2130.5 L1589.4 2130.6 L1592.4 2130.6 L1595.4 2130.6 L1598.4 2130.6 L1601.4 2130.6 L1604.4 2130.6 L1607.4 2130.6 L1610.4 2130.6 L1613.4 2130.6 L1616.4 2130.6 L1619.4 2130.6 L1622.4 2130.6 L1625.4 2130.6 L1628.4 2130.6 L1631.4 2130.6 L1634.4 2130.6 L1637.4 2130.6 L1640.4 2130.6 L1643.4 2130.6 L1646.4 2130.6 L1649.4 2130.6 L1652.4 2130.6 L1655.4 2130.6 L1658.4 2130.6 L1661.4 2130.6 L1664.4 2130.6 L1667.4 2130.6 L1670.4 2130.6 L1673.4 2130.6 L1676.4 2130.6 L1679.4 2130.6 L1682.4 2130.6 L1685.4 2130.6 L1688.4 2130.6 L1691.4 2130.6 L1694.4 2130.6 L1697.4 2130.6 L1700.4 2130.6 L1703.4 2130.6 L1706.4 2130.6 L1709.4 2130.6 L1712.4 2130.6 L1715.4 2130.6 L1718.4 2130.6 L1721.4 2130.6 L1724.4 2130.6 L1727.4 2130.6 L1730.4 2130.6 L1733.4 2130.6 L1736.4 2130.6 L1739.4 2130.6 L1742.4 2130.6 L1745.4 2130.6 L1748.4 2130.6 L1751.4 2130.6 L1754.4 2130.6 L1757.4 2130.6 L1760.4 2130.6 L1763.4 2130.6 L1766.4 2130.6 L1769.4 2130.6 L1772.4 2130.6 L1775.4 2130.6 L1778.4 2130.6 L1781.4 2130.6 L1784.4 2130.6 L1787.4 2130.6 L1790.4 2130.6 L1793.4 2130.6 L1796.4 2130.6 L1799.4 2130.6 L1802.4 2130.6 L1805.4 2130.6 L1808.4 2130.6 L1811.4 2130.6 L1814.4 2130.6 L1817.4 2130.6 L1820.4 2130.6 L1823.4 2130.6 L1826.4 2130.6 L1829.4 2130.6 L1832.4 2130.6 L1835.4 2130.6 L1838.4 2130.6 L1841.4 2130.6 L1844.4 2130.6 L1847.4 2130.6 L1850.4 2130.6 L1853.4 2130.6 L1856.4 2130.6 L1859.4 2130.6 L1862.4 2130.6 L1865.4 2130.6 L1868.4 2130.6 L1871.4 2130.6 L1874.4 2130.6 L1877.4 2130.6 L1880.4 2130.6 L1883.4 2130.6 L1886.4 2130.6 L1889.4 2130.6 L1892.4 2130.6 L1895.4 2130.6 L1898.4 2130.6 L1901.4 2130.6 L1904.4 2130.6 L1907.4 2130.6 L1910.4 2130.6 L1913.4 2130.6 L1916.4 2130.6 L1919.4 2130.6 L1922.4 2130.6 L1925.4 2130.6 L1928.4 2130.6 L1931.4 2130.6 L1934.4 2130.6 L1937.4 2130.6 L1940.4 2130.6 L1943.4 2130.6 L1944.4 2130.6" fill="none" stroke="#000" stroke-width="1.7" stroke-linejoin="round"/><line x1="807.1" y1="1710.2" x2="807.1" y2="2200" stroke="#000" stroke-width="3.7" stroke-dasharray="27 8.8"/></g><path d="M2100 1716.6 H156.5 V2198.2 H2100" fill="none" stroke="#000" stroke-width="4.6"/><line x1="149.4" y1="1898.7" x2="154.2" y2="1898.7" stroke="#333" stroke-width="1.4" /><text x="146.5" y="1907.2" font-size="26" text-anchor="end" fill="#4D4D4D" font-style="italic" textLength="105.8" lengthAdjust="spacingAndGlyphs">E. aurinia</text><line x1="149.4" y1="2013.7" x2="154.2" y2="2013.7" stroke="#333" stroke-width="1.4" /><text x="146.5" y="2021.3" font-size="26" text-anchor="end" fill="#4D4D4D" font-style="italic" textLength="95.9" lengthAdjust="spacingAndGlyphs">P. apollo</text><line x1="149.4" y1="2130.7" x2="154.2" y2="2130.7" stroke="#333" stroke-width="1.4" /><text x="146.5" y="2138.3" font-size="26" text-anchor="end" fill="#4D4D4D" font-style="italic" textLength="85.1" lengthAdjust="spacingAndGlyphs">P. arion</text><line x1="807.1" y1="2200" x2="807.1" y2="2206.6" stroke="#333" stroke-width="1.2" /><text x="807.1" y="2225.3" font-size="26.5" text-anchor="middle" fill="#4D4D4D">0</text><line x1="1460.4" y1="2200" x2="1460.4" y2="2206.6" stroke="#333" stroke-width="1.2" /><text x="1460.4" y="2225.3" font-size="26.5" text-anchor="middle" fill="#4D4D4D">5</text><text x="1092" y="2260.3" font-size="33.4" text-anchor="middle" textLength="777.5" lengthAdjust="spacingAndGlyphs">Difference between used and available temperatures</text><text x="1827.6" y="1828.8" font-size="38" fill="#1a1a1a" textLength="52.5" lengthAdjust="spacingAndGlyphs">***</text><text x="1827.6" y="1943.9" font-size="38" fill="#1a1a1a" textLength="52.5" lengthAdjust="spacingAndGlyphs">***</text><text x="1827.6" y="2058.9" font-size="38" fill="#1a1a1a" textLength="52.5" lengthAdjust="spacingAndGlyphs">***</text><rect x="2004.8" y="0" width="10" height="2270" fill="#fff"/></svg>
</body></html>
